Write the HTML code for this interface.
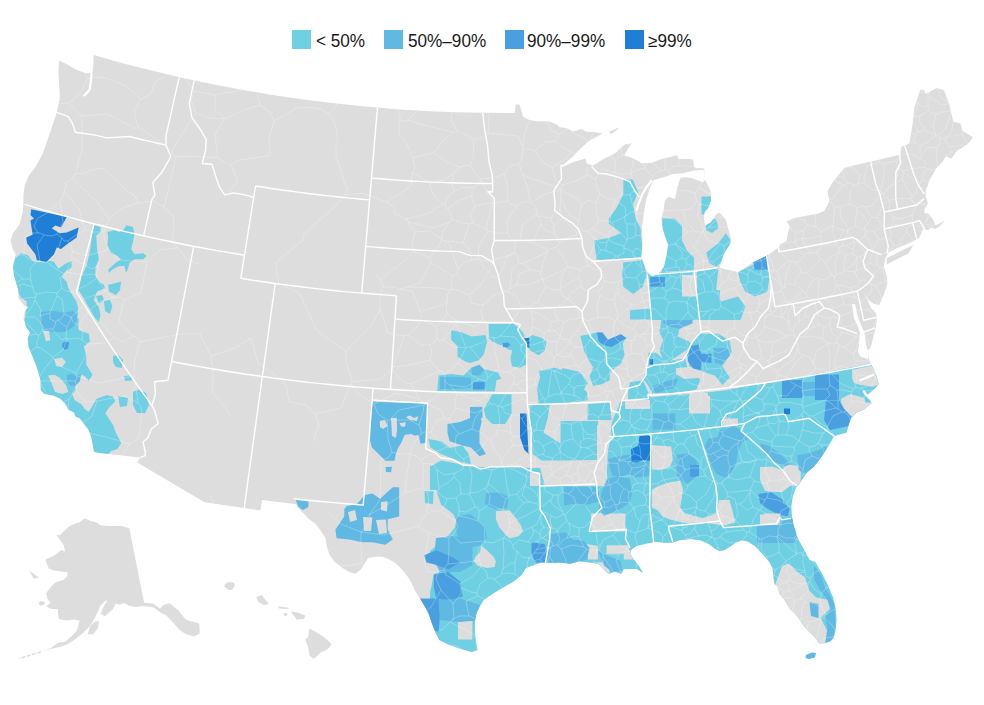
<!DOCTYPE html>
<html><head><meta charset="utf-8"><style>
html,body{margin:0;padding:0;background:#fff;}
body{width:984px;height:705px;overflow:hidden;position:relative;font-family:"Liberation Sans",sans-serif;}
.sw{position:absolute;top:30px;width:19px;height:19px;}
.tx{position:absolute;top:30.5px;font-size:17.6px;line-height:20px;color:#1a1a1a;white-space:nowrap;transform:scaleX(0.975);transform-origin:0 0;}
svg{position:absolute;left:0;top:0;}
</style></head><body>
<svg width="984" height="705" viewBox="0 0 984 705">
<path d="M59.1,60.6 L66.9,64.2 L76.8,69.9 L86.7,73.4 L92.5,72 L93.4,64 L93.6,55.1 L119.8,62.4 L149.7,70.1 L179.8,77.2 L210.1,83.7 L240.4,89.5 L270.9,94.7 L301.4,99.2 L332.1,103.1 L362.8,106.3 L393.6,108.9 L424.5,110.9 L455.4,112.2 L483.2,112.8 L514.9,112.9 L515.7,104.5 L519.6,104.5 L521.5,110.9 L523.3,117 L529.4,120 L536.7,121.2 L548.9,121.2 L556.2,124.3 L559.9,127.3 L566,127.9 L573.3,131.6 L581.8,129.1 L585.5,131.6 L595.2,132.2 L602.6,133.4 L590.4,140.1 L583,146.2 L573.3,156 L562.3,165.7 L562.3,167 L573.3,162.1 L585.5,158.4 L586.7,163.3 L592.8,165.7 L602.6,159.6 L614.8,153.5 L620,148.5 L624.8,144.4 L632.1,143.2 L628.4,148 L624.1,155.4 L628.4,156.6 L634.5,159 L641.8,163.3 L651.6,162.7 L661.3,159 L672.3,156.6 L677.2,154.8 L678.4,159 L688.2,159 L693,159.6 L694.3,167.6 L700.4,168.2 L703.4,168.2 L704.5,171 L705,180 L708.9,187.1 L711.3,193.2 L710.8,201.3 L707.9,208.4 L705.1,211.2 L703.7,215.5 L705.1,225.4 L710.8,222.6 L716.5,214 L719.6,212.8 L725.7,219.6 L728.7,230.3 L731,237.9 L730.2,244 L724.1,253.2 L721.1,262.3 L719.5,267.7 L737.9,272.2 L753.1,262.3 L766.8,255.5 L768.4,254.7 L779,247.1 L780.5,244 L786.6,241 L788.2,231.8 L789.7,227.3 L786.6,221.2 L794.3,218.1 L806.5,215.8 L818.7,213.5 L824.8,210.5 L829.3,201.3 L827.5,191 L833.3,181.2 L839.4,173.9 L844.3,167.8 L851.6,166 L863.8,162.9 L871.7,161.5 L880.9,159.3 L900.4,154.4 L901,147.1 L905.2,145.2 L909.5,143.5 L910.5,137 L912.7,123.5 L914.5,106.9 L920,90.3 L923.7,89.4 L925.6,94 L936.6,87.9 L944,90.3 L949.5,105 L953.2,121.6 L960.6,123.5 L962.4,130.8 L973.1,137.3 L968,143.7 L956.9,151.1 L951.4,158.5 L945.9,156.6 L942.2,162.2 L936.6,167.7 L929.3,180.6 L925.6,191.7 L925.6,196.1 L928,203.4 L924.4,209.5 L924.4,213.2 L928,213.2 L932.9,219.3 L935.4,225.4 L940.2,222.9 L945.1,220.5 L941,225 L935.4,229 L930.5,227.8 L928,230.2 L923.2,229 L919.5,237.6 L913.4,241.2 L904.9,244.9 L896.3,248.5 L889,252.2 L886.6,255.9 L885.4,258 L883.8,266.4 L887.2,277.7 L887.2,284.5 L883.8,294.7 L879.2,304.9 L873.6,303.8 L869,300.4 L863.3,292.5 L866,297 L871.3,308.3 L875.8,312.9 L877,318.6 L875.8,327.6 L873.8,335.4 L870.9,346.7 L868.1,351 L869.5,360.9 L872.3,366.6 L873.8,369.4 L876.6,376.5 L878.6,384.2 L875,388.4 L867.3,394.8 L871.5,403.3 L863.7,409.7 L856.6,412.5 L851,418.2 L848.1,426.7 L846.7,432.4 L836.8,435.2 L833.9,436.6 L829.7,443.7 L825.4,450.8 L820,459 L813.5,467 L806.8,472.8 L801.1,481.3 L795.5,488.4 L792.6,496.9 L791.2,506.8 L791.9,516.7 L794,526.7 L798.3,539.4 L804,549.4 L809.6,560 L815.3,562.1 L822.7,575 L828.2,586.1 L832.8,597.1 L835.6,608.2 L836.5,619.3 L835.6,630.3 L833.7,637.7 L830,641.4 L824.5,643.2 L819,643.2 L815.3,637.7 L809.8,632.2 L804.2,626.6 L799.6,619.3 L795,613.7 L789.5,608.2 L784,599 L779.4,593.5 L777.5,586.1 L774.7,584.2 L773.6,578 L772.5,568 L769,561.5 L762.4,553.7 L755.1,546.3 L747.8,541.5 L741.7,540.2 L735.6,542.7 L730.7,546.3 L724.6,550 L719.8,551.2 L714.9,548.8 L708.8,543.9 L700.2,540.2 L690.5,539 L679.5,540.2 L672.2,542.7 L664.9,542.7 L657,542.1 L655.1,542.1 L646.8,543.4 L636.6,546 L632.8,548.5 L630.2,551.1 L631.5,556.2 L639.2,566.4 L643,572.8 L636.6,568.9 L623.8,568.9 L621.3,574 L614.9,571.5 L608.5,574 L604.7,570.2 L598.3,563.8 L589.4,562.6 L579.1,561.3 L570.2,563.8 L560,562.6 L554.9,562.8 L545.7,562.8 L540.4,562.8 L532.5,565.5 L525.9,568.1 L521.9,574.7 L514,581.3 L504.7,586.6 L495.5,591.9 L487.6,597.2 L483.6,600 L480,606 L476.6,612.8 L474.9,621.3 L474.9,631.5 L475.8,641.7 L477.5,650.2 L471.5,651.9 L459.6,648.5 L449.4,645.1 L439.2,640 L435.8,633.2 L432.4,624.7 L428.9,614.5 L425.5,607.7 L420.4,599.2 L414.9,590 L412.1,583.7 L407.8,576.6 L403.5,570.9 L396.4,563.8 L389.3,559.5 L382.2,556.7 L375.2,556.7 L368.1,558.1 L365.2,562.4 L361,569.5 L355.3,573.7 L349.6,572.3 L342.5,568.1 L335.4,562.4 L329.7,555.3 L326.9,546.8 L325.5,538.3 L321.2,531.2 L315.5,524.1 L308.4,518.4 L301.4,511.3 L295.7,504.2 L294.8,503.9 L262,499.9 L260.6,510.4 L204.6,502.3 L137.1,462.6 L139.8,457.6 L93.2,452.2 L93.8,450.9 L92.4,443.8 L91,436.7 L88.2,429.6 L83.9,423.9 L79.6,418.2 L75.4,416.8 L74,412.6 L68.3,409.7 L65.5,404 L59.8,398.4 L52.7,395.5 L44.2,394.1 L40.6,389.9 L40.4,380.8 L38.3,372.3 L35.5,363.8 L31.9,355.2 L28.4,346.7 L27.7,338.2 L29.8,332.6 L26.2,326.9 L23.4,318.4 L24.8,311.3 L28.4,307 L24.1,305.6 L18.4,298.5 L18.4,290 L17,285.8 L14.2,275.9 L12.8,265.9 L15.6,254.6 L12.8,248.9 L10.6,240.4 L12.8,233.3 L16.3,229 L19.9,223.4 L22.7,212 L23.4,204.2 L23.4,195 L24.8,185.1 L28.4,176.6 L35.5,166.7 L42.6,153.9 L49.6,134 L53.9,121.3 L56.7,112.8 L57.4,108.5 L59.6,100 L59.8,95.4 L58.4,72.7Z" fill="#dddddd"/>
<path d="M129.3,528.2 L121.4,526 L114.9,526.1 L107.6,526 L100.5,525.3 L96,522.2 L90.6,521.1 L84.7,518.3 L79.9,522.2 L75.7,523.5 L69.8,526.1 L64.9,530.3 L59.7,535.2 L56.2,534.7 L60.4,540.2 L63.7,545.6 L65.1,551.5 L61.1,550.1 L57.3,553.6 L52.9,556.2 L45.4,559.6 L48.8,568.6 L53.9,570.4 L60.8,571.4 L67.7,572.3 L67.3,576.3 L63.3,580 L55.6,582.2 L51.2,586.5 L46.2,593 L47.2,598.2 L50.5,602.9 L46.2,606.3 L51.6,608.9 L57.7,608.9 L58.6,618.9 L66.9,620.6 L73.3,619.5 L79.6,620.6 L77,630.3 L72.2,635.8 L65,641.7 L58,642.7 L50.3,648.3 L41.2,651.8 L50.2,649.1 L59.8,647 L67,644.4 L74.2,640 L81.2,634.6 L87.9,628.2 L92.2,622.6 L95.5,616.8 L100.2,606.1 L104,601.9 L107.8,599.6 L102.7,608.5 L100.8,613.4 L104.7,616.6 L108.6,613.1 L112.5,609.5 L116,603.5 L120.1,604.7 L123.9,602.7 L128.3,605.4 L134.6,606.9 L142.8,606.3 L149.1,606.7 L153.5,607.4 L161.3,613.1 L166.2,615.2 L172.6,621.9 L179.6,630 L185.7,634.1 L193.9,636.6 L199.8,633.6 L199.3,624.2 L197.9,623 L191,621.2 L185.7,619.5 L178,610 L169.4,603.3 L163.4,604.9 L160.1,608.4 L152.5,603.5 L144.1,602.7Z" fill="#dddddd"/>
<path d="M88,634 L90,626 L95,621.5 L99,621 L98,628 L93,634.5Z" fill="#dddddd"/>
<path d="M29.5,570.8 L39,577.4 L33.8,578.7Z" fill="#dddddd"/>
<path d="M38.5,603 L41,601 L44.6,602 L44,605 L40,605.5Z" fill="#dddddd"/>
<path d="M41.2,651.8 L32.5,654.4 L25,656.8 L19.5,658.2" fill="none" stroke="#dddddd" stroke-width="1.5" stroke-dasharray="4 1.5"/>
<path d="M224.9,584.2 L228.5,582.1 L234.1,582.8 L234.9,585.6 L232,589.9 L228.5,589.9 L224.2,586.4Z" fill="#dddddd"/>
<path d="M256.2,597 L261.9,594.9 L265.4,599.9 L269,604.1 L264,604.9 L258.3,602Z" fill="#dddddd"/>
<path d="M278.2,606.3 L288.9,607.7 L288.2,609.1 L279,608.4Z" fill="#dddddd"/>
<path d="M283.5,612.7 L287.5,613.5 L286.5,616.2 L284,615.5Z" fill="#dddddd"/>
<path d="M291.1,611.3 L298.2,612.7 L305.3,615.5 L303.9,619.1 L296.7,619.8 L293.9,615.5 L291.8,613.4Z" fill="#dddddd"/>
<path d="M309.5,628.3 L316.7,632.6 L323.8,636.9 L331.6,644 L328,649 L320.9,652.5 L313.8,658.9 L309.5,655.4 L308.1,646.8 L305.3,639.7 L308.1,636.9Z" fill="#dddddd"/>
<clipPath id="land"><path d="M59.1,60.6 L66.9,64.2 L76.8,69.9 L86.7,73.4 L92.5,72 L93.4,64 L93.6,55.1 L119.8,62.4 L149.7,70.1 L179.8,77.2 L210.1,83.7 L240.4,89.5 L270.9,94.7 L301.4,99.2 L332.1,103.1 L362.8,106.3 L393.6,108.9 L424.5,110.9 L455.4,112.2 L483.2,112.8 L514.9,112.9 L515.7,104.5 L519.6,104.5 L521.5,110.9 L523.3,117 L529.4,120 L536.7,121.2 L548.9,121.2 L556.2,124.3 L559.9,127.3 L566,127.9 L573.3,131.6 L581.8,129.1 L585.5,131.6 L595.2,132.2 L602.6,133.4 L590.4,140.1 L583,146.2 L573.3,156 L562.3,165.7 L562.3,167 L573.3,162.1 L585.5,158.4 L586.7,163.3 L592.8,165.7 L602.6,159.6 L614.8,153.5 L620,148.5 L624.8,144.4 L632.1,143.2 L628.4,148 L624.1,155.4 L628.4,156.6 L634.5,159 L641.8,163.3 L651.6,162.7 L661.3,159 L672.3,156.6 L677.2,154.8 L678.4,159 L688.2,159 L693,159.6 L694.3,167.6 L700.4,168.2 L703.4,168.2 L704.5,171 L705,180 L708.9,187.1 L711.3,193.2 L710.8,201.3 L707.9,208.4 L705.1,211.2 L703.7,215.5 L705.1,225.4 L710.8,222.6 L716.5,214 L719.6,212.8 L725.7,219.6 L728.7,230.3 L731,237.9 L730.2,244 L724.1,253.2 L721.1,262.3 L719.5,267.7 L737.9,272.2 L753.1,262.3 L766.8,255.5 L768.4,254.7 L779,247.1 L780.5,244 L786.6,241 L788.2,231.8 L789.7,227.3 L786.6,221.2 L794.3,218.1 L806.5,215.8 L818.7,213.5 L824.8,210.5 L829.3,201.3 L827.5,191 L833.3,181.2 L839.4,173.9 L844.3,167.8 L851.6,166 L863.8,162.9 L871.7,161.5 L880.9,159.3 L900.4,154.4 L901,147.1 L905.2,145.2 L909.5,143.5 L910.5,137 L912.7,123.5 L914.5,106.9 L920,90.3 L923.7,89.4 L925.6,94 L936.6,87.9 L944,90.3 L949.5,105 L953.2,121.6 L960.6,123.5 L962.4,130.8 L973.1,137.3 L968,143.7 L956.9,151.1 L951.4,158.5 L945.9,156.6 L942.2,162.2 L936.6,167.7 L929.3,180.6 L925.6,191.7 L925.6,196.1 L928,203.4 L924.4,209.5 L924.4,213.2 L928,213.2 L932.9,219.3 L935.4,225.4 L940.2,222.9 L945.1,220.5 L941,225 L935.4,229 L930.5,227.8 L928,230.2 L923.2,229 L919.5,237.6 L913.4,241.2 L904.9,244.9 L896.3,248.5 L889,252.2 L886.6,255.9 L885.4,258 L883.8,266.4 L887.2,277.7 L887.2,284.5 L883.8,294.7 L879.2,304.9 L873.6,303.8 L869,300.4 L863.3,292.5 L866,297 L871.3,308.3 L875.8,312.9 L877,318.6 L875.8,327.6 L873.8,335.4 L870.9,346.7 L868.1,351 L869.5,360.9 L872.3,366.6 L873.8,369.4 L876.6,376.5 L878.6,384.2 L875,388.4 L867.3,394.8 L871.5,403.3 L863.7,409.7 L856.6,412.5 L851,418.2 L848.1,426.7 L846.7,432.4 L836.8,435.2 L833.9,436.6 L829.7,443.7 L825.4,450.8 L820,459 L813.5,467 L806.8,472.8 L801.1,481.3 L795.5,488.4 L792.6,496.9 L791.2,506.8 L791.9,516.7 L794,526.7 L798.3,539.4 L804,549.4 L809.6,560 L815.3,562.1 L822.7,575 L828.2,586.1 L832.8,597.1 L835.6,608.2 L836.5,619.3 L835.6,630.3 L833.7,637.7 L830,641.4 L824.5,643.2 L819,643.2 L815.3,637.7 L809.8,632.2 L804.2,626.6 L799.6,619.3 L795,613.7 L789.5,608.2 L784,599 L779.4,593.5 L777.5,586.1 L774.7,584.2 L773.6,578 L772.5,568 L769,561.5 L762.4,553.7 L755.1,546.3 L747.8,541.5 L741.7,540.2 L735.6,542.7 L730.7,546.3 L724.6,550 L719.8,551.2 L714.9,548.8 L708.8,543.9 L700.2,540.2 L690.5,539 L679.5,540.2 L672.2,542.7 L664.9,542.7 L657,542.1 L655.1,542.1 L646.8,543.4 L636.6,546 L632.8,548.5 L630.2,551.1 L631.5,556.2 L639.2,566.4 L643,572.8 L636.6,568.9 L623.8,568.9 L621.3,574 L614.9,571.5 L608.5,574 L604.7,570.2 L598.3,563.8 L589.4,562.6 L579.1,561.3 L570.2,563.8 L560,562.6 L554.9,562.8 L545.7,562.8 L540.4,562.8 L532.5,565.5 L525.9,568.1 L521.9,574.7 L514,581.3 L504.7,586.6 L495.5,591.9 L487.6,597.2 L483.6,600 L480,606 L476.6,612.8 L474.9,621.3 L474.9,631.5 L475.8,641.7 L477.5,650.2 L471.5,651.9 L459.6,648.5 L449.4,645.1 L439.2,640 L435.8,633.2 L432.4,624.7 L428.9,614.5 L425.5,607.7 L420.4,599.2 L414.9,590 L412.1,583.7 L407.8,576.6 L403.5,570.9 L396.4,563.8 L389.3,559.5 L382.2,556.7 L375.2,556.7 L368.1,558.1 L365.2,562.4 L361,569.5 L355.3,573.7 L349.6,572.3 L342.5,568.1 L335.4,562.4 L329.7,555.3 L326.9,546.8 L325.5,538.3 L321.2,531.2 L315.5,524.1 L308.4,518.4 L301.4,511.3 L295.7,504.2 L294.8,503.9 L262,499.9 L260.6,510.4 L204.6,502.3 L137.1,462.6 L139.8,457.6 L93.2,452.2 L93.8,450.9 L92.4,443.8 L91,436.7 L88.2,429.6 L83.9,423.9 L79.6,418.2 L75.4,416.8 L74,412.6 L68.3,409.7 L65.5,404 L59.8,398.4 L52.7,395.5 L44.2,394.1 L40.6,389.9 L40.4,380.8 L38.3,372.3 L35.5,363.8 L31.9,355.2 L28.4,346.7 L27.7,338.2 L29.8,332.6 L26.2,326.9 L23.4,318.4 L24.8,311.3 L28.4,307 L24.1,305.6 L18.4,298.5 L18.4,290 L17,285.8 L14.2,275.9 L12.8,265.9 L15.6,254.6 L12.8,248.9 L10.6,240.4 L12.8,233.3 L16.3,229 L19.9,223.4 L22.7,212 L23.4,204.2 L23.4,195 L24.8,185.1 L28.4,176.6 L35.5,166.7 L42.6,153.9 L49.6,134 L53.9,121.3 L56.7,112.8 L57.4,108.5 L59.6,100 L59.8,95.4 L58.4,72.7Z"/></clipPath>
<g clip-path="url(#land)">
<path d="M15.4,257.4 L21.1,253.3 L27.6,255 L32.5,260.7 L39,262.3 L47.2,260.7 L53.7,261.5 L58.5,268.8 L65,263.9 L71.5,260.7 L71.5,267.2 L65,272 L61.8,276.9 L66.7,281.8 L68.3,288.3 L73.2,296.4 L76.4,301.3 L78,307.8 L78,314.3 L76.4,320.8 L74.8,330 L26,330 L24.4,320.8 L26,311.1 L26.8,301.3 L21.1,298 L16.3,288.3 L13,276.9 L13,267.2Z" fill="#6fcfe3"/>
<path d="M31.2,209.2 L66.7,217 L61,227.6 L55.3,225.5 L51.8,228.3 L59.6,233.3 L66.7,232.6 L78.7,227.6 L76.6,237.6 L66.7,244.6 L61,248.9 L56.7,247.5 L53.9,254.6 L46.8,261.7 L36.9,260.2 L35.5,254.6 L27,243.2 L26.2,237.6 L32.6,234.7 L30.5,220.5 L34,218.4 L30.5,214.9Z" fill="#1f7fd6"/>
<path d="M93.7,225.2 L100.5,226.9 L100.5,232 L96.3,235.4 L97.1,249 L98.8,259.3 L95.4,267.8 L95.4,276.3 L100.5,283.1 L103.9,284.8 L104.8,288.2 L97.1,291.6 L93.7,300.1 L98.8,306.9 L100.5,315.4 L98.8,322.2 L95.4,318.8 L88.6,306.9 L81.8,295 L78.4,289.9 L81.8,276.3 L86.9,264.4 L90.3,249 L92,235.4Z" fill="#6fcfe3"/>
<path d="M107.3,232 L114.1,230.3 L119.3,232 L124.4,228.6 L126.1,225.2 L132.9,226.9 L134.6,233.7 L132.9,242.2 L131.2,249 L134.6,254.1 L143.1,253.3 L146.5,255.9 L143.1,259.3 L134.6,259.3 L129.5,262.7 L127.8,269.5 L126.1,272.9 L124.4,266.1 L119.3,266.1 L112.4,269.5 L109,272.9 L108.2,269.5 L115.9,262.7 L121,259.3 L117.6,255.9 L110.7,252.4 L107.3,245.6 L108.2,237.1Z" fill="#6fcfe3"/>
<path d="M108.2,284.8 L115.9,283.1 L121,281.4 L120.1,289.9 L115.9,295 L109,291.6Z" fill="#6fcfe3"/>
<path d="M104,301 L110,300 L112.4,306 L110,313.7 L105,311Z" fill="#6fcfe3"/>
<path d="M96,296 L102,295 L104,300 L99,303.5Z" fill="#6fcfe3"/>
<path d="M346.8,505.9 L357,503.9 L364.7,494.9 L372.4,493.6 L380,498.7 L392.8,487.3 L399.2,487.3 L399.2,516.6 L387.7,519.2 L387.7,529.4 L392.8,539.6 L385.2,544.7 L372.4,542.2 L362.2,542.2 L349.4,539.6 L336.6,538.3 L335.4,529.4 L344.3,516.6 L344.3,509Z" fill="#5fb9e2"/>
<path d="M363,517 L372.4,517.5 L371,531 L364,531Z" fill="#dddddd"/>
<path d="M376,520 L386,519.5 L387,533 L379,534Z" fill="#dddddd"/>
<path d="M381,502 L387.7,501.3 L387,511.5 L381,510Z" fill="#dddddd"/>
<path d="M348,512 L355,510 L357,520 L350,522Z" fill="#dddddd"/>
<path d="M295.7,499.9 L308.4,501.4 L308.4,507 L302.8,509.9 L298.5,507Z" fill="#5fb9e2"/>
<path d="M26,318 L78.5,318 L78.5,330 L88.7,333.8 L90,341.5 L83.6,346.6 L86.2,354.3 L86.2,364.5 L92.6,374.7 L88.7,381.1 L84.9,376 L81.1,374.7 L74.7,386.2 L76,390 L72.1,393.9 L74.7,400.2 L81.1,404.1 L84.9,409.2 L88.7,411.7 L91.3,407.9 L96.4,399 L106.6,395.1 L113,396.4 L115.2,401.4 L109.3,407.3 L105.3,413.3 L109.3,419.3 L113.2,425.2 L115.2,431.2 L121.2,443.1 L117.2,449 L111.2,451 L107.3,455 L97.3,453 L93.8,450.9 L92.4,443.8 L91,436.7 L88.2,429.6 L83.9,423.9 L79.6,418.2 L75.4,416.8 L74,412.6 L68.3,409.7 L65.5,404 L59.8,398.4 L52.7,395.5 L44.2,394.1 L40.6,389.9 L40.4,380.8 L38.3,372.3 L35.5,363.8 L31.9,355.2 L28.4,346.7 L27.7,338.2 L29.8,332.6 L26.2,326.9Z" fill="#6fcfe3"/>
<path d="M67,375 L72,373.4 L75,376 L81,374.7 L80,381 L75,386.2 L70,385 L67,381Z" fill="#5fb9e2"/>
<path d="M41,312 L53.7,311.1 L65,312.7 L73.2,311.1 L77,315 L76.4,322 L73.2,327 L65,332 L52,332 L44,329 L40.5,320.8Z" fill="#5fb9e2"/>
<path d="M62.5,343 L66,341.5 L69,342.5 L68,348.5 L65,350 L62,347Z" fill="#4a9fe0"/>
<path d="M43,331 L49,331 L50.4,340 L46,341.5Z" fill="#dddddd"/>
<path d="M54.3,359 L62,357.5 L65.8,362 L62,367 L56,366Z" fill="#dddddd"/>
<path d="M47.9,375.5 L54.3,374.7 L60,378 L66,385 L68.3,392 L62,394 L55,392 L52,384Z" fill="#dddddd"/>
<path d="M113,356 L118,355 L123,360 L122,368 L116,367 L113,362Z" fill="#6fcfe3"/>
<path d="M124,376 L131,375.6 L132,380.5 L125,381Z" fill="#6fcfe3"/>
<path d="M133,392 L139,389.5 L146,393 L149,405 L145,413.3 L137,413 L133,405Z" fill="#6fcfe3"/>
<path d="M118,396 L128,398 L127,406 L120,407Z" fill="#6fcfe3"/>
<path d="M451.2,330.3 L460.6,331.9 L471.5,336.5 L485.6,335 L487.1,341.2 L484,353.7 L479.3,360 L470,363.1 L465.3,361.5 L457.5,356.8 L457.5,345.9 L451.2,339.7Z" fill="#6fcfe3"/>
<path d="M488.7,324 L501.2,324 L513.7,324 L519.9,328.7 L524,334 L526.1,345.9 L526.1,364.6 L519.9,367.8 L512.1,366.2 L510.5,358.4 L512.1,350.6 L507.4,349 L504.3,345.9 L498,344.3 L491.8,341.2 L488.7,338.1Z" fill="#6fcfe3"/>
<path d="M502.7,343 L508,342.5 L510.5,345 L507,347.5 L503,347Z" fill="#4a9fe0"/>
<path d="M438.7,375.6 L451.2,374 L463.7,375.6 L471.5,367.8 L479.3,364.6 L484,369.3 L491.8,370.9 L498,372.4 L501.2,378.7 L496.5,380.2 L494.9,391.2 L437.2,391.2Z" fill="#6fcfe3"/>
<path d="M440,377 L462,377 L471,378 L471,388 L455,389 L440,389Z" fill="#5fb9e2"/>
<path d="M473,382 L485.6,381.8 L485,389.6 L473,389.6Z" fill="#4a9fe0"/>
<path d="M471.5,367.8 L479.3,365 L484,370 L480,375.6 L472,375Z" fill="#5fb9e2"/>
<path d="M527.7,338.1 L532.4,335 L541.7,338.1 L546.4,341.2 L544.9,350.6 L538.6,355.3 L532.4,352.1 L527.7,347.5Z" fill="#6fcfe3"/>
<path d="M524.6,338 L529.3,338 L529.3,347.5 L526,347Z" fill="#1f7fd6"/>
<path d="M538.6,370.9 L554.2,367.8 L560.5,369.3 L570,378.7 L572,392 L570,403.7 L538.6,403.7 L537.1,388 L540.2,377.1Z" fill="#6fcfe3"/>
<path d="M372.4,401.8 L426.8,403.5 L426.3,442.7 L420.6,443.8 L418.3,434.7 L414.9,435.8 L411.5,434.1 L404.7,434.7 L401.3,442.7 L397.9,448.3 L395.6,455.1 L394.5,460.8 L385.4,460.8 L378.6,454 L371.8,447.2 L370.1,440.4 L371.2,417.7Z" fill="#5fb9e2"/>
<path d="M385.6,467 L392,466.8 L391,472.2 L386,472Z" fill="#5fb9e2"/>
<path d="M391,418 L396.8,417.7 L397,430 L396,438 L392,436Z" fill="#dddddd"/>
<path d="M379.7,421 L385,420 L387.7,426 L383,429 L380,427Z" fill="#dddddd"/>
<path d="M399.5,423 L405.8,422.2 L405,426.8 L401,426.5Z" fill="#dddddd"/>
<path d="M406,417 L410,415.4 L414,418 L418.3,416 L417,421 L410,420Z" fill="#dddddd"/>
<path d="M428.3,439.1 L441.1,441.2 L449.6,447.6 L462.4,445.5 L468.8,454 L471,464.7 L462.4,462.6 L451.8,458.3 L441.1,454 L430.4,447.6Z" fill="#6fcfe3"/>
<path d="M447.5,424.1 L460.3,422 L471,417.7 L471,411.3 L479.5,409.2 L481.6,422 L479.5,430.5 L479.5,443.4 L485.9,454 L479.5,456.2 L471,447.6 L462.4,445.5 L449.6,441.2 L447.5,432.7Z" fill="#5fb9e2"/>
<path d="M483.8,409.2 L492.3,394.3 L511.5,394.3 L511.5,413.5 L505.1,424.1 L492.3,424.1 L485.9,417.7Z" fill="#6fcfe3"/>
<path d="M470,407 L482.4,406.8 L482.4,418 L470,418Z" fill="#5fb9e2"/>
<path d="M520,413.5 L526.5,413.5 L528.6,454 L524.3,449.8 L520,436.9Z" fill="#1f7fd6"/>
<path d="M529.5,405 L549.6,405 L547.8,417.7 L543.5,432.7 L560.6,443.4 L560.6,460.4 L541.4,460.4 L532.9,454 L530.7,432.7Z" fill="#6fcfe3"/>
<path d="M420,403.7 L427,403.7 L427,420 L420,420Z" fill="#5fb9e2"/>
<path d="M430.4,466.8 L441.1,460.4 L451.8,462.6 L462.4,464.7 L471,466.8 L479.5,466.8 L490.2,469 L498.7,466.8 L509.4,466.8 L522.2,471.1 L532.9,473.2 L539.3,473.2 L539.3,488.2 L543.5,503.1 L546,530 L430.4,530 L428.3,509.5 L432.6,486 L430.4,475.4Z" fill="#6fcfe3"/>
<path d="M522,471.5 L539.3,473.2 L539.3,486 L528,486Z" fill="#dddddd"/>
<path d="M461.3,467 L476,466.4 L486.9,470 L486,482 L478,487.7 L466,485 L461.3,476Z" fill="#5fb9e2"/>
<path d="M486,490 L500,489.1 L509.6,495 L508,508 L495,510.5 L485.4,503Z" fill="#5fb9e2"/>
<path d="M560,378 L576,382 L587,392 L587.6,400.6 L575,402 L560,402Z" fill="#6fcfe3"/>
<path d="M562,368 L580,372 L588,383 L582,392 L568,395 L560,390Z" fill="#6fcfe3"/>
<path d="M580.3,336.1 L596.9,332.4 L602.4,332.4 L607.9,339.8 L620.8,334.2 L626.4,337.9 L622.7,343.5 L624.5,354.5 L620.8,363.7 L615.3,367.4 L609.8,373 L609.8,380.3 L602.4,384 L593.2,385.9 L589.5,376.6 L593.2,367.4 L587.6,358.2 L584,350.8Z" fill="#6fcfe3"/>
<path d="M596.9,332.4 L602.4,332.4 L607.9,339.8 L620.8,334.2 L626.4,337.9 L620.8,341.6 L611.6,347.1 L604.2,345.3 L598.7,341.6Z" fill="#4a9fe0"/>
<path d="M630,310.3 L650.3,308.4 L650.3,319.5 L630,319.5Z" fill="#6fcfe3"/>
<path d="M652.2,288 L698.2,288 L698.2,308.4 L692.7,321.3 L679.8,326.9 L678,336.1 L689,341.6 L692.7,345.3 L679.8,354.5 L674.3,358.2 L668.8,361.9 L663.2,360 L659.5,350.8 L663.2,339.8 L659.5,332.4 L661.4,319.5 L652.2,317.6 L651.2,301.1Z" fill="#6fcfe3"/>
<path d="M663.2,317.6 L679.8,315.8 L690.9,317.6 L692.7,323.2 L679.8,328.7 L670.6,326.9 L663.2,323.2Z" fill="#5fb9e2"/>
<path d="M648.5,352.7 L655.9,352.7 L666.9,361.9 L674.3,360 L685.3,358.2 L687.2,367.4 L696.4,373 L700.1,380.3 L696.4,389.5 L685.3,391.4 L670.6,393.2 L652.2,393.2 L648.5,385.9 L643,378.5 L646.6,369.3 L648.5,361.9Z" fill="#6fcfe3"/>
<path d="M652.2,385.9 L670.6,380.3 L678,378.5 L674.3,387.7 L655.9,393.2Z" fill="#5fb9e2"/>
<path d="M676,368 L690,367 L699,372 L699,378 L684,379 L676,374Z" fill="#dddddd"/>
<path d="M698.6,333.7 L718.8,333.7 L729.8,341 L731.6,352 L722.4,366.6 L729.8,377.6 L722.4,384.9 L715.1,375.7 L704.1,372 L689.5,366.6 L685.9,352 L693.2,342.8Z" fill="#6fcfe3"/>
<path d="M689.5,346.5 L698.6,344.6 L702.3,357.4 L700.5,370.2 L693.2,368.4 L687.7,361Z" fill="#4a9fe0"/>
<path d="M713.3,348.3 L727.9,348.3 L729.8,355.6 L722.4,364.8 L715.1,362.9Z" fill="#5fb9e2"/>
<path d="M700.5,354 L711.5,353.8 L711.5,363 L702,362Z" fill="#4a9fe0"/>
<path d="M649.5,359.5 L653,359 L653,364.7 L649.5,364.5Z" fill="#1f7fd6"/>
<path d="M722,399.5 L730,399.5 L730,406.8 L722,406.8Z" fill="#5fb9e2"/>
<path d="M750,386 L765,384 L764,398 L752,400Z" fill="#dddddd"/>
<path d="M630,382.2 L643,380.3 L648.5,393.2 L650.3,398.8 L637.4,400.6 L628.2,400.6 L628.2,391.4Z" fill="#6fcfe3"/>
<path d="M587.6,404.3 L609.8,402.4 L611.6,420 L587.6,420Z" fill="#6fcfe3"/>
<path d="M620.8,402.4 L652.2,396.9 L720,391.4 L720,420 L620.8,420Z" fill="#6fcfe3"/>
<path d="M689,394 L707.5,393 L707.5,420 L689,420Z" fill="#dddddd"/>
<path d="M698,290 L720,290 L720,317.6 L705,316 L700,305Z" fill="#6fcfe3"/>
<path d="M560.6,421 L598,421 L598,460 L560.6,460.4Z" fill="#6fcfe3"/>
<path d="M430,466 L540,468 L545,486 L598,486 L605,470 L612,422 L620,402 L720,391 L760,384 L800,377 L880,362 L885,660 L430,660Z" fill="#6fcfe3"/>
<path d="M597,425 L609,425 L611,436 L608,450 L607,470 L607,486 L597,486Z" fill="#dddddd"/>
<path d="M591.3,513.5 L625.3,513.5 L625.3,531.6 L591.3,531.6Z" fill="#dddddd"/>
<path d="M651.9,444.9 L671.3,446.4 L672.8,459.8 L669.8,467.3 L659.4,470.2 L651.9,468.7Z" fill="#dddddd"/>
<path d="M651.9,489.6 L660.9,485.1 L669.8,482.2 L680.2,480.7 L683.2,489.6 L681.7,498.6 L680.2,507.5 L684.7,513.5 L702.6,517.9 L716,513.5 L719,500 L729.4,500 L732.4,510.5 L735.4,522.4 L723.5,525.4 L702.6,522.4 L684.7,523.1 L669.8,519.4 L662.4,516.4 L657.9,510.5 L651.9,507.5Z" fill="#dddddd"/>
<path d="M625,400 L650,400 L650,409 L625,409Z" fill="#dddddd"/>
<path d="M689,396 L710,396 L710,413.6 L689,413.6Z" fill="#dddddd"/>
<path d="M586.8,544 L598,546 L598,559.5 L588,559.5Z" fill="#dddddd"/>
<path d="M606.6,545.3 L629.3,545.3 L629.3,553.8 L606.6,553.8Z" fill="#dddddd"/>
<path d="M594,562.3 L609.5,562.3 L609.5,575 L594,575Z" fill="#dddddd"/>
<path d="M623.7,551 L637.9,551 L637.9,559.5 L623.7,559.5Z" fill="#dddddd"/>
<path d="M598,551 L609.5,556.6 L620.8,561 L622.2,570.8 L612.3,572.2 L603.8,565.2Z" fill="#5fb9e2"/>
<path d="M530,472.6 L539,472.6 L539,486 L530,486Z" fill="#dddddd"/>
<path d="M690,392.7 L708,392.7 L708,413 L690,413Z" fill="#dddddd"/>
<path d="M841.1,398.7 L850.3,394.1 L857.6,395.9 L864.1,397.8 L865,402.4 L870.5,402.4 L871.5,405.1 L862.2,411.6 L854,417.1 L850.3,415.3 L843.8,407.9 L841.1,402.4Z" fill="#dddddd"/>
<path d="M760,467 L772,466.4 L782.2,470 L786,464.6 L800.7,466 L800.7,484.9 L790,486 L782.2,492.2 L765,491 L760,480Z" fill="#dddddd"/>
<path d="M760,514.4 L778.5,514.4 L778.5,527.3 L760,527.3Z" fill="#dddddd"/>
<path d="M723,418.4 L738,418.4 L738,425.8 L723,425.8Z" fill="#dddddd"/>
<path d="M495.9,511.3 L509.5,510.2 L515.1,517 L520.8,525 L523.1,531.8 L518.5,536.3 L509.5,538.6 L504.9,534 L499.3,527.2 L495.9,519.3Z" fill="#dddddd"/>
<path d="M481.1,545.4 L486.8,549.9 L493.6,556.7 L495.9,561.3 L494.7,567 L486.8,568.1 L477.7,565.8 L473.7,561.3 L475.4,556.7 L480,552.2Z" fill="#dddddd"/>
<path d="M458,620.3 L472.4,620.3 L472.4,639.6 L458,639.6Z" fill="#dddddd"/>
<path d="M400,490 L436.2,490 L441,504.5 L453.1,514.1 L457.9,523.8 L448.3,535.8 L433.8,547.9 L424.1,555.2 L431.4,562.4 L443.4,569.6 L433.8,574.5 L431.4,586.5 L429,596.2 L419.3,598.6 L424.1,608.2 L431.4,620.3 L433.8,632.4 L436.2,639.6 L436,660 L400,660Z" fill="#dddddd"/>
<path d="M486,493 L500,492.4 L508.6,497 L507,508 L495,509.3 L485,504Z" fill="#5fb9e2"/>
<path d="M456.7,516.5 L470,514.1 L484.5,526.2 L486.9,538.3 L479.6,545.5 L467.6,548 L457.9,538.3 L455.5,526.2Z" fill="#5fb9e2"/>
<path d="M436,538 L455,535.8 L472.4,545 L472.4,565 L460,572 L440,572 L433.8,560Z" fill="#5fb9e2"/>
<path d="M424.1,555.2 L436.2,550.3 L453.1,557.6 L460.3,562.4 L448.3,569.6 L436.2,564.8 L426.5,562.4Z" fill="#4a9fe0"/>
<path d="M433.8,574.5 L448.3,572 L460.3,581.7 L462.7,596.2 L448.3,601 L436.2,598.6 L433.8,586.5Z" fill="#4a9fe0"/>
<path d="M419,598.6 L438.6,598.6 L440,615 L438.6,632.4 L430,630 L422,612Z" fill="#4a9fe0"/>
<path d="M438.6,600 L460,598.6 L479.6,605 L479.6,620.3 L460,622 L440,620Z" fill="#5fb9e2"/>
<path d="M531.5,541.9 L544.8,544.3 L547.2,552.7 L544.8,562.4 L535.1,562.4 L531.5,552.7Z" fill="#4a9fe0"/>
<path d="M549.9,533.9 L565.5,532.5 L572.6,539.6 L583.9,541 L589.6,548.1 L586.8,559.5 L572.6,563.7 L547,563.7Z" fill="#5fb9e2"/>
<path d="M564,487.1 L598.1,487.1 L599.5,501.3 L583.9,505.5 L572.6,504.1 L564,505.5Z" fill="#5fb9e2"/>
<path d="M608.4,459 L618.3,456.2 L629.7,454.8 L632.5,461.9 L631.1,471.8 L624,476 L612.7,476 L609.8,467.5Z" fill="#5fb9e2"/>
<path d="M626.9,466.1 L638.2,461.9 L649.5,460.4 L649.5,476 L636.8,477.4 L628.3,474.6Z" fill="#5fb9e2"/>
<path d="M639.5,436 L650.5,435.5 L650.5,461 L644,460 L637,462.5 L631.5,462 L631,449 L638,446Z" fill="#1f7fd6"/>
<path d="M607,478.9 L618.3,476 L629.7,478.9 L632.5,491.6 L629.7,503 L618.3,510 L604.2,515.7 L598.5,510 L601.3,493Z" fill="#5fb9e2"/>
<path d="M652.6,413.6 L675.3,413.6 L675.3,429.5 L652.6,429.5Z" fill="#5fb9e2"/>
<path d="M676,455 L688,453.3 L697.7,462 L696,478 L686,484.5 L677,476Z" fill="#5fb9e2"/>
<path d="M826,400.5 L839.2,400.5 L843.8,408.8 L851.2,417.1 L848.4,426 L830,430 L824,420Z" fill="#4a9fe0"/>
<path d="M797,455.3 L808.1,453.5 L819.1,449.8 L826.5,446.1 L828,455.3 L815.4,466.4 L804.4,473.8 L798.8,470.1Z" fill="#5fb9e2"/>
<path d="M760.1,443.4 L769.3,446.1 L782.2,455.3 L789.6,464.6 L784.1,466.4 L773,460.9 L763.8,453.5Z" fill="#5fb9e2"/>
<path d="M758.3,494.1 L771.2,492.2 L782.2,499.6 L789.6,508.8 L787.8,516.2 L778.5,514.4 L767.5,508.8 L760.1,503.3Z" fill="#4a9fe0"/>
<path d="M719.5,429.5 L734.3,426.7 L743.5,431.4 L749,438.7 L741.7,442.4 L738,451.7 L736.1,462.7 L732.4,471.9 L725,477.5 L715.8,473.8 L710.3,462.7 L704.8,446.1 L708.4,438.7 L717.7,436.9Z" fill="#5fb9e2"/>
<path d="M690,465 L699,465 L699,476.7 L690,476.7Z" fill="#4a9fe0"/>
<path d="M782,380 L802,380 L802,398 L782,398Z" fill="#4a9fe0"/>
<path d="M815,374.6 L839,374.6 L839,400 L815,400Z" fill="#4a9fe0"/>
<path d="M802,382 L815,382 L815,396 L802,396Z" fill="#5fb9e2"/>
<path d="M852.1,370.1 L871.5,365.5 L877.9,376.6 L877.9,384.9 L872.4,386.7 L866.8,385.8 L860.4,384.9 L854,383 L852.1,378.4Z" fill="#dddddd"/>
<path d="M784,408.6 L790,408.6 L790,414.3 L784,414.3Z" fill="#1f7fd6"/>
<path d="M623.4,179.5 L633.2,179.5 L638,191.7 L633.2,203.9 L635.6,218.5 L640.5,228.3 L643,257.6 L596.6,260 L594.1,240.5 L608.8,238 L621,233.2 L608.8,223.4 L608.8,218.5 L616.1,208.8 L623.4,194.1Z" fill="#6fcfe3"/>
<path d="M623.4,262.4 L642.9,260 L646.6,274.6 L642.9,286.8 L633.2,294.1 L623.4,286.8 L622.2,274.6Z" fill="#6fcfe3"/>
<path d="M647.8,273 L694.1,271 L696.6,286.8 L699,320 L650.2,320Z" fill="#6fcfe3"/>
<path d="M682,275 L696.6,275 L696.6,296.6 L682,296.6Z" fill="#dddddd"/>
<path d="M650.2,277 L664.9,277 L664.9,286.8 L650.2,286.8Z" fill="#4a9fe0"/>
<path d="M696.6,271 L718.5,268 L716.1,289.3 L721,301.5 L738,296.6 L745.4,306.3 L740.5,320 L699,320Z" fill="#6fcfe3"/>
<path d="M738,272.2 L752.7,264.9 L767.3,255.1 L769.8,274.6 L767.3,291.7 L755.1,296.6 L745.4,291.7 L740.5,282Z" fill="#6fcfe3"/>
<path d="M752.7,262 L767.3,255 L767.3,269.8 L755,269.8Z" fill="#4a9fe0"/>
<path d="M662.4,218.5 L674.6,218.5 L682,225.9 L682,240.5 L686.8,250.2 L694.1,257.6 L694.1,270 L662,272 L662.4,245.4Z" fill="#6fcfe3"/>
<path d="M701.5,196.6 L711.2,196.6 L711.2,208.8 L706.3,216.1 L701.5,213.7Z" fill="#6fcfe3"/>
<path d="M706,221 L716,219 L718.5,228 L712,233 L706,230Z" fill="#6fcfe3"/>
<path d="M706.3,252.7 L718.5,242.9 L725.9,233.2 L730.7,240.5 L728.3,250.2 L721,262.4 L716.1,267.3 L708.8,262.4Z" fill="#6fcfe3"/>
<path d="M775.4,583.9 L782.2,565.8 L789,563.5 L798,572.6 L804.9,577.1 L809.4,590.7 L816.2,597.5 L827.5,599.8 L829.8,608.9 L820.7,618 L825.3,627 L829.8,636.1 L825.3,643 L815,648 L790,630 L765,600Z" fill="#dddddd"/>
<path d="M814,565.8 L820.7,574.9 L825.3,588.5 L829.8,595.3 L834.4,604.4 L835.5,627 L832.1,640.7 L825.3,643 L827.5,627 L825.3,618 L831,608.9 L827.5,599.8 L820.7,590.7 L814,579.4Z" fill="#5fb9e2"/>
<path d="M809.4,602 L818.5,604 L818.5,618 L811,616Z" fill="#5fb9e2"/>
<path d="M757,525 L782,525 L782,543 L757,543Z" fill="#5fb9e2"/>
<path d="M782,518 L796,518 L796,543 L782,543Z" fill="#5fb9e2"/>
<path d="M764,513.6 L780,513.6 L780,522.7 L764,522.7Z" fill="#dddddd"/>
<path d="M805,653 L816,652 L815,660 L806,660Z" fill="#5fb9e2"/>
<path d="M424.5,491 L433.7,491 L433,504 L425,503Z" fill="#6fcfe3"/>
</g>
<path d="M806,655 L812,652.5 L816,653 L815,657.5 L809,659 L805.5,658Z" fill="#5fb9e2"/>
<path d="M609,132 L614,129.5 L619,127.5 L617,130 L611,134Z" fill="#dddddd"/>
<path d="M892,51L890,52L887,55M887,55L878,53L871,46M71,43L80,57L87,79M27,91L40,98L44,105M87,79L80,94L69,103M44,105L56,104L69,103M213,518L214,511L212,499M213,518L217,522L224,528M224,528L227,530L229,531M296,626L295,625L294,625M294,625L264,614L249,593M249,593L238,602L225,626M368,596L369,602L373,605M328,512L341,524L361,532M314,442L315,435L316,432M361,532L371,520L369,515M381,460L380,500L369,515M369,588L366,577L362,563M362,563L361,545L361,532M428,572L424,562L429,533M361,532L384,535L418,526M429,533L425,531L418,526M211,496L211,498L212,499M316,432L319,426L315,414M315,414L306,405L289,402M142,412L140,425L139,438M212,392L224,406L230,416M529,61L518,61L507,59M504,50L505,56L507,59M913,54L908,57L904,57M896,52L899,54L904,57M892,51L895,51L896,52M962,50L968,53L976,56M976,56L978,58L978,60M785,45L792,49L801,50M859,52L861,52L863,52M863,52L866,50L871,46M954,92L961,92L964,92M954,92L955,89L956,87M969,87L966,89L964,92M969,87L968,86L967,86M967,86L962,86L956,87M967,86L960,82L956,76M956,87L954,83L953,79M956,76L954,77L953,79M953,93L953,101L951,104M953,93L948,91L939,81M939,81L938,81L936,81M950,103L950,103L951,104M950,103L941,98L935,83M935,83L936,82L936,81M952,106L951,105L951,104M952,106L958,102L962,100M954,92L953,93L953,93M964,92L962,96L962,100M953,79L949,81L939,81M926,222L928,218L924,204M926,222L931,211L939,208M924,204L929,203L933,204M933,204L934,205L939,208M972,196L967,183L971,175M972,196L967,201L959,205M959,205L956,205L953,205M953,205L955,191L956,184M956,184L958,181L960,177M960,177L967,176L971,175M940,189L947,197L949,209M940,189L947,190L956,184M949,209L951,207L953,205M973,122L975,132L976,139M981,400L977,405L977,410M822,664L819,654L816,648M800,652L803,648L807,645M807,645L812,644L814,647M814,647L815,647L816,648M73,252L87,256L106,250M73,252L71,255L72,258M72,258L92,269L98,265M106,250L100,258L98,265M87,312L85,309L82,307M87,312L101,301L117,297M117,297L111,297L106,291M106,291L92,296L81,300M81,300L82,303L82,307M44,105L45,115L41,122M87,79L97,77L106,78M61,639L66,639L70,640M85,655L81,650L81,644M81,644L78,642L74,639M74,639L72,639L70,640M235,544L236,562L245,572M245,572L265,573L303,574M326,567L315,569L303,574M183,627L185,628L187,631M249,593L252,583L245,572M229,531L232,536L235,544M225,626L205,626L187,631M362,563L354,565L326,567M361,532L361,532L361,532M294,625L303,598L303,574M368,596L370,594L369,588M373,605L390,609L413,622M434,643L432,636L432,633M413,622L422,626L432,633M515,655L512,643L500,636M500,636L498,646L476,671M434,643L457,646L470,655M470,655L473,662L476,671M428,572L432,572L438,572M448,564L445,567L444,570M448,564L449,550L449,538M429,533L438,536L449,538M438,572L440,571L444,570M413,622L431,607L441,590M438,572L436,579L441,590M448,564L468,562L479,560M479,560L480,562L481,567M481,567L473,576L460,584M444,570L446,575L460,584M303,240L292,249L278,261M303,240L303,235L305,233M231,165L238,181L229,192M231,165L239,160L268,156M472,59L463,61L459,62M504,50L493,60L481,66M472,59L476,61L481,66M919,116L925,113L928,110M919,116L919,122L926,130M928,110L931,112L936,114M936,114L933,126L936,135M926,130L930,133L936,135M919,116L918,116L914,117M914,117L913,116L912,117M912,117L910,118L910,119M926,130L922,131L918,132M910,119L915,124L918,132M960,177L955,176L944,168M971,175L975,172L979,170M973,159L979,166L979,170M973,159L966,153L951,152M951,152L945,157L944,168M936,168L937,176L938,189M936,168L937,168L938,167M938,189L939,189L940,189M938,167L941,169L944,168M896,161L898,158L899,155M896,161L898,165L899,168M921,159L911,154L899,155M921,159L926,162L925,167M899,168L901,169L903,171M925,167L911,169L903,171M538,302L547,308L555,308M538,302L543,291L546,287M567,298L562,305L555,308M567,298L563,296L560,290M546,287L554,290L560,290M488,133L489,115L491,107M488,133L481,138L474,140M474,140L467,135L457,131M491,107L490,101L482,93M482,93L481,91L479,91M479,91L469,96L453,106M457,131L451,119L453,106M974,85L964,79L959,69M983,69L970,63L959,68M959,69L959,68L959,68M972,87L971,87L969,87M972,87L973,85L974,85M956,76L957,73L959,69M972,87L974,95L977,98M962,50L955,55L956,61M978,60L981,63L983,69M956,61L958,66L959,68M801,50L801,51L802,53M802,53L808,55L823,56M859,52L854,55L850,58M850,58L849,58L848,58M848,58L835,66L828,69M823,56L823,64L824,68M828,69L826,69L824,68M850,58L851,64L853,68M828,69L835,69L844,78M853,68L848,72L844,78M863,52L865,58L867,63M867,63L865,66L863,71M853,68L860,67L863,71M836,92L846,89L849,87M836,92L828,78L824,69M824,69L824,69L824,68M844,78L846,82L849,87M962,100L968,104L977,102M977,98L977,100L977,101M977,102L977,102L977,101M972,196L973,198L974,199M973,122L973,122L972,122M976,108L975,108L975,110M975,110L976,117L972,122M952,106L952,106L952,107M976,108L977,105L977,102M975,110L967,105L952,107M939,56L940,59L942,61M939,56L933,56L929,54M942,61L936,65L934,77M929,54L928,55L926,56M926,56L924,64L923,72M934,77L932,76L928,75M928,75L924,73L923,72M956,61L945,63L942,61M936,81L935,79L934,77M914,55L913,54L913,54M914,55L916,55L917,56M917,56L920,57L926,56M969,208L974,216L974,223M969,208L971,206L975,205M965,208L971,215L969,226M965,208L967,209L969,208M969,226L971,225L974,223M965,208L960,207L959,205M974,199L974,201L975,205M911,200L915,203L924,204M911,200L916,206L912,215M926,222L925,223L925,225M912,215L913,221L913,224M913,224L916,226L923,226M925,225L923,226L923,226M882,268L884,273L886,281M882,268L886,266L888,265M886,281L886,280L888,281M900,272L896,279L888,281M900,272L900,270L898,269M898,269L895,265L888,265M913,365L913,367L909,378M913,365L912,361L911,358M899,380L904,377L909,378M899,380L899,374L897,367M897,367L901,362L904,358M911,358L909,358L904,358M941,340L938,349L930,358M941,340L942,342L943,344M943,344L942,353L936,363M930,358L932,360L933,362M933,362L934,362L936,363M941,340L938,338L937,337M941,340L941,340L941,340M920,355L925,347L935,337M920,355L927,356L930,358M937,337L936,337L935,337M913,365L924,370L926,373M920,355L917,356L913,355M926,373L933,369L933,362M911,358L912,357L913,355M945,347L949,350L949,358M945,347L956,345L961,348M949,358L954,359L960,358M960,358L961,356L963,354M961,348L962,352L963,354M946,361L948,360L949,358M946,361L944,362L938,364M938,364L937,363L936,363M943,344L944,345L945,347M941,340L949,338L955,334M955,334L959,338L961,342M961,342L960,345L961,348M946,361L949,364L951,371M941,377L941,369L938,364M941,377L942,376L944,376M944,376L946,374L951,371M976,353L975,353L975,352M975,352L973,348L971,340M977,332L975,335L973,336M973,336L971,338L971,340M961,342L967,342L971,340M963,354L968,352L975,352M970,323L962,328L956,331M970,323L974,329L977,332M956,331L956,332L956,332M956,332L964,332L973,336M955,334L955,333L956,332M968,598L972,598L975,598M968,598L967,592L967,589M967,589L971,585L973,578M977,410L975,411L973,412M901,564L902,561L904,558M901,564L895,563L892,558M892,558L892,557L891,556M891,556L896,554L900,553M904,558L903,556L903,554M900,553L901,554L903,554M926,373L926,381L929,386M941,377L937,379L931,386M931,386L930,386L929,386M837,633L838,635L838,636M837,633L831,624L824,618M838,636L825,638L816,648M814,647L818,633L821,619M824,618L823,618L821,619M808,624L806,633L804,639M808,624L808,623L809,622M804,639L804,642L807,645M821,619L816,620L809,622M793,647L797,642L798,639M793,647L786,641L782,636M798,639L794,638L791,635M791,635L788,636L784,634M784,634L783,635L782,636M795,653L794,648L793,647M795,653L799,651L800,652M804,639L800,640L798,639M808,624L802,630L791,635M822,664L832,655L840,650M847,664L843,659L840,650M582,637L586,638L587,641M582,637L575,641L573,647M587,641L585,650L584,657M573,647L573,649L573,651M573,651L575,653L580,659M584,657L583,658L582,659M582,659L581,659L580,659M588,640L588,640L587,641M588,640L588,640L588,640M588,640L591,648L598,656M598,656L593,658L584,657M561,663L559,662L558,660M561,663L562,664L563,663M563,663L568,659L580,659M558,660L561,656L563,652M563,652L570,652L573,651M563,663L564,666L565,667M583,675L572,671L565,667M583,675L583,667L582,659M581,636L587,626L595,621M581,636L582,637L582,637M588,640L591,630L599,624M595,621L597,624L599,624M580,601L575,606L575,613M580,601L590,605L598,609M598,609L595,612L594,621M594,621L585,618L575,613M575,613L575,613L575,613M581,636L578,634L576,631M576,631L576,622L575,613M595,621L594,621L594,621M576,631L574,632L572,634M568,641L570,644L573,647M568,641L568,640L568,640M568,640L570,635L572,634M598,656L607,658L611,656M568,641L568,644L563,646M563,652L563,652L563,651M563,646L563,650L563,651M856,361L864,361L872,358M856,361L854,359L853,354M853,354L853,353L855,352M855,352L862,347L869,345M872,358L874,354L875,350M875,350L872,348L869,345M71,292L66,291L62,288M71,292L87,285L97,278M62,288L60,278L64,274M97,278L97,276L96,274M96,274L82,275L66,272M64,274L65,274L66,272M106,291L100,284L97,278M81,300L80,296L71,292M72,258L68,268L66,272M98,265L98,270L96,274M73,252L71,246L68,241M47,262L57,252L62,238M47,262L56,269L64,274M68,241L64,241L62,238M23,279L14,283L10,283M23,279L13,270L8,264M16,258L13,260L8,264M9,367L11,360L18,354M57,234L63,222L60,201M57,234L52,236L44,235M44,235L40,233L38,233M38,233L34,226L38,218M60,201L47,213L38,218M47,262L43,263L40,261M62,238L59,236L57,234M40,261L37,245L44,235M77,376L98,383L134,376M77,376L76,380L75,381M138,403L125,396L97,401M138,403L136,388L134,376M75,381L77,387L75,389M97,401L85,402L75,389M142,412L141,407L138,403M139,438L135,441L129,444M129,444L110,438L89,433M89,433L85,427L83,423M97,401L92,416L83,423M9,367L12,375L12,386M22,447L21,461L24,482M15,492L18,489L23,486M23,486L24,484L24,482M128,621L107,621L92,615M128,621L121,628L124,637M124,637L117,637L108,637M108,637L93,632L81,621M92,615L86,617L81,619M81,621L81,620L81,619M81,644L93,643L108,637M74,639L76,632L81,621M143,594L142,595L141,597M143,594L145,588L142,581M141,597L121,607L94,606M142,581L108,596L94,602M94,602L94,603L94,606M183,627L155,603L143,594M128,621L134,609L141,597M148,549L147,550L145,552M145,552L142,564L142,574M142,574L143,577L142,581M92,615L94,610L94,606M83,593L89,597L94,602M24,502L26,512L25,517M24,502L19,500L15,492M61,639L60,636L52,634M81,619L76,612L73,609M52,634L61,624L73,609M83,593L77,591L71,592M71,592L71,598L71,605M71,605L72,607L73,609M30,670L30,662L32,642M52,634L51,634L49,633M49,633L42,632L37,637M32,642L34,640L37,637M11,644L20,644L25,640M32,642L29,642L25,640M11,644L11,636L12,630M25,640L19,633L12,630M129,444L126,450L115,464M114,499L119,479L115,464M57,431L62,442L69,451M57,431L60,431L61,428M61,428L72,435L80,439M69,451L76,447L80,439M12,386L13,386L15,387M21,406L15,396L15,387M77,376L77,375L76,373M76,373L62,367L53,358M75,381L62,381L39,381M53,358L43,371L38,380M39,381L38,381L38,380M39,460L36,467L34,471M39,460L44,465L57,470M34,471L46,470L57,471M57,470L57,471L57,471M50,485L52,482L57,475M50,485L37,486L23,486M24,482L27,477L34,471M57,475L57,473L57,471M526,476L515,470L504,466M526,476L528,471L536,465M536,465L535,463L535,461M504,466L504,466L504,466M504,466L514,464L526,455M535,461L529,460L526,455M517,385L521,390L523,391M517,385L515,384L513,384M523,391L522,396L523,399M502,407L518,401L523,399M502,407L501,407L499,406M513,384L506,394L499,406M352,382L381,379L392,369M352,382L346,362L346,351M393,367L392,368L392,369M393,367L400,348L404,336M346,351L373,324L380,309M404,336L388,333L380,309M456,408L475,413L482,410M456,408L455,402L457,393M482,410L484,407L490,404M490,404L488,397L486,396M457,393L479,401L486,396M393,367L410,365L430,360M392,369L403,382L411,384M411,384L426,377L440,371M430,360L434,366L440,371M488,578L486,571L481,567M488,578L480,584L477,593M460,584L460,586L461,588M477,593L471,592L461,588M441,590L448,598L453,604M461,588L461,594L453,604M352,382L352,383L351,384M351,384L358,394L374,404M411,384L414,389L419,399M374,404L396,393L419,399M315,414L341,408L351,384M381,460L388,458L392,452M374,404L378,414L387,420M392,452L388,439L387,420M68,241L73,237L85,230M60,201L64,194L64,191M85,230L79,209L64,191M64,191L66,187L65,183M225,119L215,110L215,95M225,119L244,110L260,105M215,95L242,90L252,73M260,105L256,87L252,73M274,121L269,138L270,153M274,121L270,112L260,105M231,165L229,165L218,158M270,153L268,155L268,156M225,119L224,119L224,119M224,119L215,135L218,158M218,158L192,156L176,157M176,157L168,191L164,207M164,207L173,216L174,226M106,250L108,249L108,248M85,230L94,232L104,232M108,248L104,237L104,232M279,283L300,294L311,318M313,322L312,321L311,318M281,379L258,363L251,338M346,351L318,332L313,322M380,309L380,301L382,288M289,402L286,385L281,379M212,392L213,376L211,356M211,356L235,348L251,338M182,334L159,338L140,342M140,342L138,338L133,336M133,336L119,321L124,300M124,300L141,293L147,262M147,262L160,250L178,248M199,264L187,260L178,248M276,264L277,275L279,283M211,356L200,334L182,334M134,376L135,358L140,342M114,337L123,342L133,336M114,337L106,343L88,344M76,373L85,357L88,344M88,314L87,312L87,312M88,314L101,323L114,337M117,297L121,297L124,300M108,248L119,260L147,262M278,261L277,263L276,264M174,226L172,242L178,248M597,44L600,45L606,48M623,40L611,44L606,48M597,44L595,46L593,50M593,50L598,53L601,59M606,48L605,53L601,59M583,65L585,69L587,72M583,65L584,57L586,51M587,72L598,67L601,61M586,51L589,50L593,50M601,61L601,60L601,59M573,84L568,83L564,85M573,84L575,87L580,94M580,94L580,98L581,101M562,88L563,86L564,85M562,88L568,101L567,113M567,113L575,108L581,101M529,61L531,63L532,63M507,59L509,64L510,70M532,63L527,70L510,70M518,103L506,105L491,107M518,103L521,95L521,84M482,93L497,86L510,75M521,84L517,77L510,75M479,91L478,89L478,88M481,66L478,76L478,88M510,75L510,72L510,70M554,71L549,68L545,68M554,71L561,63L568,58M544,65L545,66L545,68M544,96L548,96L551,95M544,96L536,87L534,81M551,95L556,93L562,88M564,85L559,78L554,71M534,81L540,76L545,68M587,73L587,72L587,72M587,73L581,77L573,84M583,65L574,63L568,58M532,63L537,64L544,65M534,81L528,82L521,84M590,105L592,107L593,109M590,105L593,99L595,93M593,109L598,107L605,104M605,104L599,96L595,93M598,82L594,78L587,73M598,82L596,85L598,86M580,94L590,94L595,90M598,86L596,88L595,90M581,101L586,103L590,105M595,90L595,91L595,93M928,110L929,108L928,106M936,114L942,112L950,111M950,103L942,105L930,97M952,107L949,109L950,111M928,106L928,100L930,97M935,83L933,86L929,94M930,97L929,96L929,94M936,168L932,170L927,169M921,159L921,157L922,155M938,167L936,155L937,147M925,167L926,168L927,169M922,155L927,148L937,147M938,189L938,189L937,190M927,169L923,174L923,179M923,179L933,187L937,190M912,197L906,187L902,179M912,197L916,193L918,187M918,187L918,186L919,185M919,185L910,177L904,173M902,179L903,176L904,173M911,200L911,200L911,199M911,199L911,198L912,197M933,204L933,195L935,193M935,193L925,189L918,187M923,179L920,183L919,185M935,193L936,191L937,190M903,171L903,172L904,173M899,168L897,178L886,191M886,191L890,187L902,179M528,379L521,381L517,385M528,379L532,379L535,381M523,391L529,387L536,384M535,381L535,384L536,384M785,45L783,48L782,50M782,50L778,50L776,52M802,53L798,60L797,68M797,68L795,67L793,67M782,50L792,60L793,67M669,45L670,43L669,42M669,45L675,52L680,57M669,42L678,43L687,50M687,50L685,54L680,57M605,104L607,102L611,103M598,86L606,90L611,96M611,96L610,98L611,103M315,108L322,110L329,114M329,114L347,92L364,90M274,121L299,107L315,108M336,155L336,146L338,139M338,139L335,124L329,114M394,101L378,93L364,90M394,101L395,100L396,99M396,99L394,90L404,69M538,302L535,303L529,308M555,308L555,313L558,320M531,311L530,309L529,308M531,311L540,314L551,322M551,322L556,321L558,320M517,206L510,204L508,201M517,206L507,220L508,233M508,233L498,233L488,231M493,203L494,203L494,203M493,203L489,217L486,229M508,201L501,202L494,203M486,229L487,230L488,231M493,203L485,204L475,206M475,206L470,214L473,223M486,229L479,226L473,223M560,289L562,275L566,269M560,289L570,282L579,278M580,270L579,273L579,278M580,270L574,268L568,267M568,267L567,267L566,269M546,287L544,284L543,280M560,290L560,290L560,289M566,269L556,273L543,280M395,214L394,208L387,202M305,233L332,209L345,195M387,202L362,193L345,195M336,155L341,170L345,185M345,195L348,189L345,185M434,153L427,154L413,158M434,153L443,141L453,132M453,132L424,125L408,120M413,158L407,144L399,134M399,134L400,132L399,129M399,129L399,125L400,121M400,121L405,121L408,120M457,131L455,132L453,132M447,103L450,106L453,106M447,103L425,104L408,120M412,173L415,168L413,158M412,173L411,186L387,202M394,101L400,116L400,121M442,92L430,86L415,92M442,92L444,95L447,103M396,99L406,98L415,92M821,71L820,72L816,72M821,71L821,81L823,92M816,72L816,84L811,100M823,92L822,95L819,97M811,100L815,97L819,97M824,69L823,70L821,71M804,74L801,69L797,68M804,74L811,72L816,72M833,95L827,94L823,92M833,95L835,95L836,92M833,95L833,100L834,103M834,103L829,103L826,104M826,104L821,100L819,97M811,100L815,105L822,110M811,100L811,100L811,100M822,110L825,105L826,104M896,161L890,162L884,164M899,155L899,153L899,152M880,162L881,163L884,164M880,162L879,157L877,153M876,144L875,148L877,153M876,144L876,143L878,143M878,143L888,146L899,152M898,111L895,115L891,116M898,111L899,115L904,121M891,116L892,119L893,122M893,122L900,121L904,121M872,116L875,116L878,115M872,116L874,122L872,125M878,115L883,120L888,125M872,125L875,132L883,132M883,132L884,128L888,125M864,132L871,137L874,144M864,132L869,128L872,125M876,144L875,144L874,144M878,143L878,140L883,135M883,135L883,133L883,132M835,105L834,104L834,103M835,105L842,108L852,104M849,87L849,87L849,87M849,87L853,92L852,104M976,139L973,142L970,145M972,122L969,122L966,124M966,124L965,127L962,134M962,134L965,140L970,145M973,159L970,154L970,146M970,146L970,145L970,145M951,152L950,149L950,147M970,146L962,145L950,147M939,208L941,208L942,209M949,209L949,209L949,209M942,209L945,210L949,209M969,226L965,228L964,230M964,230L963,231L961,231M949,209L951,217L953,220M961,231L954,224L953,220M913,224L911,225L907,228M907,228L906,230L907,232M923,226L921,231L926,245M907,232L914,242L921,250M921,250L921,250L921,250M921,250L923,249L926,245M900,272L902,272L902,272M902,272L908,266L908,256M898,269L897,263L897,256M908,256L904,255L897,256M907,232L902,238L900,244M921,250L917,250L911,252M911,252L902,247L900,244M888,265L890,259L886,253M897,256L894,253L891,249M886,253L889,251L891,249M882,268L881,268L880,268M880,268L879,266L878,266M878,266L876,260L878,253M886,253L883,254L878,253M870,263L874,265L878,266M870,263L871,257L873,251M878,253L876,252L873,251M908,256L910,255L911,252M900,244L895,246L893,245M891,249L892,247L893,245M916,318L917,312L919,309M916,318L922,322L929,323M919,309L925,313L933,316M929,323L932,321L933,316M912,322L914,320L916,318M912,322L912,323L912,324M912,324L923,329L933,330M929,323L929,325L933,330M970,323L970,322L970,322M956,331L956,328L954,326M970,322L967,320L964,318M964,318L962,319L960,318M954,326L960,319L960,318M862,334L858,344L855,352M862,334L862,334L862,334M869,345L866,337L864,336M862,334L864,335L864,336M893,312L893,312L893,311M893,312L891,315L887,321M887,321L884,318L876,318M893,311L881,308L869,309M869,309L867,310L866,310M876,318L871,312L866,310M884,298L890,302L893,304M884,298L886,292L891,286M893,304L900,300L902,296M891,286L899,292L902,295M902,296L902,296L902,295M893,311L894,308L893,304M882,298L875,304L869,309M882,298L883,298L884,298M886,281L878,284L875,286M875,286L878,290L882,298M888,281L891,283L891,286M912,322L906,316L893,312M918,299L912,297L902,296M918,299L918,299L919,300M919,309L919,302L919,300M902,272L903,272L903,273M903,273L902,283L902,295M903,273L908,277L917,274M917,274L915,286L918,299M852,369L855,365L856,361M852,369L855,372L856,375M872,358L873,359L874,362M856,375L867,376L874,374M874,374L874,371L875,367M874,362L873,365L875,367M886,386L887,380L889,368M886,386L886,386L885,387M885,387L881,383L876,379M874,374L875,377L876,379M875,367L883,368L889,368M887,321L887,324L888,328M912,324L912,325L911,327M911,327L897,327L888,328M886,346L887,343L888,341M886,346L881,347L875,350M864,336L876,331L887,335M888,341L887,338L887,335M862,334L862,333L862,332M862,332L867,330L873,328M873,328L883,331L886,332M887,335L887,334L886,332M876,318L875,323L873,328M888,328L887,330L886,332M915,337L913,334L911,330M915,337L912,346L913,351M913,351L904,346L896,340M911,330L901,341L896,340M937,337L937,335L936,333M935,337L926,333L915,337M933,330L935,332L936,333M911,327L911,329L911,330M913,355L913,352L913,351M904,358L899,356L892,352M892,352L889,348L886,346M888,341L893,341L896,340M960,358L960,360L961,361M951,371L952,371L954,371M961,361L958,366L954,371M944,376L953,383L956,386M956,386L958,383L961,380M954,371L957,375L961,380M972,547L973,538L975,530M972,547L973,549L974,549M972,500L973,498L975,497M972,500L963,498L959,495M975,497L971,488L969,483M969,483L963,483L959,484M959,495L958,490L959,484M969,483L973,476L976,469M976,469L972,470L970,470M970,470L961,475L951,479M959,484L956,481L951,479M896,548L892,548L890,550M896,548L898,550L900,553M891,556L891,555L890,554M890,554L890,551L890,550M825,550L829,552L831,552M825,550L825,548L823,547M833,520L829,521L824,521M833,520L833,520L834,520M823,547L825,533L824,521M831,552L834,534L834,520M785,630L791,623L798,618M785,630L785,633L784,634M809,622L805,620L801,619M798,618L799,619L801,619M824,618L824,616L825,615M825,615L824,611L822,607M822,607L815,604L805,602M801,619L802,608L805,602M892,558L890,560L888,564M890,554L887,553L877,557M877,557L877,561L878,564M888,564L884,565L878,564M856,650L856,653L856,656M856,650L863,654L869,652M856,656L859,662L863,668M863,668L863,659L869,652M847,664L852,660L856,656M893,654L885,649L874,646M893,654L889,656L885,659M885,659L882,657L877,656M877,656L875,652L872,650M874,646L873,648L872,650M897,652L896,653L893,654M897,652L895,645L893,640M893,639L893,639L893,640M893,639L887,639L879,641M874,645L876,645L879,641M874,645L874,646L874,646M898,665L897,660L897,653M898,665L889,667L885,672M897,653L897,652L897,652M885,672L883,666L885,659M869,652L870,650L872,650M788,653L785,656L782,657M788,653L791,653L793,654M782,657L785,659L789,662M793,654L793,656L793,658M793,658L791,659L789,662M783,645L784,649L788,653M783,645L779,652L776,657M779,658L778,658L777,658M779,658L781,658L782,657M776,657L777,657L777,658M782,637L782,637L782,636M782,637L782,642L783,645M795,653L794,653L793,654M788,665L784,660L779,658M788,665L789,664L789,662M864,628L856,636L842,643M864,628L864,628L864,628M864,628L865,633L865,638M865,638L859,640L850,645M850,645L847,645L842,644M842,643L842,643L842,644M851,624L856,624L864,628M851,624L843,629L837,633M838,636L843,640L842,643M874,645L868,642L865,638M879,641L879,632L874,620M874,620L873,620L871,621M871,621L869,624L864,628M856,650L853,648L850,645M840,650L843,646L842,644M899,667L899,666L898,665M564,613L572,614L575,613M564,613L557,616L554,618M572,634L559,629L548,626M554,618L549,619L548,622M548,626L548,624L548,622M513,620L517,621L521,622M513,620L515,617L520,611M520,611L529,612L538,608M538,608L541,616L545,621M545,621L536,621L521,622M661,652L663,662L675,669M692,649L686,654L677,660M675,669L677,663L677,660M588,640L596,643L610,644M611,656L612,654L612,654M610,644L611,646L612,647M612,654L610,651L612,647M602,604L605,611L607,615M602,604L598,606L598,609M599,624L603,624L605,626M607,615L610,619L605,626M606,596L611,602L616,607M606,596L604,601L602,604M607,615L613,610L616,607M610,644L610,636L607,628M605,626L606,626L607,628M558,590L557,589L557,588M558,590L553,599L551,603M557,588L548,594L541,594M551,603L550,594L541,594M564,613L564,603L558,590M554,618L554,608L551,603M538,608L536,600L536,595M536,595L539,595L541,594M548,622L547,622L545,621M520,611L523,603L523,589M523,589L523,589L524,589M536,595L531,592L530,590M530,590L528,589L524,589M523,589L516,586L504,595M504,595L504,589L494,579M494,579L498,577L502,574M521,579L520,583L524,589M521,579L519,578L515,574M502,574L508,573L515,574M552,659L550,657L547,657M547,657L543,672L542,677M558,660L555,660L552,659M515,655L522,657L528,652M528,652L543,664L542,677M692,648L692,648L692,649M692,648L695,647L698,645M735,612L733,614L732,618M735,612L737,614L739,614M739,614L741,620L742,625M742,625L737,621L731,618M732,618L732,618L731,618M739,614L745,615L751,617M751,617L747,624L748,631M742,625L746,629L748,631M748,631L748,631L748,631M579,537L574,536L567,538M579,537L579,535L579,528M567,538L570,530L569,523M579,528L573,526L569,523M585,504L587,508L592,515M585,504L582,505L576,504M590,522L585,527L579,528M590,522L592,519L592,515M576,504L569,511L565,515M567,521L566,519L565,515M567,521L569,523L569,523M449,538L450,536L453,535M479,560L478,549L486,542M453,535L460,543L485,541M486,542L486,542L485,541M625,590L632,586L641,580M625,590L626,594L627,598M641,580L642,581L644,582M645,583L644,582L644,582M645,583L645,589L647,592M647,592L647,592L647,593M627,598L639,591L647,593M627,598L625,602L628,604M628,604L630,604L632,605M647,593L646,598L643,603M632,605L639,605L643,603M647,592L659,591L664,598M664,598L663,605L660,611M660,611L650,610L644,604M644,604L644,604L643,603M611,586L618,588L625,590M611,586L613,584L616,576M640,577L640,578L641,580M640,577L638,575L635,572M635,572L628,574L621,572M616,576L618,574L621,572M635,572L637,564L632,550M632,550L631,551L629,551M629,551L623,552L619,555M621,572L616,561L619,555M674,499L668,506L664,510M674,499L674,498L674,497M674,497L674,497L674,497M674,497L666,497L660,498M664,510L660,506L656,504M656,504L658,501L660,498M674,497L671,489L664,480M658,483L661,481L664,480M658,483L658,486L655,493M655,493L659,495L660,498M683,493L686,490L688,486M683,493L690,496L696,502M696,502L706,494L713,481M688,486L696,477L706,476M713,481L709,479L706,476M683,493L682,493L680,494M680,494L677,495L674,497M674,499L675,503L679,510M696,502L697,504L696,507M679,510L688,509L696,507M705,511L699,510L697,508M705,511L714,497L717,483M713,481L716,481L717,483M696,507L697,507L697,508M780,525L778,530L778,535M780,525L788,523L795,524M778,535L786,538L794,538M794,538L799,532L800,528M795,524L798,525L800,528M656,504L651,505L648,507M648,507L646,505L645,505M655,493L650,493L645,496M645,496L647,499L645,505M595,475L606,483L609,485M595,475L590,483L591,489M609,485L601,487L596,493M596,493L594,493L593,493M591,489L592,492L593,493M604,507L609,508L615,504M604,507L605,505L604,502M604,502L608,501L612,499M615,504L614,502L612,499M585,504L587,501L588,498M592,515L598,514L600,514M588,498L592,495L593,493M600,514L602,509L604,507M596,493L601,498L604,502M611,485L610,485L610,485M611,485L610,492L612,499M610,485L610,485L609,485M862,334L860,335L857,337M853,354L848,350L844,347M857,337L850,343L844,347M835,369L841,366L852,369M835,369L835,361L839,346M844,347L840,347L839,346M852,402L851,398L852,392M852,402L858,401L865,404M865,404L864,398L865,391M852,392L853,390L853,389M853,389L855,388L855,387M865,391L863,390L861,388M855,387L858,388L861,388M880,393L872,390L865,391M880,393L877,396L878,400M878,400L875,403L871,406M868,406L870,405L871,406M868,406L866,404L865,404M835,369L832,371L830,372M830,372L840,383L853,389M856,375L857,379L855,387M885,387L884,389L880,393M876,379L872,385L861,388M778,435L784,435L786,435M778,435L778,428L780,421M786,435L789,427L788,421M788,421L785,422L780,421M771,451L771,449L772,446M771,451L786,456L792,456M772,446L787,447L794,447M792,456L795,450L794,447M778,435L777,435L776,436M786,435L793,436L799,441M799,441L799,441L799,441M799,441L797,443L794,447M772,446L772,445L772,442M776,436L772,440L772,442M678,461L678,463L677,465M678,461L681,458L682,459M682,459L683,465L685,470M677,465L682,466L685,470M705,511L708,513L709,514M717,483L720,484L722,483M722,483L724,487L727,492M709,514L713,514L719,511M719,511L724,501L728,496M727,492L727,493L728,496M750,477L736,480L728,477M750,477L754,465L756,460M756,460L756,460L756,460M756,460L738,464L729,476M728,477L729,477L729,476M754,481L752,478L750,477M754,481L753,484L750,490M722,483L723,481L728,477M727,492L734,492L750,490M710,589L710,590L710,591M710,589L717,583L730,585M730,585L730,587L731,589M710,591L712,599L718,603M718,603L723,602L727,603M731,589L730,599L727,603M748,589L745,587L744,582M748,589L751,589L754,591M744,582L748,581L755,576M755,576L753,583L754,591M766,459L768,456L771,451M766,459L767,460L767,460M792,456L791,458L792,461M767,460L774,464L783,465M792,461L787,463L783,465M762,539L769,536L777,537M762,539L761,549L767,557M777,537L779,544L779,552M767,557L774,555L779,552M759,538L754,535L749,532M759,538L760,539L762,539M749,532L754,518L759,510M759,510L760,510L760,510M777,536L777,536L777,537M777,536L778,535L778,535M780,525L779,524L779,521M779,521L771,517L760,510M767,558L762,557L759,556M767,558L767,557L767,557M759,556L758,556L756,554M756,554L758,550L759,538M777,536L786,545L797,554M794,538L795,539L795,539M797,554L795,546L795,539M11,284L12,287L14,289M14,289L14,300L9,304M9,304L7,306L4,308M31,281L32,285L33,287M31,281L29,279L23,279M33,287L22,284L14,289M10,283L10,283L11,284M31,281L30,269L36,262M62,288L60,290L57,293M33,287L34,293L37,294M36,262L38,261L40,261M57,293L47,292L37,294M9,304L26,298L36,297M36,297L36,295L37,294M16,319L14,321L15,324M16,319L9,318L4,308M15,324L9,331L3,337M53,358L53,358L53,357M53,357L41,348L37,347M29,378L35,379L38,380M29,378L30,363L25,354M37,347L31,351L25,354M15,324L17,328L20,332M3,337L11,334L18,338M20,332L18,336L18,338M18,354L20,354L25,354M18,338L23,348L25,354M15,387L24,383L29,378M25,354L25,354L25,354M17,257L18,255L24,255M24,255L24,247L26,236M16,258L16,257L17,257M36,262L29,259L24,255M38,233L32,233L26,236M75,389L72,394L69,399M83,423L81,422L76,417M69,399L68,411L76,417M89,433L85,436L80,439M61,428L63,427L64,425M64,425L69,422L76,417M24,502L31,503L37,507M58,499L53,489L50,485M58,499L56,503L52,505M52,505L45,511L37,507M145,552L118,552L101,550M101,550L81,533L79,509M79,502L96,505L114,499M79,502L78,505L78,508M79,509L78,508L78,508M25,517L27,526L29,532M20,575L14,566L9,556M20,575L21,577L21,579M45,525L49,524L51,520M45,525L42,529L40,536M40,536L43,537L45,541M45,541L54,533L63,532M63,532L63,528L62,521M62,521L57,518L54,518M54,518L52,519L51,520M38,508L45,516L51,520M38,508L41,512L45,525M37,507L38,507L38,508M29,532L35,533L40,536M46,548L44,545L45,541M46,548L39,561L23,558M23,558L18,555L9,556M69,535L66,533L63,532M69,535L69,518L79,509M78,508L70,516L62,521M58,499L65,500L78,501M79,502L79,501L78,501M52,505L54,513L54,518M49,633L50,629L49,621M71,605L63,609L51,616M51,616L51,619L49,621M75,483L81,489L78,499M75,483L82,475L84,468M78,499L102,486L104,466M84,468L97,466L104,466M57,475L67,481L75,483M78,501L78,500L78,499M64,456L65,455L68,454M64,456L60,464L57,470M68,454L74,455L84,468M115,464L111,465L104,466M68,454L68,452L69,451M28,423L31,428L32,434M22,447L23,447L23,447M23,447L27,441L31,436M32,434L32,435L31,436M28,422L40,419L51,423M28,422L26,417L29,413M29,413L40,403L47,404M51,423L54,415L51,408M47,404L49,404L50,405M51,408L51,406L50,405M53,431L52,431L51,432M53,431L53,429L51,423M28,423L28,422L28,422M51,432L44,433L32,434M21,406L24,409L29,413M39,381L46,393L47,404M53,431L55,430L57,431M64,425L57,413L51,408M69,399L60,404L50,405M482,410L475,418L472,429M497,430L500,422L498,407M497,430L496,435L491,440M472,429L482,433L488,439M490,404L495,404L498,407M491,440L489,440L488,439M504,466L503,465L502,465M526,455L529,451L531,445M502,460L501,462L502,465M502,460L508,451L513,445M513,445L527,446L531,445M552,475L554,477L559,479M552,475L552,474L552,474M559,479L562,478L566,475M552,474L559,469L571,463M571,463L570,467L566,475M563,512L558,503L558,495M563,512L553,505L550,500M558,495L556,495L553,495M550,500L552,499L553,495M551,516L556,518L564,514M551,516L546,513L542,512M564,514L563,513L563,512M542,512L541,510L540,508M540,508L540,508L540,508M540,508L545,504L550,500M561,485L565,485L573,482M561,485L562,488L562,492M562,492L566,493L568,494M568,494L572,491L575,485M573,482L574,483L575,484M575,485L576,485L575,484M559,479L561,482L561,485M566,475L569,476L570,477M570,477L571,478L573,482M576,504L574,497L568,494M564,514L564,515L565,515M558,495L560,494L562,492M588,498L582,494L575,485M579,481L580,477L578,473M579,481L577,482L575,484M578,473L573,474L570,477M585,481L582,480L579,481M585,481L586,484L591,489M531,311L533,318L532,327M548,331L551,327L551,322M548,331L546,331L544,334M544,334L539,329L532,327M376,275L380,279L380,280M382,288L383,287L383,287M380,280L382,283L383,287M395,214L400,216L405,219M405,219L408,220L408,222M415,232L410,226L408,222M415,232L412,243L414,252M380,280L398,266L414,252M450,222L443,231L442,239M450,222L450,221L452,219M452,219L463,223L469,224M469,224L466,234L463,243M463,243L450,241L444,241M444,241L443,240L442,239M398,289L394,287L383,287M398,289L401,289L407,287M407,287L421,282L431,263M414,252L423,255L429,258M429,258L431,261L431,263M415,232L429,231L442,239M429,258L437,249L442,239M408,222L434,228L450,222M442,239L442,239L442,239M488,231L479,245L478,259M473,223L471,223L469,224M463,243L470,250L472,260M472,260L476,259L478,259M444,241L449,243L458,269M472,260L465,262L458,269M431,263L443,270L453,276M458,269L457,273L453,276M404,336L406,335L408,335M430,360L432,353L430,345M408,335L421,345L430,345M488,578L492,578L494,579M504,595L500,598L499,607M477,593L477,594L478,596M478,596L488,601L499,607M513,620L507,623L501,624M499,607L500,616L501,624M450,622L451,621L452,620M450,622L474,634L477,643M452,620L459,616L469,616M469,616L486,623L499,626M477,643L487,644L499,635M499,635L499,631L499,626M432,633L442,630L450,622M453,604L454,617L452,620M470,655L477,649L477,643M478,596L466,601L469,616M501,624L501,625L499,626M500,636L500,636L499,635M418,526L421,521L426,515M426,515L432,511L441,511M453,535L458,527L455,520M455,520L446,515L441,511M427,492L429,500L426,515M427,492L432,491L437,491M437,491L442,496L447,499M441,511L445,505L447,499M172,151L180,137L196,113M172,151L159,141L140,128M138,127L139,128L140,128M138,127L134,111L141,99M141,99L151,94L155,82M196,113L191,100L194,91M155,82L162,78L165,77M165,77L168,74L172,75M194,91L188,83L182,75M172,75L175,76L182,75M224,119L210,118L196,113M176,157L173,154L172,151M82,116L75,109L69,103M82,116L107,114L135,128M106,78L126,86L141,99M135,128L137,128L138,127M215,95L205,93L194,91M125,189L103,168L92,170M125,189L135,196L138,203M138,203L122,208L109,219M109,219L97,202L72,178M92,170L85,173L75,174M75,174L75,175L74,175M74,175L73,177L72,178M164,207L154,201L138,203M104,232L107,224L109,219M65,183L69,181L72,178M82,116L82,150L75,174M653,50L648,53L641,58M623,40L624,44L626,50M641,58L632,56L626,50M459,62L458,63L456,64M464,80L461,78L455,69M464,80L454,89L443,89M455,69L449,72L439,76M443,89L443,82L439,76M478,88L472,86L464,80M456,64L456,64L456,64M456,64L456,67L455,69M442,92L442,90L443,89M415,92L428,83L435,73M435,73L437,74L439,76M566,115L567,117L567,118M566,115L562,113L557,111M567,118L559,121L546,122M557,111L547,111L538,111M546,122L538,120L530,120M538,111L534,112L530,117M530,117L530,118L530,120M567,113L566,114L566,115M569,121L568,120L567,118M569,121L577,115L592,114M592,114L593,112L593,109M551,95L554,103L557,111M544,96L539,101L538,111M518,103L525,112L530,117M523,147L524,135L530,120M523,147L518,136L488,133M404,69L412,63L420,65M435,73L435,73L435,73M420,65L426,64L435,73M912,117L911,113L907,105M910,119L908,120L907,121M898,111L899,109L898,105M907,105L904,105L902,102M902,102L900,103L899,104M904,121L905,121L907,121M899,104L899,104L898,105M891,116L889,113L886,108M898,105L893,108L886,108M893,122L891,123L890,125M890,125L889,125L888,125M878,115L881,110L885,108M885,108L886,108L886,108M887,55L885,60L885,64M867,63L876,64L883,66M885,64L884,65L883,66M863,71L864,73L864,74M864,74L870,75L881,75M883,66L883,69L881,75M914,117L917,109L916,104M907,105L909,104L911,103M911,103L914,104L916,104M928,106L923,107L918,103M916,104L916,104L918,103M929,94L924,92L919,92M918,103L918,101L916,99M919,92L919,95L916,99M928,75L923,86L914,89M919,92L915,91L914,89M911,103L913,101L914,99M916,99L915,99L914,99M798,346L799,353L804,355M798,346L794,359L777,371M804,355L797,360L787,377M787,377L782,376L778,374M777,371L778,373L778,374M773,387L775,391L777,395M773,387L775,382L778,374M777,395L787,396L796,385M796,385L791,382L787,377M880,162L873,164L867,166M884,164L884,178L880,191M867,166L864,178L864,183M864,183L873,190L880,191M886,191L885,192L884,194M884,194L883,194L881,193M880,191L881,192L881,193M912,215L901,219L893,217M907,228L902,226L893,224M893,224L893,221L893,217M890,240L894,243L893,245M890,240L891,235L890,227M893,224L892,225L890,227M911,199L902,198L890,200M893,217L889,210L890,200M884,194L884,196L890,200M890,200L890,200L890,200M843,119L843,122L848,125M843,119L850,114L854,106M848,125L853,119L860,113M854,106L855,107L856,107M856,107L858,109L860,111M860,111L860,112L860,113M864,132L860,131L859,132M866,112L863,111L860,111M866,112L870,114L872,116M859,132L859,121L860,113M835,105L832,110L833,115M822,110L823,111L823,113M823,113L826,114L833,115M836,120L835,118L834,117M836,120L838,120L843,119M852,104L852,105L854,106M833,115L833,117L834,117M657,53L659,54L663,62M657,53L659,53L667,52M663,62L669,58L673,57M667,52L671,54L673,57M669,45L668,49L667,52M653,50L655,52L657,53M680,57L680,58L680,58M680,58L675,59L673,57M691,47L701,47L714,45M687,50L690,49L691,48M691,47L691,48L691,48M714,45L718,48L719,52M474,140L473,159L470,165M434,153L444,161L460,167M470,165L464,166L460,167M508,201L507,183L504,174M494,203L487,192L480,180M504,174L492,178L480,179M480,179L480,180L480,180M508,233L510,238L516,241M513,254L497,259L481,261M513,254L513,254L514,253M481,261L480,259L478,259M514,253L515,245L516,241M581,286L585,290L589,292M581,286L571,293L568,299M589,292L588,303L579,313M568,299L574,304L579,313M567,298L567,299L568,299M579,278L581,282L581,286M598,318L593,319L588,321M598,318L597,307L600,295M588,321L586,320L583,319M600,295L599,293L598,291M598,291L593,291L589,292M583,319L582,318L580,318M580,318L579,314L579,313M558,320L561,320L564,322M564,322L572,319L580,318M617,146L613,143L608,143M617,146L618,153L618,158M618,158L616,159L615,161M615,161L612,157L605,155M605,155L609,150L608,143M569,121L569,123L569,126M546,122L552,131L560,134M560,134L566,130L569,126M596,120L595,116L592,114M596,120L595,130L590,139M590,139L588,140L587,140M569,126L572,132L587,140M906,127L903,135L901,139M906,127L910,132L916,135M914,142L914,138L916,135M914,142L909,143L902,142M901,139L901,140L902,142M902,142L902,142L902,142M890,125L894,133L901,139M907,121L906,124L906,127M918,132L917,133L916,135M936,135L936,135L936,135M920,146L928,142L936,135M920,146L917,144L914,142M922,155L920,152L920,146M899,152L901,147L902,142M883,135L894,137L902,142M863,80L859,83L857,85M863,80L868,85L874,86M857,85L858,88L866,95M875,91L874,88L874,86M875,91L873,92L870,94M866,95L868,95L869,95M870,94L870,95L869,95M864,74L864,77L863,80M849,87L852,84L857,85M881,75L882,76L882,78M882,78L876,83L874,86M856,107L862,99L866,95M866,112L868,110L870,107M870,107L870,101L869,95M875,103L872,105L870,107M875,103L874,100L870,94M948,136L946,137L945,138M948,136L952,130L954,116M951,113L952,114L954,116M951,113L946,128L938,136M945,138L943,138L940,138M938,136L939,137L940,138M962,134L955,136L948,136M950,147L946,142L945,138M966,124L958,120L954,116M950,111L951,111L951,113M936,135L936,135L938,136M937,147L940,143L940,138M938,230L940,228L942,226M938,230L934,228L930,226M942,226L941,224L937,220M930,226L933,225L937,220M942,209L937,216L937,220M953,220L946,223L942,226M925,225L929,224L930,226M940,237L947,240L955,238M940,237L936,240L933,244M933,244L940,253L947,255M955,238L954,247L953,253M953,253L951,253L947,255M961,231L956,233L955,238M938,230L938,233L940,237M926,245L928,245L933,244M919,300L920,300L921,300M921,300L931,303L939,309M933,316L935,315L936,316M939,309L938,311L936,316M937,330L936,325L937,318M937,330L936,332L936,333M937,318L936,316L936,316M964,230L966,234L973,241M973,241L966,245L963,254M958,256L955,255L953,253M958,256L959,255L962,255M962,255L963,254L963,254M862,332L859,326L858,322M857,337L846,333L841,333M841,333L843,330L845,327M845,327L851,326L858,322M890,367L891,361L891,355M890,367L890,368L889,368M889,368L887,364L886,363M891,355L889,358L886,363M897,367L895,368L890,367M892,352L891,353L891,355M874,362L880,362L886,363M889,368L889,368L889,368M981,400L976,396L973,395M973,395L975,393L976,389M976,389L979,389L981,388M973,577L976,569L979,566M973,577L971,575L969,575M969,575L968,572L966,569M966,569L968,559L974,552M974,552L973,558L979,566M973,578L973,577L973,577M960,564L962,567L966,569M960,564L970,558L974,550M974,550L974,551L974,552M974,549L974,550L974,550M960,564L955,562L949,560M949,560L947,566L945,569M969,575L969,575L969,575M969,575L953,574L945,569M923,552L923,550L924,547M923,552L925,563L930,571M930,571L934,575L937,578M937,578L939,578L940,578M949,560L949,559L948,558M948,558L936,556L924,547M940,578L941,574L945,569M942,477L942,461L940,452M942,477L944,479L945,479M945,479L946,478L948,478M948,478L951,468L954,466M954,466L956,461L954,453M954,453L952,450L951,449M951,449L951,448L949,446M943,448L941,450L940,452M943,448L945,447L948,446M948,446L948,446L949,446M970,470L961,468L954,466M951,479L949,479L948,478M983,464L979,466L976,469M983,464L965,459L954,453M930,571L922,572L915,571M937,578L937,579L935,579M935,579L931,583L921,586M921,586L920,586L920,585M920,585L918,580L915,571M918,556L913,558L904,558M918,556L914,562L912,570M901,564L903,569L903,572M912,570L906,571L903,572M923,552L922,556L918,556M912,570L913,570L915,571M888,564L894,574L899,577M903,572L900,575L899,577M968,598L965,600L961,606M961,606L961,606L961,606M812,545L812,542L813,532M812,545L808,544L805,543M813,532L807,534L804,540M805,543L804,542L804,540M823,547L818,549L814,549M814,549L813,546L812,545M824,521L824,521L824,521M824,521L821,523L817,526M817,526L814,530L813,532M817,526L807,533L800,528M795,539L803,540L804,540M853,562L853,563L853,564M853,562L853,561L853,561M853,561L850,560L849,559M853,564L849,573L841,578M849,559L844,556L840,556M841,578L838,575L836,572M836,572L834,564L836,558M840,556L838,556L837,556M836,558L837,557L837,556M877,557L877,557L877,557M877,557L867,552L864,551M864,551L856,557L853,561M878,564L877,566L877,567M877,567L866,564L853,562M851,533L844,549L849,559M851,533L856,543L864,550M864,550L864,551L864,551M848,524L845,522L843,521M848,524L850,527L851,533M843,521L843,521L843,521M843,521L842,534L840,556M840,581L840,581L840,582M840,581L841,579L841,578M840,582L830,578L823,570M823,570L832,569L836,572M843,521L838,519L835,520M831,552L835,555L837,556M834,520L835,519L835,520M917,466L919,459L918,456M917,466L923,468L928,469M918,456L926,457L929,459M929,459L933,463L930,468M928,469L929,469L930,468M937,476L934,472L930,468M937,476L940,477L942,477M940,452L934,454L929,459M896,548L898,546L899,543M903,554L908,552L911,542M899,543L905,543L911,542M924,547L923,544L923,543M923,543L915,544L912,541M911,542L912,541L912,541M910,511L909,508L908,507M910,511L911,512L914,512M914,512L921,511L927,506M930,495L929,498L927,506M930,495L925,492L920,488M908,507L913,496L920,488M937,476L929,482L920,486M928,469L921,475L915,479M915,479L918,482L920,486M917,466L917,472L911,477M915,479L913,478L911,477M930,495L937,495L942,494M942,494L945,484L945,479M920,488L920,487L920,486M830,469L827,472L824,475M830,469L834,473L837,476M824,475L825,480L828,482M828,482L831,481L836,481M836,481L836,477L837,476M830,469L831,466L834,461M841,467L841,470L841,473M841,467L840,464L838,461M837,476L839,476L841,473M834,461L836,460L838,461M799,441L801,435L802,430M788,421L794,420L802,414M802,430L804,424L802,414M868,429L866,426L859,423M868,429L869,434L869,436M869,436L869,436L869,436M869,436L861,439L848,436M859,423L853,420L851,421M851,421L850,428L847,433M847,433L847,434L848,436M844,412L848,415L851,421M844,412L848,409L852,402M868,406L865,412L859,423M977,435L973,437L972,440M972,440L973,442L973,445M973,445L974,447L974,448M967,437L969,438L972,440M967,437L967,431L967,423M980,430L972,428L967,423M980,430L979,433L977,435M967,437L963,442L957,444M957,444L963,444L973,445M957,444L953,445L949,446M951,449L962,451L974,448M895,422L893,419L888,416M895,422L886,426L872,425M888,416L883,412L874,414M872,425L876,421L874,414M889,443L892,436L899,423M889,443L883,442L879,444M899,423L896,422L895,422M879,444L875,443L869,436M868,429L869,425L872,425M878,400L882,403L885,406M871,406L875,411L874,414M885,406L887,412L888,416M886,386L888,387L890,387M885,406L890,403L894,403M894,403L891,396L890,387M899,380L896,384L891,387M912,381L911,379L909,378M912,381L911,389L902,394M902,394L894,390L891,387M890,387L890,387L891,387M899,423L901,423L902,422M894,403L896,410L902,412M902,422L902,416L902,412M902,394L904,396L909,399M902,412L907,407L909,399M922,432L919,431L916,431M922,432L927,435L928,440M916,431L913,436L913,442M928,440L922,447L918,455M918,455L915,450L913,442M893,447L890,446L889,443M893,447L898,449L906,446M906,446L910,442L913,442M905,423L903,423L902,422M905,423L913,428L916,431M943,448L932,443L928,440M918,456L918,456L918,455M918,455L918,455L918,455M782,637L769,639L763,640M785,630L779,627L775,616M763,640L760,628L767,615M767,615L769,614L770,614M770,614L772,615L775,616M798,618L797,615L793,612M775,616L784,613L793,612M800,599L803,599L805,602M800,599L798,600L795,600M793,612L793,610L793,609M795,600L794,604L793,609M825,550L824,556L820,559M836,558L830,563L821,569M820,559L819,563L821,569M814,549L813,551L811,552M820,559L818,556L811,552M823,570L822,569L821,569M821,569L821,569L821,569M837,585L834,586L833,586M837,585L838,583L840,582M821,569L821,569L821,570M833,586L826,578L821,570M811,552L808,554L806,555M806,555L813,562L820,570M821,570L820,570L820,570M894,633L892,637L893,639M894,633L891,627L890,623M890,623L885,619L879,618M874,620L876,620L877,619M879,618L879,618L877,619M951,639L957,636L964,628M951,639L954,643L954,646M964,628L961,638L956,646M954,646L955,646L956,646M899,667L905,661L917,660M917,660L918,663L920,674M897,653L907,653L916,654M917,660L917,658L916,654M893,640L902,640L914,639M914,639L914,646L916,654M916,654L916,654L916,654M928,631L926,632L923,633M928,631L933,636L937,636M923,633L926,639L928,646M928,646L932,645L937,637M937,636L937,637L937,637M938,636L937,636L937,636M938,636L938,633L940,628M930,621L935,624L940,628M930,621L928,628L928,631M914,639L915,636L916,633M916,633L920,632L923,633M925,651L922,653L916,654M925,651L927,648L928,646M546,656L541,651L535,648M546,656L549,653L557,647M557,647L556,643L557,640M535,648L535,647L536,646M536,646L543,640L547,630M547,630L555,632L556,637M556,637L557,639L557,640M528,652L532,651L535,648M547,657L546,656L546,656M563,651L560,648L557,647M563,646L560,644L557,640M521,622L529,635L536,646M548,626L547,628L547,630M568,640L562,638L556,637M661,652L662,651L662,649M643,645L652,645L662,649M612,654L625,646L643,645M643,645L643,645L643,645M623,608L624,614L625,615M623,608L620,608L617,608M617,608L614,616L614,624M625,615L620,620L616,624M616,624L615,624L614,624M628,604L625,606L623,608M636,623L636,619L632,605M636,623L632,621L625,615M604,589L608,586L611,586M604,589L606,592L606,596M616,607L617,608L617,608M607,628L610,626L614,624M517,551L513,548L513,545M517,551L517,554L515,563M515,563L511,563L503,569M513,545L510,541L504,538M503,569L504,553L503,538M504,538L503,538L503,538M502,574L502,572L503,569M515,574L515,572L515,563M486,542L493,543L503,538M701,577L702,577L702,579M701,577L700,587L685,595M702,579L695,594L692,601M685,595L685,595L685,595M685,595L687,597L692,601M710,589L706,584L702,579M710,591L702,599L697,609M697,609L695,609L693,609M692,601L693,603L693,609M735,612L734,610L734,607M718,603L717,604L717,606M717,606L717,608L719,612M732,618L728,619L720,613M727,603L731,605L734,607M719,612L720,612L720,613M747,650L755,644L757,641M757,641L759,640L761,641M761,641L762,642L762,642M738,651L741,651L747,650M776,657L767,649L762,642M763,640L762,640L761,641M767,615L762,612L758,611M758,611L753,616L751,617M748,631L749,637L757,641M738,651L737,651L737,651M737,651L728,656L722,655M584,547L581,541L579,537M584,547L572,545L561,549M567,538L563,540L558,546M561,549L559,547L558,546M587,549L577,562L567,574M587,549L585,548L584,547M561,549L566,560L567,574M567,521L562,525L557,531M557,531L560,539L557,545M558,546L558,546L557,545M551,516L550,521L552,527M557,531L556,529L552,528M552,527L552,527L552,528M557,545L556,545L553,546M552,528L547,535L542,538M553,546L552,542L542,538M542,512L542,513L541,514M540,508L523,517L509,523M509,527L510,525L509,523M509,527L520,532L532,527M532,527L537,524L541,514M552,527L547,528L544,527M541,514L541,524L544,527M485,541L484,526L478,521M509,527L507,533L504,538M503,510L508,514L509,521M503,510L497,508L489,504M509,521L509,522L509,523M489,504L484,508L479,511M479,511L479,517L478,521M455,520L456,519L458,516M478,521L465,517L458,516M675,600L678,599L685,595M675,600L680,606L683,615M693,609L689,613L684,616M683,615L683,616L684,616M626,515L623,524L626,528M626,515L621,515L617,510M612,524L614,526L617,529M612,524L610,521L609,517M617,529L621,529L626,528M609,517L611,515L617,510M619,503L624,502L630,503M619,503L619,504L616,505M616,505L616,508L617,510M634,508L631,511L626,515M634,508L634,508L634,508M634,508L631,505L630,503M596,531L597,542L600,547M596,531L607,526L612,524M613,535L603,540L600,547M613,535L615,533L617,529M590,522L595,528L596,531M600,514L604,514L609,517M638,545L635,538L636,533M638,545L635,548L632,550M636,533L629,531L626,528M613,535L621,546L629,551M616,505L616,505L615,504M660,552L660,551L659,551M660,552L651,563L644,570M659,551L652,549L641,546M644,570L648,553L641,546M640,577L641,575L644,570M644,582L655,575L669,563M669,563L663,560L660,552M638,545L639,546L641,546M680,569L678,569L676,567M680,569L678,573L677,580M676,567L663,573L660,582M677,580L671,588L669,596M660,582L664,586L667,596M667,596L668,596L669,596M661,548L660,549L659,551M661,548L675,547L687,541M669,563L671,566L676,567M687,541L687,544L689,552M689,552L689,557L686,568M686,568L683,568L680,569M700,574L694,570L686,568M700,574L700,576L701,577M685,595L680,589L677,580M645,583L653,584L660,582M675,600L673,598L669,596M664,598L665,597L667,596M597,550L592,567L580,584M597,550L598,550L599,550M599,550L601,552L603,554M595,586L603,565L603,556M595,586L589,586L583,587M603,556L603,555L603,554M583,587L581,585L580,584M587,549L590,550L597,550M567,574L567,575L567,576M567,576L574,579L580,584M600,547L599,549L599,550M619,555L607,554L603,554M604,589L600,588L595,586M616,576L611,568L603,556M580,601L579,593L583,587M756,460L749,463L742,461M729,476L728,473L730,467M742,461L735,465L730,467M706,476L704,474L704,471M704,471L709,465L720,457M720,457L724,455L728,456M730,467L728,461L728,456M679,510L679,510L679,510M695,512L693,513L691,515M695,512L696,509L697,508M691,515L684,513L679,510M664,510L664,517L662,520M662,520L666,524L669,527M669,527L675,523L679,511M679,510L679,511L679,511M619,503L621,494L624,489M630,503L628,498L629,492M629,492L626,489L624,489M611,485L613,483L617,482M624,489L621,486L617,482M780,421L779,420L779,420M776,436L771,429L768,425M768,425L768,424L768,423M768,423L775,424L779,420M664,480L661,474L663,468M664,480L669,479L678,477M678,477L679,477L681,476M663,468L669,469L671,467M671,467L674,470L681,475M681,476L681,475L681,475M680,494L680,485L678,477M664,480L664,480L664,480M688,486L683,480L681,476M677,465L674,466L671,467M685,470L685,470L685,470M685,470L682,474L681,475M685,470L691,468L701,468M701,468L702,469L704,471M753,507L750,499L750,492M753,507L747,510L740,504M740,504L745,500L750,492M759,510L757,509L753,507M751,490L750,491L750,492M751,490L757,497L765,500M760,510L764,502L765,500M736,504L735,499L728,496M736,504L739,504L740,504M750,490L751,490L751,490M744,593L742,593L735,591M744,593L741,598L741,603M735,591L737,597L739,604M741,603L740,603L739,604M756,607L749,606L741,603M756,607L758,596L758,592M748,589L746,591L744,593M758,592L756,592L754,591M731,589L732,590L735,591M734,607L738,605L739,604M758,611L756,609L756,607M797,554L797,554L797,554M805,543L805,548L803,555M797,554L801,552L803,555M779,552L782,557L786,561M797,554L792,557L786,561M806,555L804,556L803,556M803,556L803,555L803,555M78,325L73,322L71,317M78,325L83,332L82,340M71,317L70,321L67,327M67,327L66,334L66,338M82,340L79,338L67,339M67,339L66,339L66,338M88,314L83,318L78,325M82,307L75,314L71,317M71,317L71,317L71,317M88,344L86,343L82,340M53,357L63,350L67,339M37,347L37,342L39,335M20,332L25,336L37,334M39,335L38,335L37,334M16,319L17,319L19,319M37,334L26,323L19,319M71,317L67,315L64,314M67,327L62,324L58,320M58,320L62,318L64,314M57,293L57,294L57,296M64,314L62,299L57,296M27,561L30,565L32,569M27,561L37,567L48,565M32,569L36,571L42,572M48,565L46,569L42,572M20,575L24,574L32,569M23,558L25,559L27,561M51,557L67,556L87,548M51,557L52,560L51,562M51,562L60,575L72,583M72,583L83,565L100,550M100,550L92,552L87,548M69,535L76,540L87,548M46,548L50,553L51,557M48,565L49,563L51,562M101,550L101,550L100,550M42,572L42,575L40,582M72,583L71,586L71,589M40,582L54,581L71,589M71,592L71,592L71,592M71,592L71,591L71,589M8,610L19,600L30,588M8,610L17,611L25,615M25,615L28,614L30,612M30,612L34,608L41,601M30,588L32,589L34,589M34,589L37,594L41,600M41,601L42,601L41,600M21,579L25,585L30,588M37,637L31,625L25,615M49,621L41,619L30,612M51,616L45,607L41,601M40,582L37,586L34,589M71,592L58,598L41,600M51,450L51,450L51,450M51,450L47,452L39,460M51,450L44,448L40,445M40,445L39,454L38,459M39,460L39,460L38,459M64,456L55,451L51,450M51,432L52,437L51,450M39,460L39,460L39,460M31,436L37,443L40,445M23,447L29,457L38,459M497,430L505,431L511,433M502,407L505,413L512,415M499,406L498,406L498,407M512,415L510,422L511,433M491,440L494,449L502,460M513,445L511,440L514,437M511,433L512,435L514,437M529,308L526,306L522,307M522,307L508,327L500,336M532,327L530,340L521,345M500,336L515,337L521,345M528,379L522,373L516,368M513,384L515,377L509,372M516,368L512,370L509,372M535,381L537,376L542,370M542,370L536,360L525,357M516,368L520,366L525,357M489,336L491,338L494,337M489,336L484,342L470,347M494,337L495,352L499,369M499,369L495,371L488,378M470,347L483,363L488,378M444,374L450,371L458,363M444,374L445,378L445,381M445,381L447,383L450,385M450,385L466,387L479,379M458,363L471,375L479,379M457,393L454,390L450,385M486,396L485,389L485,381M479,379L483,380L485,381M509,372L502,372L499,369M485,381L486,380L488,378M407,287L437,288L451,290M453,276L451,285L452,289M451,290L452,289L452,289M369,515L385,506L405,493M392,452L398,454L409,454M409,454L409,454L410,454M410,454L406,481L405,493M427,492L425,490L423,488M423,488L413,490L405,493M439,488L449,482L454,477M439,488L438,481L437,470M454,477L454,475L455,473M437,470L445,475L455,473M439,488L439,490L437,491M423,488L423,474L423,463M437,470L433,464L423,463M410,454L416,456L421,460M423,463L422,462L421,460M472,429L467,431L459,434M488,439L479,450L463,459M463,459L456,452L455,446M459,434L456,436L455,446M456,408L453,413L449,419M459,434L454,428L449,419M421,460L430,454L447,447M455,473L463,469L464,462M463,459L464,461L464,462M455,446L453,448L447,447M601,61L609,62L616,65M626,50L620,53L616,65M616,65L616,65L616,65M598,82L602,80L608,78M616,65L609,73L608,78M444,58L441,62L438,63M438,63L433,60L428,47M456,64L448,63L444,58M435,73L436,69L438,63M420,65L423,54L428,47M885,106L885,103L886,102M885,106L881,104L876,103M886,102L878,97L878,96M876,103L877,101L878,96M899,104L891,102L888,98M888,98L886,100L886,102M885,108L885,107L885,106M875,103L876,103L876,103M876,92L877,94L878,96M876,92L875,91L875,91M903,84L902,80L901,72M903,84L906,81L921,71M914,66L910,65L904,65M914,66L917,67L921,71M904,65L903,69L901,72M921,71L921,71L921,71M914,55L915,60L914,66M904,57L906,61L904,65M917,56L923,65L921,71M885,64L892,68L901,72M923,72L922,71L921,71M903,84L898,83L893,85M903,84L904,85L904,86M904,86L904,88L904,90M893,85L889,89L887,92M902,98L903,95L904,90M902,98L892,97L888,97M888,97L887,95L887,92M882,78L886,81L893,85M903,84L903,84L903,84M914,89L908,89L904,86M914,99L909,95L904,90M876,92L882,92L887,92M902,102L902,100L902,98M888,98L888,97L888,97M500,336L496,338L494,337M521,345L521,345L521,345M525,357L525,356L525,355M521,345L521,351L525,355M523,399L526,401L531,403M536,384L541,393L543,398M531,403L538,402L543,398M542,370L547,370L550,369M550,369L551,370L552,370M548,397L549,387L552,370M548,397L546,399L545,399M543,398L544,399L545,399M839,346L838,343L836,343M841,333L840,337L837,338M836,343L837,340L837,338M688,312L692,317L696,320M688,312L684,317L678,324M697,323L697,321L696,320M697,323L692,329L686,328M686,328L682,326L678,324M606,355L606,350L604,347M606,355L614,353L621,348M604,347L605,342L614,335M621,348L620,344L620,342M614,335L617,340L620,342M598,318L609,317L615,321M588,321L592,330L590,340M590,340L597,346L604,347M614,335L613,330L615,321M678,445L676,443L674,442M678,445L682,443L684,445M674,442L673,434L674,424M674,424L677,424L680,424M680,424L688,430L692,436M684,445L686,439L692,436M673,453L674,449L678,445M673,453L676,456L678,461M682,459L685,456L689,454M684,445L688,450L689,454M701,468L701,466L701,463M689,454L695,457L701,463M703,427L701,431L695,435M703,427L695,421L692,414M680,424L688,418L692,414M692,436L693,436L695,435M688,312L688,308L687,303M696,320L703,316L708,311M687,303L698,312L708,311M772,442L759,439L752,432M768,425L762,426L756,428M756,428L755,430L752,432M766,459L763,460L757,459M757,459L748,452L744,438M744,438L744,437L746,434M752,432L749,433L746,434M844,412L843,412L842,412M842,412L840,410L838,409M852,392L843,390L837,390M837,390L838,398L838,409M803,407L817,403L825,400M803,407L803,409L804,411M813,416L809,416L804,411M813,416L823,411L836,408M825,400L831,403L836,408M842,412L833,416L827,427M827,427L820,423L813,416M838,409L837,409L836,408M830,372L830,372L830,372M837,390L834,388L830,385M830,372L829,378L830,385M779,403L788,402L802,405M779,403L779,401L777,395M796,385L798,386L802,388M802,405L804,395L802,391M802,388L803,389L802,391M802,405L802,406L803,407M825,400L830,395L827,389M802,391L815,389L827,389M830,385L829,387L827,389M796,160L798,157L792,149M796,160L799,159L801,157M801,157L802,151L801,145M792,149L794,148L798,145M801,145L800,145L798,145M859,132L858,132L856,133M848,125L850,127L851,131M856,133L854,132L851,131M836,120L835,123L833,128M833,128L837,131L841,136M851,131L847,133L841,136M874,144L866,146L860,151M877,153L871,156L862,157M860,151L860,154L862,157M856,133L855,140L854,148M860,151L857,149L854,148M841,136L841,136L841,136M841,136L847,140L852,149M854,148L853,148L852,149M867,166L865,164L863,162M862,157L862,160L863,162M790,188L796,182L798,176M790,188L787,187L779,189M779,189L774,177L776,172M776,172L780,168L781,165M781,165L783,165L784,164M784,164L789,164L793,164M793,164L795,167L797,170M797,170L796,172L798,176M818,193L818,189L818,186M818,193L811,193L797,192M797,192L794,190L790,188M818,186L809,176L798,176M818,176L812,174L804,170M818,176L812,168L814,159M804,170L807,166L814,159M814,159L814,159L814,159M796,160L794,162L793,164M801,157L809,157L814,159M797,170L803,169L804,170M789,131L784,129L778,122M789,131L790,135L788,139M788,139L786,143L782,146M777,122L777,121L778,122M777,122L772,134L773,143M782,146L778,144L773,143M788,139L793,142L798,145M792,149L788,149L783,148M782,146L783,147L783,148M784,164L784,160L783,155M783,155L782,151L783,148M786,113L784,106L781,101M786,113L793,109L797,108M797,108L790,103L785,91M785,91L783,92L782,92M781,101L781,96L782,92M785,91L787,90L790,88M790,88L789,78L785,73M774,87L776,89L777,90M774,87L780,79L785,73M782,92L779,90L777,90M811,121L813,124L813,126M811,121L808,120L807,118M807,118L806,119L804,120M804,120L798,125L793,130M793,130L802,135L807,140M813,126L816,130L817,136M807,140L815,141L817,137M817,136L817,137L817,137M823,113L818,118L811,121M834,117L824,122L813,126M789,131L791,131L793,130M780,120L779,121L778,122M780,120L790,121L804,120M801,145L806,142L807,140M833,128L824,134L817,136M799,84L798,84L796,86M799,84L801,90L810,100M796,86L802,93L799,108M810,100L805,105L803,109M803,109L802,109L799,108M804,74L801,79L799,84M793,67L790,70L786,70M786,70L786,72L785,73M790,88L793,88L796,86M811,100L810,100L810,100M797,108L798,108L799,108M807,118L805,113L803,109M786,113L782,114L780,120M784,70L777,69L767,61M784,70L776,72L769,77M769,77L768,75L766,74M766,74L768,68L767,61M767,61L767,61L767,61M776,52L772,55L767,61M786,70L785,70L784,70M774,87L774,87L774,87M774,87L772,80L769,77M751,79L744,70L744,65M751,79L760,75L766,74M749,54L748,60L744,65M749,54L753,55L767,61M749,52L749,52L749,54M642,294L640,289L639,285M642,294L652,291L662,284M639,285L647,284L660,282M662,284L661,283L660,282M642,272L638,275L636,278M642,272L642,270L642,268M635,257L631,263L624,270M635,257L636,263L642,268M636,278L632,278L627,277M627,277L624,273L624,270M657,268L652,270L642,272M657,268L659,277L660,282M639,285L639,282L636,278M645,252L636,248L633,252M645,252L640,260L642,268M633,252L633,255L635,257M622,124L616,126L611,126M622,124L623,122L623,120M623,120L619,119L612,115M612,115L610,117L608,120M608,120L609,123L611,126M625,132L624,134L623,135M625,132L622,127L622,124M623,135L618,132L611,129M611,129L612,128L611,126M596,120L601,120L608,120M611,103L613,106L614,107M614,107L612,110L612,115M611,129L611,132L604,139M604,139L595,139L590,139M649,189L648,183L653,176M649,189L644,187L637,188M637,188L633,180L631,173M631,173L636,170L645,168M645,168L648,172L653,176M630,194L629,195L623,195M630,194L633,192L637,188M630,173L621,175L615,172M630,173L630,173L631,173M615,172L614,172L614,172M623,195L616,185L614,172M661,171L658,171L653,176M661,171L654,164L650,160M645,166L648,163L650,160M645,166L645,167L645,168M617,146L619,143L622,142M618,158L622,155L626,156M626,156L621,154L622,142M623,135L622,138L623,141M604,139L606,141L608,143M622,142L623,141L623,141M645,166L642,164L641,161M650,159L650,160L650,160M650,159L648,157L646,156M646,156L645,159L641,161M630,173L633,164L633,158M641,161L637,160L633,158M615,172L615,165L615,161M626,156L629,157L633,156M633,158L633,157L633,156M629,144L631,150L633,156M629,144L625,144L623,141M633,156L633,156L633,156M475,206L472,199L472,196M452,219L450,212L448,209M472,196L459,200L448,209M480,180L479,184L475,187M472,196L472,190L475,187M543,280L543,280L543,279M508,292L515,295L522,307M508,292L508,291L510,289M510,289L514,286L517,285M543,279L528,285L517,285M623,195L619,197L615,199M614,172L602,169L595,179M615,199L607,199L600,194M595,179L597,187L600,194M556,247L553,248L548,250M556,247L557,246L559,243M559,243L558,240L555,234M548,250L538,245L533,243M533,243L537,232L541,224M555,234L545,230L541,224M533,243L527,241L520,241M520,241L522,225L537,214M537,214L538,215L538,216M541,224L540,220L538,216M517,206L523,202L530,202M516,241L517,241L520,241M537,214L536,208L532,202M530,202L531,202L532,202M580,270L584,267L588,266M604,281L603,286L598,291M604,281L603,274L598,270M588,266L589,266L589,266M598,270L593,269L589,266M556,247L564,258L568,267M559,243L567,239L576,235M588,266L587,265L587,263M587,263L582,246L576,235M921,250L922,256L924,258M945,259L946,258L947,255M945,259L943,259L942,261M924,258L928,261L942,261M917,274L918,273L920,273M920,273L922,269L923,266M924,258L923,261L923,266M953,314L951,316L949,320M953,314L951,310L944,306M944,306L943,307L942,307M942,307L945,316L946,318M946,318L947,318L948,320M948,320L949,320L949,320M953,314L958,315L960,318M953,314L953,314L953,314M954,326L953,323L949,320M939,309L940,308L942,307M937,318L941,317L946,318M937,330L943,325L948,320M964,318L963,314L962,310M953,314L955,315L958,309M958,309L960,309L962,310M866,310L862,309L860,310M858,322L859,319L859,311M860,310L860,310L859,311M965,378L968,375L969,372M965,378L969,381L970,383M970,383L971,385L973,386M973,386L977,381L980,377M969,372L973,371L977,370M977,370L978,375L980,377M961,361L963,366L969,372M961,380L962,379L965,378M976,389L975,388L973,386M978,369L977,369L977,370M978,369L977,363L976,353M972,547L963,549L957,549M948,558L950,555L951,553M957,549L955,550L954,550M951,553L952,551L954,550M972,500L970,502L970,505M970,505L972,510L976,521M975,530L975,530L975,530M976,521L975,526L975,530M942,494L945,495L947,502M932,507L929,506L927,506M932,507L939,506L943,507M943,507L945,504L947,502M959,495L955,496L947,502M947,502L947,502L947,502M943,581L947,581L951,583M943,581L944,586L945,594M951,583L954,584L957,588M957,588L958,593L957,601M945,594L949,596L951,598M957,601L953,599L951,598M969,575L961,580L951,583M940,578L941,580L943,581M935,579L928,593L928,609M928,609L929,609L929,609M943,596L935,601L929,609M943,596L945,594L945,594M967,589L962,589L957,588M961,606L959,604L957,601M947,605L948,602L951,598M947,605L946,605L946,605M943,596L946,600L946,605M947,605L952,610L958,612M958,612L959,608L961,606M928,610L924,605L915,604M928,610L925,619L914,630M915,604L914,604L909,604M910,627L912,629L914,630M910,627L905,622L905,611M909,604L908,605L907,606M905,611L905,609L907,606M921,586L914,593L915,604M928,609L928,610L928,610M928,610L928,610L928,610M930,621L930,615L928,610M916,633L915,631L914,630M894,633L908,630L910,627M890,623L897,622L905,611M940,609L936,609L932,610M940,609L949,611L958,614M932,610L937,617L945,621M945,621L948,622L955,621M955,621L956,620L958,620M958,614L958,617L958,620M946,605L942,606L940,609M929,609L930,610L932,610M958,612L958,613L958,614M940,628L940,626L945,621M938,636L941,634L948,635M948,635L951,628L955,621M948,635L949,637L951,639M964,628L962,623L958,620M964,628L964,628L964,628M958,620L958,620L958,620M875,461L877,463L880,466M875,461L870,468L866,473M866,473L870,483L873,484M873,484L875,485L876,485M880,466L878,473L880,477M876,485L879,482L880,477M880,466L888,465L894,464M894,465L894,465L894,464M894,465L892,470L887,475M887,475L884,475L880,477M893,447L893,448L894,449M875,461L874,459L874,456M879,444L874,452L874,456M894,464L895,460L895,456M894,449L895,452L895,456M906,446L908,451L911,453M894,449L905,451L911,453M918,455L915,455L914,456M911,453L912,455L914,456M899,525L894,524L889,527M899,525L908,537L912,541M899,543L896,542L887,534M889,527L887,530L887,534M890,550L886,546L883,539M887,534L884,536L883,539M848,524L856,527L862,526M864,550L864,550L864,550M864,550L864,536L865,530M862,526L864,527L865,530M864,550L868,543L875,539M865,530L870,536L875,539M877,557L878,552L883,539M875,539L879,537L883,539M883,539L883,539L883,539M867,505L870,508L873,510M867,505L873,497L879,489M873,510L878,505L883,500M883,500L881,494L879,489M849,484L849,485L848,486M849,484L856,486L860,484M860,484L865,485L868,486M849,488L856,488L862,493M849,488L848,487L848,486M868,486L865,490L862,493M845,487L841,483L836,481M845,487L846,486L848,486M849,480L846,477L841,473M849,480L849,483L849,484M860,471L859,478L860,484M860,471L863,472L866,473M873,484L871,485L868,486M860,505L854,508L852,509M860,505L863,498L862,493M852,509L848,496L849,488M843,521L850,517L852,509M837,493L842,489L845,487M837,493L840,511L835,520M860,505L864,504L867,505M876,485L878,487L879,489M879,489L879,489L879,489M827,427L828,428L827,429M847,433L839,438L833,435M833,435L832,432L827,429M802,430L815,433L823,433M802,414L803,413L804,411M823,433L825,432L827,429M848,436L848,439L848,442M835,443L833,438L833,435M835,443L839,443L843,447M848,442L845,444L843,447M912,381L915,386L921,388M909,399L909,399L910,399M910,399L917,393L921,388M929,386L929,387L928,387M921,388L924,387L928,387M770,614L769,610L774,604M793,609L786,603L777,603M774,604L776,603L777,603M758,592L763,591L764,590M774,604L769,597L764,590M909,604L907,593L899,584M907,606L901,605L893,604M893,604L893,596L892,590M899,584L894,587L892,590M920,585L908,583L899,579M899,584L899,581L899,579M899,577L899,577L899,577M899,579L899,578L899,577M888,604L891,604L893,604M888,604L884,599L882,593M892,590L888,594L882,593M885,608L883,610L880,616M885,608L876,597L872,594M872,594L877,612L880,616M879,618L880,617L880,616M888,604L886,607L885,608M871,621L866,617L863,612M877,619L873,608L869,600M863,612L863,608L869,600M852,614L855,613L859,612M852,614L850,608L841,607M859,612L855,605L850,598M841,607L843,605L845,600M845,600L848,601L850,598M851,624L850,620L852,614M863,612L862,612L861,612M861,612L860,611L859,612M825,615L833,610L841,607M861,612L855,601L857,594M857,594L852,596L850,598M837,585L841,595L845,600M822,607L820,600L821,594M833,586L826,588L821,594M964,628L965,629L967,630M967,630L972,628L976,628M925,651L930,654L936,655M920,674L929,670L936,663M936,663L935,661L936,655M937,637L940,646L944,651M936,655L940,655L944,651M950,651L952,648L954,646M950,651L949,651L948,651M948,651L945,650L944,651M660,611L661,614L661,618M683,615L677,619L669,621M661,618L664,620L669,621M636,623L637,624L637,625M616,624L630,627L635,630M637,625L636,627L635,630M612,647L621,645L635,634M635,630L635,632L635,634M643,645L643,643L642,643M635,634L639,637L642,643M521,579L525,575L528,570M530,590L537,583L543,575M528,570L535,573L541,574M543,575L542,574L541,574M717,606L713,608L711,611M697,609L699,610L700,610M700,610L705,612L707,612M711,611L709,612L707,612M719,612L719,617L716,619M711,611L712,613L716,619M707,612L708,619L709,625M716,619L716,621L717,622M709,625L713,624L717,622M720,613L722,618L721,623M717,622L719,622L721,623M731,618L732,620L728,626M721,623L724,623L728,626M698,645L699,643L701,641M722,655L721,653L720,652M720,652L712,650L701,641M748,631L743,632L737,632M737,651L736,647L734,642M737,632L735,636L734,642M728,626L728,626L728,626M737,632L732,629L728,626M528,542L533,543L537,541M528,542L532,536L534,530M537,541L539,540L541,538M541,538L540,536L540,534M534,530L537,532L540,534M513,545L519,540L528,542M532,527L532,529L534,530M542,538L542,538L541,538M544,527L541,530L540,534M506,499L508,498L509,495M506,499L504,505L503,510M509,495L512,495L517,494M509,521L519,508L524,503M524,503L519,498L517,494M540,508L539,506L537,504M537,504L534,503L529,502M524,503L527,502L529,502M538,496L533,490L525,486M538,496L539,488L544,484M544,483L544,483L544,484M544,483L534,477L526,477M526,477L527,479L525,485M525,485L525,486L525,486M537,504L539,501L538,496M529,502L522,495L525,486M553,495L545,491L544,484M552,475L547,478L544,483M526,476L526,476L526,477M536,465L546,467L550,466M550,466L552,470L552,474M504,466L507,486L509,495M517,494L522,488L525,485M475,507L466,512L459,511M475,507L473,501L469,494M459,511L459,506L456,498M469,494L465,494L461,494M456,498L458,496L461,494M479,511L478,508L475,507M458,516L459,513L459,511M447,499L454,498L456,498M454,477L460,483L461,494M688,626L686,622L685,618M688,626L696,633L701,641M685,618L690,621L702,622M701,641L703,640L704,637M704,637L705,636L705,635M705,635L706,633L707,629M702,622L705,625L707,629M684,616L685,617L685,618M680,633L676,630L669,627M680,633L685,630L688,626M669,621L669,624L669,627M692,648L688,647L677,642M677,642L679,638L680,633M701,641L701,641L701,641M700,610L699,616L702,622M709,625L708,628L707,629M726,629L726,628L728,626M726,629L711,637L705,635M650,514L650,514L650,514M650,514L643,515L640,521M650,514L649,519L648,527M640,521L639,525L637,532M637,532L641,531L648,528M648,528L648,528L648,527M662,520L662,520L662,520M648,507L649,509L650,514M662,520L656,517L650,514M634,508L636,517L640,521M645,505L638,506L634,508M662,520L655,522L648,527M636,533L636,533L637,532M663,537L660,533L648,528M663,537L662,545L661,548M663,537L668,532L669,527M669,527L669,527L669,527M756,554L750,558L742,562M749,532L748,532L746,532M742,562L741,562L741,562M741,562L739,558L738,556M746,532L747,535L741,542M741,542L737,548L737,553M737,553L737,555L738,556M730,585L731,582L733,579M744,582L742,582L736,576M736,576L735,578L733,579M736,504L738,514L735,520M746,532L745,531L744,530M744,530L740,525L735,520M719,511L721,513L722,516M722,516L727,517L734,520M735,520L734,519L734,520M741,542L730,543L720,537M744,530L734,531L727,532M720,537L722,534L727,532M737,553L726,557L718,547M718,547L717,544L714,539M720,537L718,538L714,539M734,520L730,521L726,525M727,532L726,529L726,525M704,545L704,548L704,553M704,545L708,540L712,537M704,553L708,551L717,551M718,547L717,549L717,551M712,537L713,538L714,539M722,516L721,520L720,524M720,524L721,523L726,525M757,459L757,460L756,460M744,438L743,440L740,441M742,461L738,449L738,443M740,441L739,441L738,443M728,456L728,454L729,451M738,443L733,446L729,451M689,523L687,527L683,528M689,523L689,521L688,519M683,528L682,522L683,515M688,519L686,518L683,515M695,512L697,520L695,523M695,523L692,524L689,523M691,515L688,516L688,519M669,527L675,528L681,530M681,530L682,530L683,528M679,511L682,512L683,515M709,514L708,517L708,523M695,523L696,523L696,523M696,523L703,520L708,523M720,524L715,529L711,531M708,523L709,526L711,531M712,537L712,537L712,537M712,537L712,534L711,531M644,494L638,490L631,492M644,494L644,488L646,484M631,492L633,485L638,483M646,484L641,483L638,483M645,496L644,495L644,494M629,492L630,492L631,492M658,483L650,485L647,483M647,483L646,483L646,484M673,453L669,456L665,458M663,468L662,468L662,468M662,468L665,463L665,458M674,442L668,439L663,441M663,441L666,449L665,458M665,458L665,458L665,458M610,485L606,474L601,468M595,475L593,473L593,472M593,472L597,469L601,468M585,481L588,476L590,471M593,472L591,471L590,471M764,404L764,410L759,412M764,404L773,404L776,406M776,406L776,407L776,408M776,408L773,415L767,417M759,412L760,415L767,417M779,403L778,405L776,406M779,420L777,415L776,408M768,423L768,421L767,417M781,491L775,491L768,492M781,491L783,487L789,483M789,483L787,480L783,479M783,479L777,481L770,481M770,481L768,481L767,484M767,484L769,489L768,492M767,498L778,500L784,503M767,498L768,494L768,492M784,503L782,496L781,491M803,470L803,472L804,474M803,470L798,465L792,461M783,465L786,472L783,479M793,484L800,477L804,474M793,484L791,483L789,483M767,460L765,471L770,481M754,481L761,483L767,484M765,500L766,498L767,498M36,297L35,298L35,300M19,319L21,318L24,317M35,300L33,305L24,317M52,329L54,328L56,322M52,329L46,329L42,331M56,322L50,319L50,313M42,331L43,327L40,322M50,313L46,314L40,316M40,316L42,320L40,322M66,338L62,340L52,329M58,320L57,320L56,322M39,335L41,333L42,331M57,296L54,303L50,313M24,317L35,317L40,322M35,300L41,310L40,316M492,470L481,468L469,464M492,470L490,477L488,483M469,464L472,476L470,493M488,483L488,486L485,488M485,488L478,492L470,493M502,465L496,469L492,470M464,462L467,463L469,464M506,499L496,490L488,483M469,494L470,493L470,493M489,504L490,495L485,488M535,461L535,458L538,455M531,445L532,445L532,444M532,444L534,450L538,455M652,419L647,420L641,418M652,419L652,412L651,407M651,407L647,407L643,408M641,418L640,413L643,408M650,395L644,397L638,393M650,395L653,398L656,401M656,401L652,404L651,407M638,393L636,397L635,402M643,408L637,407L635,402M398,289L412,291L420,311M451,290L448,293L447,303M447,303L437,307L420,311M408,335L417,327L421,320M420,311L422,316L421,320M483,305L472,303L469,295M483,305L493,296L505,291M469,295L480,286L489,271M505,291L501,287L498,278M498,278L491,276L489,271M508,292L506,292L505,291M489,336L487,325L483,319M483,319L481,311L483,305M481,261L483,267L489,271M452,289L460,291L469,295M513,254L508,256L498,278M514,253L517,255L519,262M510,289L512,270L519,262M421,434L424,432L431,432M421,434L421,430L419,425M431,432L436,421L445,418M419,425L423,412L424,405M445,418L441,410L426,404M426,404L426,404L425,404M425,404L425,405L424,405M409,454L414,443L421,434M447,447L438,440L431,432M387,420L388,421L390,420M390,420L409,420L419,425M449,419L447,419L445,418M390,420L399,410L424,405M445,381L445,390L426,404M440,371L443,372L444,374M419,399L423,402L425,404M641,58L641,60L642,62M663,62L663,67L662,69M662,69L652,63L642,62M611,96L618,93L618,89M614,107L625,108L632,106M632,106L627,97L618,89M616,65L617,65L617,66M608,78L612,84L619,88M617,66L618,74L622,85M622,85L620,86L619,88M618,89L618,88L619,88M540,417L533,412L529,411M540,417L537,422L536,430M535,431L535,430L536,430M535,431L532,429L528,428M528,428L524,423L522,419M522,419L526,414L529,411M548,408L545,406L545,399M548,408L544,413L540,417M531,403L531,406L529,411M563,423L558,425L555,432M563,423L563,422L562,420M562,420L554,418L548,408M555,432L546,431L536,430M514,437L521,436L528,428M532,444L533,443L534,441M534,441L532,432L535,431M512,415L518,415L522,419M521,345L533,345L544,341M525,355L539,351L546,350M546,350L544,345L544,341M550,369L553,365L554,357M546,350L550,353L554,357M544,334L544,337L544,340M544,340L544,341L544,341M570,340L569,344L558,355M570,340L562,339L560,336M560,336L560,336L560,336M560,336L559,339L557,341M557,341L556,349L557,355M558,355L558,355L557,355M564,322L562,329L560,336M583,319L580,327L570,340M570,340L570,340L570,340M548,331L554,330L560,336M544,340L552,342L557,341M554,357L555,357L557,355M570,340L572,345L576,347M558,355L563,357L570,356M570,356L571,352L576,347M590,340L587,345L585,346M585,346L581,348L576,347M561,394L561,394L561,393M561,394L564,400L566,405M561,393L572,395L575,396M566,405L578,400L583,402M583,402L580,398L575,396M562,420L564,413L566,405M548,397L555,394L561,394M561,393L561,393L561,393M561,393L564,389L569,384M569,384L571,386L574,388M574,388L574,393L575,396M574,388L577,386L586,385M586,385L588,391L589,396M583,402L584,402L585,402M589,396L586,397L585,402M619,406L617,402L611,391M619,406L623,404L628,404M628,404L626,399L619,387M611,391L616,389L619,387M617,413L607,415L601,415M617,413L617,411L619,406M601,415L607,397L610,391M611,391L610,391L610,391M580,373L573,375L570,379M580,373L580,370L579,367M579,367L577,366L576,365M576,365L562,368L554,371M570,379L565,375L554,371M554,371L554,371L554,371M587,358L586,352L585,346M587,358L582,363L579,367M570,356L573,358L576,365M552,370L553,371L554,371M561,393L558,383L554,371M569,384L570,382L570,379M822,339L823,333L824,327M822,339L811,336L804,337M804,337L808,330L813,328M813,328L816,326L819,325M819,325L821,325L824,327M828,343L825,341L822,339M828,343L833,344L836,343M837,338L832,333L830,324M830,324L827,327L824,327M628,354L625,351L621,348M628,354L629,354L632,353M620,342L623,341L632,340M632,340L631,347L632,353M646,366L647,366L647,365M646,366L644,360L641,354M647,365L649,363L654,357M650,345L653,349L656,350M650,345L648,346L647,346M647,346L645,349L641,354M654,357L654,353L656,350M668,332L664,340L663,350M668,332L672,333L674,338M673,359L672,359L671,358M673,359L672,353L676,347M676,347L674,344L674,338M663,350L665,354L671,358M666,291L663,289L662,284M666,291L666,295L664,298M662,284L662,284L662,284M642,294L642,297L643,301M643,301L654,298L664,298M617,319L621,314L633,305M617,319L618,314L614,300M633,305L625,301L618,293M614,300L616,294L618,293M600,295L606,299L614,300M615,321L616,320L617,319M617,319L617,319L617,319M619,281L618,286L618,293M619,281L622,279L627,277M643,301L643,301L643,301M643,301L638,305L633,305M619,281L610,283L604,281M727,335L727,343L728,348M727,335L721,335L718,335M728,348L719,353L708,349M718,335L716,345L708,349M734,328L741,334L749,337M734,328L727,331L727,335M749,337L743,351L738,360M738,360L735,360L732,358M732,358L730,353L728,348M713,443L717,442L719,444M713,443L711,447L706,451M713,453L710,455L706,453M713,453L718,451L723,448M723,448L720,446L719,444M706,451L706,451L706,453M703,427L704,427L704,427M695,435L698,446L706,451M704,427L706,428L708,428M708,428L711,435L713,443M720,457L717,457L713,453M701,463L702,458L706,453M729,451L724,450L723,448M740,441L728,437L723,435M723,435L720,439L719,444M818,193L819,195L820,198M797,192L796,200L795,207M820,198L810,202L806,208M795,207L800,207L806,208M687,302L688,300L689,298M687,302L675,301L669,303M689,298L689,295L684,292M666,291L669,290L672,288M669,303L667,300L664,298M684,292L677,289L672,288M799,322L795,325L793,331M799,322L800,313L795,307M795,307L793,307L792,306M792,306L788,315L789,324M789,324L789,328L793,331M771,357L772,348L774,342M771,357L785,351L797,343M797,343L797,342L797,339M774,342L781,339L787,336M797,339L795,337L794,335M787,336L790,335L794,335M771,357L770,359L768,361M774,342L764,342L758,340M758,340L760,348L762,358M762,358L765,360L768,361M797,343L797,344L798,346M777,371L773,369L770,366M770,366L769,364L768,361M756,428L760,420L758,413M759,412L758,412L758,413M758,413L758,413L758,413M762,400L758,398L755,397M762,400L766,396L770,388M755,397L758,392L758,385M770,388L762,386L758,385M773,387L771,387L770,388M764,404L763,402L762,400M757,383L757,384L758,385M757,383L756,380L757,377M757,377L762,370L770,366M829,372L823,370L816,368M829,372L830,357L828,344M816,368L815,367L813,363M828,344L817,350L813,363M830,372L829,372L829,372M802,388L803,380L816,368M828,343L828,343L828,344M804,355L810,358L813,363M797,339L801,337L804,337M829,177L830,176L832,175M829,177L825,177L820,181M828,161L833,164L834,163M828,161L828,170L820,180M834,163L834,168L832,174M832,175L832,175L832,174M820,180L820,180L820,181M847,183L845,180L844,177M847,183L845,186L843,185M843,185L833,180L829,177M844,177L839,177L832,175M827,201L825,201L824,200M827,201L834,197L843,185M818,186L819,183L820,181M820,198L821,199L824,200M819,154L818,156L814,159M819,154L824,159L828,161M818,176L819,178L820,180M844,177L843,174L843,171M843,171L837,172L832,174M819,154L819,150L821,147M817,137L820,139L819,141M821,147L821,144L819,141M841,136L838,138L838,140M819,141L829,141L838,140M821,147L827,146L839,151M838,140L841,147L840,151M839,151L839,152L840,151M834,163L834,163L835,163M839,151L835,158L835,163M778,190L780,194L778,201M778,190L779,189L779,189M795,207L795,207L795,207M778,201L787,201L795,207M781,101L773,106L769,114M777,90L774,95L770,105M770,105L769,110L769,114M774,87L768,93L759,93M770,105L764,100L759,93M781,165L769,156L762,148M783,155L772,153L762,148M762,148L762,148L762,148M773,143L770,148L764,147M764,147L763,148L762,148M777,122L774,120L770,119M769,114L769,115L769,115M769,115L769,118L770,119M770,119L770,119L770,119M764,147L766,139L763,130M770,119L767,124L763,130M776,172L771,172L761,169M762,148L760,149L758,150M761,169L764,159L758,150M750,182L748,181L744,180M750,182L755,176L757,172M757,172L754,169L748,164M744,180L743,179L743,178M743,178L740,172L742,165M742,165L744,165L748,164M731,196L741,203L751,197M731,196L731,191L731,186M751,197L753,193L754,190M754,190L753,187L750,182M731,186L740,186L744,180M778,190L760,188L754,190M761,169L759,170L757,172M724,181L729,177L735,172M724,181L728,185L731,186M735,172L739,176L743,178M730,64L722,68L718,71M730,64L727,59L725,55M725,55L722,52L719,52M719,52L716,59L711,64M711,64L715,67L718,71M749,52L737,51L725,55M744,65L740,67L739,68M739,68L734,65L730,64M719,52L719,52L719,52M691,48L694,52L698,57M711,64L703,61L698,57M711,64L711,64L711,64M739,68L735,72L733,76M718,71L719,74L720,76M733,76L729,74L720,76M615,199L615,200L615,200M596,203L598,199L600,194M596,203L596,211L599,222M599,222L604,220L610,222M615,200L611,212L610,222M630,194L632,203L636,213M636,213L632,211L626,216M615,200L625,207L626,216M646,156L645,155L645,153M633,156L634,155L635,155M645,153L640,154L635,155M454,192L447,197L445,205M454,192L452,183L454,173M429,182L445,180L454,173M429,182L433,194L443,204M443,204L444,204L445,205M475,187L460,188L454,192M448,209L446,208L445,205M470,165L474,172L480,179M460,167L457,170L454,173M412,173L420,177L429,182M405,219L427,214L443,204M547,252L535,258L522,264M547,252L543,263L541,272M541,272L534,270L529,270M522,264L527,266L529,270M548,250L547,251L547,252M519,262L521,263L522,264M543,279L540,275L541,272M517,285L519,274L529,270M579,221L569,215L561,199M579,221L580,212L582,205M582,205L578,199L561,190M561,199L561,193L560,190M560,190L561,190L561,190M554,225L552,222L551,218M554,225L557,223L563,218M551,218L554,213L560,209M563,218L561,214L560,209M555,234L553,228L554,225M538,216L544,217L551,218M576,235L577,234L577,233M577,233L570,226L563,218M532,202L543,195L560,190M561,199L560,205L560,209M580,231L578,233L577,233M580,231L577,226L579,221M605,155L596,162L587,161M595,179L591,177L587,175M587,175L587,168L587,161M587,140L586,144L584,153M587,161L586,157L584,153M560,134L557,138L555,141M555,141L561,146L571,152M571,152L577,155L584,153M589,266L596,256L601,250M587,263L590,256L595,242M601,250L598,246L595,242M923,266L929,268L935,269M942,261L942,264L940,267M940,267L938,268L935,269M920,273L927,278L936,283M935,269L936,273L936,283M965,279L960,276L956,274M965,279L962,286L960,288M960,288L955,291L949,295M953,274L955,275L956,274M953,274L949,278L946,278M946,278L942,282L940,286M948,295L942,289L940,288M948,295L949,295L949,295M940,288L939,287L940,286M958,256L958,257L959,258M945,259L948,264L953,274M959,258L956,266L956,274M940,267L941,272L946,278M936,283L938,284L940,286M921,300L930,294L940,288M944,306L945,302L948,295M958,309L956,306L955,300M955,300L953,298L949,295M959,258L963,262L967,265M965,279L966,279L967,278M967,278L966,272L967,265M963,254L971,253L983,250M962,310L966,308L968,306M955,300L961,299L965,299M965,299L966,303L968,306M970,322L975,313L980,309M968,306L975,307L980,309M875,286L873,284L871,285M860,310L860,307L860,304M860,304L872,291L871,285M880,268L876,272L872,275M872,275L871,280L871,284M871,285L871,285L871,284M970,505L968,507L965,508M947,502L952,504L954,507M954,507L959,508L965,508M975,530L973,529L972,529M972,529L967,518L963,512M965,508L964,511L963,512M957,549L957,538L958,528M954,550L948,541L947,529M958,528L953,528L947,529M972,529L968,528L960,527M958,528L959,527L960,527M963,512L960,514L958,518M960,527L960,522L958,518M954,507L954,512L955,516M958,518L956,517L955,516M816,490L817,492L817,495M816,490L821,487L827,486M817,495L820,494L827,495M827,495L828,493L829,489M829,489L828,488L827,486M819,474L820,474L824,475M819,474L814,473L809,476M828,482L828,484L827,486M809,476L811,482L813,487M813,487L815,487L816,490M833,520L826,507L827,495M837,493L832,492L829,489M824,521L822,517L817,515M817,495L816,498L817,499M817,515L819,507L817,499M813,487L810,491L805,494M817,499L811,497L805,494M908,463L900,460L897,457M908,463L912,459L914,456M914,456L905,458L897,457M911,477L909,476L908,476M908,476L909,470L908,463M914,456L914,456L914,456M895,456L896,456L897,457M887,510L880,513L874,511M887,510L884,517L887,525M887,525L879,526L874,520M874,511L874,517L874,520M873,510L873,510L874,511M889,506L885,501L883,500M889,506L888,508L887,510M910,511L903,517L899,525M908,507L906,504L903,503M889,527L888,526L887,525M903,503L896,504L889,506M862,526L869,524L874,520M901,498L898,490L887,488M901,498L905,486L905,477M887,488L891,486L896,480M896,480L901,479L904,477M904,477L904,477L905,477M903,503L902,503L901,498M879,489L882,488L887,488M908,476L906,477L905,477M887,475L891,477L896,480M894,465L899,472L904,477M834,461L831,461L830,458M838,461L840,460L844,457M835,443L832,446L831,447M843,447L845,451L844,457M830,458L827,451L831,447M844,457L844,457L844,457M859,445L859,448L858,451M859,445L854,445L851,443M851,443L851,448L851,452M858,451L855,451L851,452M874,456L869,458L862,458M869,436L865,443L859,445M862,458L860,453L858,451M848,442L850,443L851,443M844,457L847,456L851,452M931,386L942,392L947,393M939,403L942,398L947,395M939,403L931,396L929,392M928,387L928,389L929,392M947,393L947,394L947,395M956,386L957,387L956,387M947,393L953,389L956,387M949,433L945,430L943,427M949,433L950,440L948,446M922,432L929,429L929,426M929,426L933,426L937,426M943,427L940,428L937,426M781,599L779,600L778,601M781,599L782,596L784,592M778,601L777,595L777,589M784,592L782,590L777,589M793,598L785,598L781,599M793,598L794,600L795,600M777,603L778,601L778,601M793,598L793,595L790,591M790,591L789,591L789,590M789,590L785,592L784,592M789,590L789,586L787,583M777,589L776,588L776,588M776,588L783,583L787,583M877,591L881,588L883,578M877,591L875,592L871,593M871,593L871,593L870,593M870,593L867,591L862,589M877,571L881,575L883,578M877,571L868,576L862,579M862,579L862,581L862,587M862,587L862,588L862,589M899,577L892,574L883,578M882,593L880,593L877,591M872,594L871,594L871,593M869,600L869,595L870,593M857,594L860,592L862,589M877,567L877,569L877,571M853,564L854,576L862,579M840,581L848,587L862,587M942,667L945,665L948,662M953,666L951,664L948,662M936,663L939,665L942,667M959,664L957,666L953,666M948,651L948,656L948,662M959,664L960,663L961,662M950,651L954,658L961,662M668,631L666,633L660,637M668,631L672,639L674,642M660,637L660,644L663,648M674,642L672,645L669,647M669,647L667,648L663,648M677,642L676,643L674,642M669,627L669,628L668,631M662,649L662,649L663,648M656,634L650,642L642,643M656,634L658,635L660,637M677,660L672,655L669,647M644,621L642,623L641,623M644,621L651,623L660,618M641,623L648,627L656,632M660,618L657,623L656,632M644,604L644,610L644,621M637,625L639,624L641,623M661,618L661,618L660,618M656,634L656,633L656,632M550,557L558,571L566,576M550,557L548,560L547,564M547,564L548,566L551,574M551,574L557,576L563,577M563,577L565,577L566,576M567,576L566,576L566,576M551,547L551,547L553,546M551,547L550,552L550,557M557,588L559,582L563,577M543,575L547,576L551,574M541,574L535,567L535,561M547,564L543,563L540,560M535,561L538,559L540,560M528,570L527,564L529,558M535,561L533,559L529,558M517,551L522,557L528,558M528,558L528,558L529,558M723,643L721,640L718,637M723,643L724,641L726,639M726,639L726,636L725,635M718,637L721,635L725,635M720,652L723,648L723,643M704,637L712,635L718,637M734,642L731,640L726,639M726,629L726,631L725,635M724,562L720,560L715,556M724,562L723,565L722,567M722,567L717,571L713,572M715,556L708,562L703,571M713,572L709,573L701,573M701,573L702,572L703,571M738,556L732,560L724,562M717,551L716,553L715,556M741,562L737,568L737,573M737,573L728,572L722,567M736,576L737,574L737,573M733,579L725,572L713,572M704,553L699,561L703,571M700,574L701,574L701,573M689,552L701,548L704,545M699,536L695,530L695,527M699,536L693,537L687,539M695,527L690,534L685,535M687,539L686,536L685,535M696,523L696,525L695,527M712,537L704,535L699,536M687,541L687,540L687,539M681,530L683,532L685,535M644,468L645,466L645,465M644,468L639,472L633,476M645,465L640,467L632,468M632,468L630,473L630,476M633,476L631,476L630,476M647,483L643,478L644,468M662,468L651,470L646,464M646,464L646,464L645,465M638,483L635,479L633,476M617,482L618,479L620,477M620,477L627,476L630,476M646,464L645,463L645,462M665,458L659,455L652,447M652,447L649,455L645,462M628,462L634,461L644,461M628,462L629,465L632,468M644,461L644,461L645,462M563,423L569,424L572,424M585,402L589,409L588,415M588,415L583,418L581,422M572,424L576,422L581,422M620,477L619,471L618,464M601,468L602,466L603,464M603,464L605,464L608,463M618,464L614,463L608,463M628,462L624,461L619,461M618,464L618,463L619,461M790,591L800,586L805,583M788,581L787,582L787,583M788,581L789,581L789,580M789,580L797,584L805,583M821,594L814,589L810,582M820,570L814,573L810,578M810,578L810,580L810,582M800,599L808,591L808,583M805,583L806,583L808,583M808,583L809,582L810,582M543,454L545,451L543,446M543,454L545,456L553,458M543,446L553,441L556,444M553,458L556,455L560,452M556,444L558,446L559,449M559,449L560,451L560,452M534,441L538,441L543,446M538,455L540,455L543,454M550,466L552,462L553,458M555,432L555,438L556,444M571,463L573,460L573,459M573,459L568,457L560,452M572,424L571,428L573,439M573,439L564,441L559,449M573,459L574,459L575,459M573,439L578,445L581,448M581,448L578,454L575,459M483,319L475,327L455,320M447,303L446,309L447,313M455,320L451,317L447,313M421,320L431,324L436,327M447,313L443,320L436,327M430,345L434,342L437,339M436,327L437,331L437,339M617,66L626,69L634,77M634,77L634,77L634,77M622,85L624,84L625,85M634,77L632,80L625,85M589,396L596,396L607,391M588,415L593,414L598,417M601,415L598,417L598,417M610,391L609,391L609,391M607,391L608,391L609,391M628,354L626,359L625,361M606,355L606,357L606,358M625,361L613,358L606,358M638,393L636,386L631,380M628,404L629,404L633,404M633,404L634,403L635,402M619,387L623,387L625,383M625,383L629,381L631,380M650,395L651,393L653,388M653,388L649,382L643,373M643,373L637,376L632,379M632,379L632,380L631,380M646,366L644,369L645,372M643,373L644,373L645,372M632,353L637,354L641,354M625,361L628,366L627,369M632,379L628,375L627,369M830,324L830,321L832,318M819,325L817,320L819,315M832,318L824,318L819,315M792,306L790,304L789,303M789,324L786,320L782,317M787,302L787,309L782,317M787,302L788,302L788,302M788,302L789,303L789,303M808,297L799,299L789,303M808,297L806,295L806,293M788,302L795,298L803,291M806,293L805,292L803,291M647,365L652,365L660,364M654,357L662,361L665,361M660,364L662,363L665,361M656,350L661,351L663,350M671,358L668,360L665,361M665,361L665,361L665,361M676,347L683,347L691,348M674,338L678,336L686,340M686,340L687,345L691,348M643,301L645,304L645,307M669,303L666,311L666,321M645,307L655,309L666,321M678,324L670,325L667,328M687,303L687,302L687,302M666,321L666,323L667,328M659,333L662,331L664,329M659,333L653,337L650,345M668,332L668,330L667,328M664,329L665,329L667,328M686,328L686,330L689,334M689,334L687,336L686,340M667,328L667,328L667,328M721,306L720,301L719,295M721,306L726,309L734,314M734,314L740,313L741,311M741,311L744,308L744,302M744,302L737,293L735,288M719,295L728,290L735,288M744,302L746,300L748,295M748,295L747,290L745,285M745,285L741,284L739,285M735,288L736,287L739,285M701,391L701,403L692,412M701,391L696,390L692,393M692,412L690,408L678,410M692,393L686,401L678,410M674,424L672,423L669,420M669,420L668,415L670,410M692,414L692,413L692,412M670,410L674,409L678,410M873,251L873,251L873,251M890,240L885,238L878,240M878,240L875,245L873,251M877,218L880,222L882,226M877,218L873,217L872,218M872,218L870,220L868,223M882,226L878,229L874,232M874,232L870,231L866,231M868,223L865,227L865,230M865,230L866,231L866,231M890,227L886,227L882,226M890,200L883,204L877,218M881,193L872,206L865,207M865,207L869,213L872,218M878,240L877,236L874,232M855,226L853,228L849,229M855,226L856,217L857,211M849,229L841,218L840,207M857,208L857,210L857,211M857,208L854,206L850,204M850,204L845,205L840,207M868,223L864,216L857,211M865,230L859,227L855,226M865,207L861,206L857,208M864,183L859,183L858,184M855,185L857,185L858,184M855,185L850,191L850,204M827,201L832,203L835,207M855,185L852,184L847,183M835,207L837,207L840,207M725,205L725,205L725,206M725,205L728,198L731,196M725,206L733,211L743,212M751,197L752,201L752,202M752,202L748,208L743,212M725,205L723,203L721,202M724,181L722,181L719,180M721,202L721,202L721,201M721,201L719,198L719,195M719,180L718,188L719,195M721,217L714,222L709,227M721,217L731,221L739,227M709,227L732,227L737,233M739,227L737,230L737,233M725,206L724,209L721,217M743,212L744,217L743,223M743,223L740,225L739,227M721,202L710,206L699,204M709,227L707,229L704,229M704,229L698,216L699,204M637,213L637,220L635,224M637,213L649,214L660,214M660,214L660,214L660,215M635,236L636,230L635,224M635,236L644,235L655,238M660,215L655,222L655,238M657,268L658,267L659,266M645,252L648,250L656,241M659,266L660,261L663,253M656,241L658,244L661,246M663,253L662,251L661,246M713,291L713,285L709,277M713,291L711,292L705,292M705,292L703,281L696,277M709,277L706,274L705,273M705,273L700,275L696,277M708,311L713,309L716,310M716,310L719,310L721,306M689,298L690,297L692,296M692,296L699,294L705,292M719,295L718,295L718,294M718,294L715,292L713,291M692,277L694,277L696,277M692,277L692,277L692,277M692,277L690,285L692,296M694,267L698,263L704,261M694,267L693,271L692,277M704,261L703,267L705,273M684,292L682,285L680,276M672,288L675,282L677,278M677,278L679,277L680,276M662,284L668,280L671,276M677,278L675,277L671,276M659,266L661,267L665,269M671,276L668,273L665,269M787,302L787,301L786,301M781,317L782,317L782,317M781,317L782,312L780,306M780,306L783,303L786,301M784,288L788,283L795,285M784,288L783,288L782,288M782,288L782,290L781,291M795,285L800,288L803,291M781,291L784,295L786,301M758,340L757,338L756,337M787,336L776,330L765,327M765,327L760,335L756,337M749,337L754,338L756,337M738,360L739,362L740,363M740,363L748,367L762,358M756,337L756,337L756,337M734,328L735,320L734,314M741,311L746,313L750,312M756,337L752,321L750,312M746,434L742,431L742,427M758,413L749,415L743,417M742,427L744,423L743,417M758,413L753,412L742,402M743,417L744,410L742,402M749,385L744,391L740,400M749,385L744,381L741,375M741,375L737,385L737,395M737,395L739,397L740,400M740,400L740,400L740,400M757,383L754,384L749,385M755,397L749,400L742,401M740,400L741,400L742,401M742,401L742,401L742,402M740,372L736,376L730,381M740,372L741,368L741,367M741,367L741,367L741,366M741,366L732,371L722,377M722,377L727,380L730,381M741,375L740,374L740,372M737,395L731,391L730,390M730,390L732,385L730,381M757,377L750,375L741,367M740,363L741,364L741,366M732,358L728,359L725,361M720,377L721,377L722,377M720,377L722,372L721,368M725,361L723,364L721,368M705,390L715,386L720,377M705,390L715,390L730,390M848,152L851,157L853,165M848,152L848,152L848,152M848,152L846,158L842,166M851,167L852,167L853,165M851,167L849,167L844,168M844,168L843,167L842,166M852,149L851,151L848,152M863,162L861,164L853,165M840,151L843,151L848,152M835,163L840,163L842,166M858,184L860,175L851,167M843,171L843,169L844,168M680,58L680,64L679,67M679,67L684,71L688,75M698,57L695,67L689,75M688,75L688,75L689,75M711,64L705,73L701,77M689,75L696,75L701,77M720,76L719,78L718,84M718,84L717,86L715,87M715,87L710,85L702,80M701,77L701,79L702,80M625,132L630,131L632,129M629,144L632,143L634,141M632,129L632,134L634,141M635,155L638,146L644,140M634,141L638,141L644,140M627,224L627,232L628,239M627,224L625,222L625,217M625,217L616,221L612,223M627,240L627,239L628,239M627,240L619,231L614,228M614,228L613,225L612,223M635,236L632,238L628,239M635,224L632,224L627,224M637,213L637,213L636,213M626,216L625,216L625,217M610,222L611,223L612,223M561,189L536,180L523,175M561,189L562,187L563,185M563,185L556,181L552,167M552,167L542,162L535,151M535,151L530,149L523,149M523,149L521,160L518,164M518,164L520,167L523,175M530,202L528,189L523,175M561,190L561,189L561,189M596,203L588,200L582,205M587,175L576,181L563,185M571,152L565,160L552,167M555,141L545,142L535,151M523,147L523,148L523,149M504,174L510,166L518,164M598,270L613,259L616,256M601,250L604,250L606,251M606,251L612,253L616,256M633,252L627,249L624,248M655,238L655,240L656,241M627,240L626,243L624,246M624,248L624,247L624,246M624,270L621,263L618,256M624,248L624,253L618,256M618,256L617,256L616,256M593,237L601,243L607,242M593,237L590,234L588,231M588,231L590,230L591,229M591,229L603,234L609,238M607,242L608,240L609,240M609,238L609,239L609,240M595,242L595,240L593,237M606,251L606,247L607,242M580,231L583,231L588,231M599,222L594,227L591,229M614,228L609,232L609,238M624,246L614,243L609,240M980,255L981,263L978,267M980,255L975,257L972,259M978,267L973,264L969,264M972,259L970,261L969,264M980,279L979,274L978,267M983,250L981,253L980,255M962,255L965,257L972,259M967,278L972,278L976,280M976,280L979,280L980,279M967,265L968,264L969,264M965,293L965,295L966,297M965,293L968,291L972,289M966,297L969,296L971,296M972,289L971,293L971,296M960,288L962,289L965,293M965,299L966,298L966,297M976,280L976,283L972,289M860,304L858,300L856,298M860,281L864,280L871,284M860,281L858,285L851,288M851,288L853,293L856,298M942,516L943,516L943,518M942,516L937,515L932,515M943,518L941,524L942,528M942,528L939,530L935,532M935,532L932,531L928,534M932,515L926,517L922,522M928,534L926,525L922,522M943,507L943,511L942,516M955,516L950,517L943,518M932,507L932,511L932,515M947,529L945,529L942,528M951,553L945,537L935,532M923,543L926,540L928,534M914,512L919,518L922,522M802,509L802,509L803,509M802,509L793,505L788,507M803,509L803,503L803,496M788,507L788,506L786,504M786,504L791,498L793,486M793,486L799,489L803,496M795,524L799,518L802,509M817,515L806,513L803,509M779,521L781,511L788,507M805,494L804,495L803,496M784,503L784,504L786,504M793,484L793,485L793,486M809,476L805,475L804,474M821,459L823,458L826,458M821,459L817,458L812,456M826,458L823,449L821,445M812,456L809,450L810,447M810,447L815,446L818,443M818,443L819,444L821,445M819,474L821,466L821,459M830,458L828,458L826,458M803,470L805,460L812,456M831,447L829,445L821,445M799,441L805,445L810,447M823,433L820,440L818,443M860,461L854,463L847,459M860,461L860,465L859,470M847,459L851,467L853,471M859,470L857,471L854,472M854,472L853,472L853,471M844,457L846,458L847,459M862,458L861,460L860,461M860,471L859,471L859,470M841,467L849,471L853,471M849,480L851,476L854,472M964,396L966,396L968,397M964,396L964,396L964,396M964,396L961,404L955,408M968,397L970,403L972,412M972,412L966,418L964,420M957,413L957,411L955,408M957,413L960,417L963,420M964,420L963,420L963,420M973,395L969,395L968,397M970,383L968,391L964,396M956,387L963,390L964,396M947,395L949,401L951,406M951,406L953,407L955,408M973,412L973,412L972,412M967,423L965,422L964,420M949,433L957,430L963,420M944,417L943,423L943,427M944,417L953,417L957,413M937,414L938,414L939,412M937,414L933,417L929,418M929,418L925,411L924,410M939,412L939,410L939,409M927,407L926,409L924,410M927,407L934,404L939,409M939,409L939,409L939,409M924,410L924,410L924,410M944,417L942,414L939,412M937,426L936,421L937,414M929,426L928,424L929,418M905,423L919,415L924,410M951,406L945,407L939,409M910,399L917,406L924,410M929,392L930,400L927,407M939,403L939,405L939,409M767,585L768,585L769,584M767,585L761,578L758,574M769,584L770,581L774,575M767,566L762,566L759,569M767,566L772,568L775,570M775,570L775,573L774,575M758,574L757,572L757,570M759,569L758,569L757,570M764,590L765,588L767,585M776,588L773,587L769,584M755,576L756,575L758,574M788,581L782,581L774,575M767,558L767,561L767,566M759,556L759,563L759,569M786,561L785,562L785,562M785,562L780,567L775,570M742,562L750,565L757,570M956,646L956,646L956,646M967,630L969,637L969,641M969,641L960,645L956,646M961,662L964,661L965,662M956,646L960,648L962,650M965,662L964,656L962,650M977,676L970,673L971,663M965,662L968,663L971,663M969,641L970,642L971,643M971,643L970,646L964,650M962,650L963,650L964,650M978,643L975,643L973,643M973,643L973,650L971,654M973,660L973,657L971,654M976,628L979,636L978,643M971,643L972,643L973,643M964,650L967,651L971,654M971,663L972,661L973,660M536,550L543,548L550,548M536,550L535,551L534,553M534,553L538,553L545,553M550,548L546,550L545,553M551,547L550,548L550,548M537,541L540,545L536,550M528,558L532,556L534,553M540,560L542,556L545,553M598,417L600,421L601,422M581,422L581,424L583,429M583,429L587,434L593,435M593,435L596,433L599,431M601,422L599,427L599,431M594,454L586,457L580,463M594,454L595,455L598,454M598,454L598,456L599,459M599,459L593,463L584,465M584,465L583,465L580,463M580,463L580,463L580,463M590,471L588,468L584,465M603,464L601,461L599,459M578,473L577,469L580,463M575,459L578,461L580,463M586,448L584,447L581,448M586,448L594,445L599,443M581,448L580,442L584,439M584,439L591,438L595,440M599,443L597,441L595,440M581,448L581,448L581,448M594,454L590,449L586,448M583,429L583,436L584,439M593,435L595,436L595,440M601,443L600,438L599,431M601,443L600,443L599,443M788,566L796,569L805,571M788,566L786,572L790,576M790,576L793,574L805,572M805,571L805,572L805,572M803,556L803,563L805,571M785,562L787,565L788,566M789,580L790,579L790,576M810,578L806,576L805,572M456,324L449,333L443,340M456,324L460,332L466,348M443,340L455,347L466,348M466,348L466,348L466,348M455,320L456,322L456,324M437,339L439,340L443,340M470,347L468,347L466,348M458,363L462,355L466,348M609,391L606,384L605,379M625,383L621,375L610,371M605,379L609,374L610,371M587,358L593,360L601,362M606,358L605,358L605,359M601,362L602,361L605,359M627,369L616,367L609,368M605,359L606,364L609,368M610,371L610,369L609,368M845,327L838,321L836,318M859,311L859,311L858,310M858,310L845,314L836,318M832,318L833,317L833,317M836,318L834,317L833,317M818,314L816,308L815,302M818,314L815,318L812,319M804,317L808,316L812,319M804,317L807,309L807,306M807,306L809,305L812,301M812,301L813,301L815,302M813,328L813,322L812,319M819,315L819,315L818,314M799,322L802,319L804,317M794,335L794,333L793,331M795,307L801,308L807,306M808,297L810,299L812,301M819,279L818,297L817,301M819,279L817,278L814,279M817,301L816,301L815,302M814,279L810,286L806,293M872,275L869,271L866,267M860,281L857,277L855,272M855,272L855,271L856,271M856,271L861,268L866,267M870,263L868,264L866,266M866,266L866,266L866,267M665,389L668,387L673,386M665,389L668,394L664,402M673,386L678,389L680,395M680,395L673,401L668,405M664,402L666,403L668,405M692,393L684,396L680,395M670,410L669,407L668,405M663,372L662,373L661,372M663,372L666,372L669,375M669,375L663,382L662,385M661,372L659,372L654,375M654,375L658,378L660,384M660,384L661,384L662,385M660,364L660,369L661,372M665,361L665,365L663,372M645,372L648,375L654,375M653,388L657,386L660,384M656,401L660,401L664,402M665,389L665,387L662,385M694,333L697,336L700,342M694,333L697,332L699,326M700,342L705,335L709,329M699,326L705,327L708,328M709,329L708,329L708,328M697,323L698,325L699,326M689,334L691,333L694,333M716,310L710,315L708,328M718,335L714,331L709,329M650,325L648,322L645,319M650,325L646,332L641,335M645,319L638,321L633,329M633,329L635,331L636,334M636,334L637,335L639,336M641,335L640,336L639,336M645,307L645,313L645,319M664,329L656,327L650,325M659,333L647,334L641,335M617,319L625,326L633,329M632,340L635,340L636,334M647,346L645,338L639,336M743,223L747,224L749,225M749,225L742,234L748,245M737,233L736,235L737,238M737,238L740,241L747,246M748,245L748,245L747,246M779,248L777,248L775,250M779,248L775,240L769,237M775,250L764,246L756,245M769,237L764,238L756,245M762,267L767,271L774,270M762,267L762,263L761,261M761,261L761,261L761,261M761,261L764,259L769,257M769,257L772,263L774,270M753,244L753,245L753,245M753,244L754,244L756,245M753,245L757,253L761,261M775,250L771,253L769,257M781,285L774,278L765,277M781,285L780,281L777,272M765,277L768,276L774,271M777,272L776,271L774,271M784,288L787,272L791,262M782,288L782,287L781,285M789,261L791,261L791,262M789,261L781,267L777,272M779,248L782,253L789,261M779,248L779,248L779,248M774,270L774,271L774,271M757,295L759,293L762,289M757,295L753,294L748,295M762,289L762,285L760,284M745,285L747,284L748,282M748,282L755,281L760,284M762,289L766,291L774,293M774,293L778,292L781,291M765,277L764,277L762,277M760,284L763,280L762,277M762,267L761,271L761,275M761,275L762,275L762,277M718,269L720,270L721,270M718,269L713,274L709,277M718,294L720,285L723,282M721,270L721,277L723,282M858,242L861,239L865,235M858,242L861,246L865,252M865,235L870,243L872,250M865,252L870,250L872,250M873,251L872,250L872,250M866,231L865,234L865,235M866,266L862,261L860,256M860,256L864,255L865,252M833,226L836,228L844,230M833,226L832,233L837,241M837,241L839,239L844,230M833,226L834,215L835,207M833,226L833,226L833,226M848,230L846,231L844,230M848,230L849,229L849,229M854,242L848,245L842,245M854,242L851,237L848,230M848,230L846,236L842,245M855,243L854,242L854,242M855,243L856,242L858,242M848,230L848,230L848,230M771,216L767,222L767,232M771,216L770,215L768,215M768,215L758,216L751,225M767,232L763,232L757,235M757,235L756,229L751,225M772,216L777,219L785,223M772,216L771,216L771,216M779,248L781,246L783,243M785,223L787,230L783,243M769,237L768,234L767,232M778,201L775,206L772,216M752,202L762,212L768,215M749,225L750,225L751,225M753,244L754,239L757,235M753,245L750,245L748,245M743,266L745,268L750,270M743,266L744,259L746,256M754,263L751,262L746,256M754,263L753,268L750,270M750,270L750,270L750,270M731,259L741,252L745,253M731,259L731,261L731,264M745,253L746,255L746,256M731,264L732,265L733,266M733,266L737,266L743,266M745,253L745,248L747,246M761,261L757,261L754,263M761,275L755,273L750,270M748,282L748,279L748,275M748,275L748,273L750,270M719,180L717,177L713,174M719,195L706,193L699,187M713,174L708,174L704,175M704,175L701,184L699,187M721,201L709,193L699,188M699,187L699,187L699,188M713,262L719,257L726,253M713,262L710,261L708,261M708,261L711,255L720,244M726,253L724,250L724,246M720,244L722,245L724,246M718,269L715,266L713,262M731,259L726,257L726,253M721,270L725,265L731,264M704,261L704,261L704,261M704,261L706,261L708,261M704,261L701,255L698,250M698,250L693,247L703,232M703,232L703,231L703,231M703,231L708,241L720,244M737,238L732,240L724,246M704,229L704,231L703,231M698,250L694,253L691,254M695,231L699,232L703,232M695,231L693,231L688,232M688,232L682,237L675,243M691,254L681,248L675,243M660,215L675,220L688,232M661,246L670,245L675,244M675,243L675,244L675,244M682,275L682,275L681,275M682,275L685,269L687,264M681,275L679,267L676,267M676,267L676,264L676,261M676,261L677,260L682,258M687,264L686,261L686,259M686,259L684,259L682,258M692,277L685,276L682,275M680,276L681,276L681,275M694,267L690,265L687,264M665,269L666,269L676,267M663,253L670,258L676,261M675,244L682,252L682,258M691,254L688,257L686,259M766,317L762,314L757,311M766,317L769,315L770,314M770,314L771,314L771,312M771,312L770,310L773,297M773,297L765,301L759,305M759,305L758,308L757,311M765,327L764,322L766,317M750,312L754,312L757,311M781,317L774,316L770,314M780,306L774,312L771,312M774,293L773,295L773,297M757,295L760,299L759,305M708,349L707,351L705,351M725,361L715,358L709,356M705,351L707,354L709,356M700,342L699,347L700,350M705,351L702,351L700,350M721,368L711,369L707,369M709,356L705,364L707,369M691,348L692,351L694,352M700,350L697,350L694,352M723,435L723,433L722,432M742,427L738,426L735,424M735,424L729,427L722,432M708,428L713,427L715,427M722,432L718,430L715,427M740,400L739,400L738,401M735,424L731,422L729,418M738,401L733,412L729,418M715,427L719,418L723,417M723,417L725,417L729,418M791,262L794,262L795,263M783,243L790,242L795,242M795,242L799,250L804,255M804,255L800,261L795,263M795,285L796,279L801,272M795,263L800,268L801,272M814,279L810,276L807,273M807,273L804,273L801,272M795,207L791,216L790,221M785,223L786,222L788,223M790,221L789,222L788,223M806,208L805,215L804,221M790,221L798,218L804,221M733,76L734,78L737,86M718,84L722,87L729,89M737,86L733,89L729,89M721,102L721,101L720,100M721,102L726,102L730,100M720,100L721,96L729,90M730,100L731,93L729,90M715,87L713,90L714,92M720,100L715,95L714,92M729,90L729,89L729,89M770,119L761,120L751,122M763,130L757,134L747,132M747,132L749,128L751,122M769,115L764,108L757,107M757,107L752,113L748,117M751,122L750,120L748,117M758,150L755,150L754,149M747,132L747,132L746,133M746,133L746,136L747,137M747,137L750,144L754,149M748,164L748,155L751,151M751,151L753,150L754,149M669,171L673,180L674,184M669,171L672,167L678,166M697,169L687,174L674,184M697,169L697,169L696,167M696,167L685,166L678,166M632,129L634,127L636,126M636,126L643,132L645,139M644,140L644,140L645,140M645,139L645,139L645,140M645,153L645,149L649,144M645,140L646,142L649,144M650,159L654,157L660,152M660,152L656,149L655,146M649,144L652,145L655,146M679,67L676,71L666,74M662,69L662,70L662,70M666,74L665,72L662,70M632,106L632,106L633,106M625,85L632,95L635,97M633,106L634,102L635,97M634,77L633,86L637,95M637,95L636,96L635,97M656,438L656,438L656,439M656,438L660,432L664,422M656,439L652,434L647,430M647,430L649,425L652,419M664,422L657,419L652,419M663,441L660,438L656,438M652,447L652,445L652,443M652,443L655,440L656,439M669,420L667,422L664,422M652,419L652,419L652,419M608,463L605,459L605,451M619,461L619,461L619,460M619,460L612,451L605,451M598,454L601,451L602,448M605,451L604,450L602,448M601,443L602,444L602,444M602,448L602,446L602,444M652,443L643,444L638,442M634,427L635,432L637,441M634,427L640,430L647,430M638,442L637,441L637,441M644,461L642,459L641,458M638,442L640,448L641,458M597,369L599,373L600,376M597,369L590,372L584,376M600,376L597,380L594,381M594,381L590,383L586,381M584,376L584,378L586,381M605,379L601,378L600,376M601,362L599,365L597,369M580,373L583,374L584,376M607,391L597,386L594,381M586,385L586,383L586,381M844,304L837,307L833,308M844,304L843,301L842,296M833,308L828,301L826,299M826,299L834,294L836,284M842,296L840,290L837,285M836,284L837,285L837,285M858,310L854,306L844,304M833,317L835,313L833,308M856,298L849,296L842,296M817,301L820,300L826,299M819,279L825,280L831,275M834,277L832,275L831,275M834,277L835,280L836,284M851,288L844,286L837,285M834,277L836,276L836,275M855,272L849,271L844,271M836,275L840,273L844,271M844,271L844,270L844,270M856,271L857,262L857,257M844,270L853,265L857,257M860,256L859,257L857,257M857,257L857,257L857,257M737,273L735,270L733,268M737,273L738,276L737,281M733,268L730,274L728,278M737,281L732,280L728,278M748,275L740,272L737,273M733,266L733,268L733,268M739,285L738,283L737,281M723,282L726,282L728,278M697,201L690,209L683,210M697,201L696,198L695,193M695,193L688,191L674,190M683,210L676,210L661,211M674,190L670,195L661,203M661,203L662,206L661,211M695,231L685,220L683,210M699,204L698,202L697,201M699,188L697,190L695,193M697,169L702,171L704,175M674,184L673,187L674,190M660,214L660,213L661,211M661,171L663,170L665,170M669,171L667,170L665,170M649,189L651,194L661,203M680,365L681,369L681,371M680,365L688,356L694,352M694,352L703,364L703,376M681,372L681,372L681,371M681,372L689,383L699,386M699,386L704,383L703,376M673,359L678,361L680,365M669,375L675,373L681,371M694,352L694,352L694,352M707,369L704,373L703,376M673,386L673,377L681,372M701,391L701,390L701,390M701,390L700,387L699,386M703,391L703,391L701,390M703,391L704,390L705,390M736,401L728,405L720,411M736,401L723,401L710,399M720,411L716,407L712,405M710,399L711,401L712,405M738,401L737,401L736,401M723,417L721,415L720,411M703,391L707,396L710,399M704,427L708,414L712,405M804,255L806,253L811,253M811,253L814,253L817,252M807,273L818,263L820,258M817,252L818,255L820,258M831,275L829,269L825,263M836,275L835,263L839,253M825,263L830,257L839,253M825,263L823,261L820,258M824,200L815,211L816,227M804,221L805,222L807,225M807,225L813,226L816,227M833,226L829,227L821,232M816,227L819,229L821,232M837,241L836,243L835,245M822,243L829,245L835,245M822,243L821,239L821,236M821,232L820,235L821,236M737,86L737,86L737,87M730,100L732,101L734,101M734,101L735,94L737,87M759,93L757,94L753,95M757,107L755,106L752,97M753,95L753,96L752,97M751,79L751,83L749,88M753,95L752,91L749,88M749,88L743,87L737,87M735,172L731,169L727,162M742,165L741,163L737,160M737,160L732,160L727,162M751,151L749,153L743,153M737,160L739,156L743,153M667,126L667,125L667,125M667,126L673,131L675,136M675,136L680,136L685,136M688,129L686,135L685,136M688,129L688,123L684,118M667,125L678,118L684,118M653,87L650,83L647,77M653,87L652,88L650,90M650,90L647,90L643,91M643,91L638,84L636,76M647,77L644,74L641,72M636,76L639,73L641,72M634,77L635,76L636,76M637,95L641,92L643,91M642,62L641,69L641,72M662,70L653,72L647,77M674,141L678,145L679,151M674,141L669,146L662,153M662,154L662,153L662,153M662,154L672,155L677,156M677,156L679,154L679,151M675,136L675,138L674,141M688,152L683,150L679,151M688,152L688,143L689,138M685,136L686,136L689,138M660,152L660,152L662,153M667,126L661,132L655,146M665,170L665,160L662,154M678,166L679,160L677,156M696,167L694,163L696,159M696,159L694,153L688,152M710,126L705,124L702,121M710,126L703,136L702,143M702,121L695,129L693,139M693,139L698,139L702,143M702,143L702,143L702,143M702,149L703,147L702,143M702,149L698,155L696,159M689,138L691,138L693,139M682,93L682,93L682,93M682,93L676,83L666,79M682,93L679,97L676,100M666,79L662,84L656,87M656,87L662,93L669,104M669,104L674,103L676,100M688,75L685,87L682,93M666,74L665,77L666,79M653,87L654,88L656,87M701,98L704,102L705,107M701,98L698,98L696,97M696,97L695,97L693,97M693,97L689,107L692,115M705,107L705,114L701,121M692,115L695,117L700,120M701,121L701,120L700,120M721,102L719,106L720,109M720,109L712,107L705,107M714,92L708,95L701,98M702,80L700,90L696,97M682,93L686,98L693,97M686,116L683,106L676,100M686,116L690,116L692,115M720,109L723,114L722,118M722,118L718,122L715,125M715,125L712,125L710,126M702,121L702,121L701,121M688,129L694,126L700,120M684,118L685,117L686,116M619,460L622,453L621,447M619,460L626,459L634,454M621,447L624,447L631,446M634,454L633,451L631,446M619,460L619,460L619,460M641,458L640,456L634,454M637,441L633,443L631,446M617,441L615,440L613,440M617,441L627,433L632,425M613,440L612,436L610,430M610,430L615,423L623,420M623,420L628,421L630,423M630,423L631,425L632,425M632,425L632,425L632,425M602,444L608,443L613,440M621,447L619,444L617,441M634,427L632,427L632,425M601,422L607,425L610,430M617,413L620,418L623,420M633,404L630,415L630,423M641,418L635,423L632,425M846,255L849,254L853,254M846,255L843,254L840,251M840,251L839,249L839,248M853,249L848,247L842,246M853,249L853,252L853,254M842,246L840,247L839,248M844,270L844,261L846,255M857,257L855,255L853,254M839,253L839,252L840,251M817,252L820,249L822,243M835,245L837,246L839,248M855,243L854,246L853,249M842,245L842,245L842,246M802,239L802,239L802,239M802,239L798,239L796,241M802,239L804,235L803,231M796,241L795,237L796,232M796,232L799,232L803,231M811,253L807,249L802,239M821,236L811,238L802,239M795,242L795,241L796,241M807,225L805,228L803,231M788,223L791,229L796,232M737,104L742,102L746,101M737,104L737,111L735,115M746,101L744,113L747,116M735,115L741,116L747,116M734,101L736,103L737,104M752,97L748,100L746,101M731,119L729,120L722,118M731,119L733,117L735,115M748,117L747,116L747,116M746,133L743,130L736,128M731,119L735,123L736,128M736,128L734,131L729,137M715,125L714,130L721,137M729,137L725,138L721,137M713,174L719,166L723,161M702,149L711,151L718,155M723,161L719,158L718,155M727,162L725,161L724,161M723,161L723,161L724,161M702,143L711,143L718,142M718,155L717,146L718,142M721,137L720,138L719,140M718,142L719,141L719,140M660,121L661,120L662,120M660,121L655,122L638,117M662,120L663,114L664,111M664,111L658,103L651,102M651,102L642,107L633,107M638,117L638,115L635,113M635,113L634,110L633,107M645,139L650,127L660,121M667,125L666,123L662,120M636,126L636,122L638,117M669,104L666,108L664,111M650,90L650,96L651,102M633,106L633,107L633,107M623,120L630,116L635,113M740,151L731,150L729,150M740,151L736,148L734,143M734,143L734,143L733,143M733,143L731,146L730,148M729,150L729,149L730,148M743,153L742,152L740,151M724,161L726,154L729,150M747,137L742,143L734,143M729,137L731,139L733,143M719,140L725,146L730,148" fill="none" stroke="#fff" stroke-width="0.5" stroke-opacity="0.55" clip-path="url(#land)"/>
<path d="M704.5,171 L702.8,170 L695.5,170.6 L688.5,171.8 L684,172.9 L672.7,174.1 L665.9,176.5 L659,178.5 L654,180 L651,185 L648.5,193 L646,200 L644.3,210.4 L642,227.4 L642.5,244 L641.3,256.6 L644.1,265.1 L648.4,273.6 L652.6,276.5 L658.3,273.6 L664,266.5 L666.8,253.8 L668.1,244.4 L664.7,235.4 L662.4,227.4 L661.3,218.3 L663.6,210.4 L664.7,201.3 L668.1,196.8 L675,199 L676.1,193.4 L677.2,187.7 L680.6,177.5 L685.7,177.3 L693,178.5 L702.8,182.2 L705,180Z" fill="#fff"/>
<path d="M886.6,258.3 L895,254 L905,249 L913.4,244.9 L908.5,253.4 L896.3,259.5 L886.6,264.4Z" fill="#dddddd"/>
<path d="M852,304 L854,318 L858,327 L860,333 L859,344 L858,352 L861,357 L868,359 L869,354 L866,345 L864.5,333 L862,327 L858,318 L855,304Z" fill="#fff"/>
<path d="M91.5,73 L91,80 L89.6,89.7 L86,94 L83.9,95.4" fill="none" stroke="#fff" stroke-width="2.2" stroke-linecap="round" stroke-linejoin="round"/>
<path d="M651.5,181 L646.5,187 L642,195 L638.5,204 L636.5,210" fill="none" stroke="#fff" stroke-width="2.2" stroke-linecap="round" stroke-linejoin="round"/>
<path d="M860.4,380.3 L866,378 L873.3,374.7" fill="none" stroke="#fff" stroke-width="2.2" stroke-linecap="round" stroke-linejoin="round"/>
<path d="M863.7,391.3 L866,394.5 L869.4,398.3" fill="none" stroke="#fff" stroke-width="2.2" stroke-linecap="round" stroke-linejoin="round"/>
<path d="M179.2,77.1 L176.6,88.6 L174,100.2 L171.4,111.9 L168.8,123.5 L166.1,135.2 L165.9,145.1" fill="none" stroke="#fff" stroke-width="1.4" stroke-linejoin="round"/>
<path d="M133.4,137.5 L141.5,139.5 L149.7,141.4 L157.8,143.3 L165.9,145.1" fill="none" stroke="#fff" stroke-width="1.4" stroke-linejoin="round"/>
<path d="M165.9,145.1 L170.9,156.5 L162.3,171.7 L152.7,182.7 L155,195.2 L151.9,199.3 L149.1,211.5 L146.4,223.6 L143.7,235.8" fill="none" stroke="#fff" stroke-width="1.4" stroke-linejoin="round"/>
<path d="M24.6,204.3 L32.9,206.8 L41.2,209.3 L49.5,211.7 L57.9,214.1 L66.3,216.4 L74.6,218.7 L83,221 L91.4,223.2 L99.9,225.3 L108.3,227.5 L116.7,229.5 L125.2,231.6 L133.6,233.5 L142.1,235.5 L150.6,237.4 L159.1,239.2 L167.6,241 L176.1,242.8 L184.6,244.5 L193.1,246.2 L201.7,247.8 L210.2,249.4 L218.8,250.9 L227.3,252.4 L235.9,253.8 L244.5,255.2" fill="none" stroke="#fff" stroke-width="1.4" stroke-linejoin="round"/>
<path d="M94.1,223.9 L91.2,235.2 L88.3,246.6 L85.3,257.9 L82.4,269.3 L79.5,280.7 L76.5,292 L83.5,303.5 L90.7,315 L97.9,326.4 L105.3,337.8 L112.8,349.2 L120.4,360.5 L128.1,371.8 L135.9,383.1 L143.9,394.4 L152,405.6" fill="none" stroke="#fff" stroke-width="1.4" stroke-linejoin="round"/>
<path d="M193.7,246.3 L191.4,258.4 L189.1,270.6 L186.7,282.8 L184.4,294.9 L182,307.1 L179.7,319.3 L177.4,331.5 L175,343.7 L172.7,355.9 L170.3,368 L168,380.2 L154.6,381.7 L155.4,394.3 L152,405.6" fill="none" stroke="#fff" stroke-width="1.4" stroke-linejoin="round"/>
<path d="M152,405.6 L154.8,410.9 L158.1,423.5 L151.2,429.3 L147.6,438.2 L143,442 L145.3,452 L145.2,455.6 L139.8,457.6" fill="none" stroke="#fff" stroke-width="1.4" stroke-linejoin="round"/>
<path d="M194.2,80.3 L191.7,91.8 L189.3,103.3 L191.9,117.6 L200.7,130 L206.1,139.4 L205.7,149.9 L202.2,163.5 L212,164.2 L216.7,179.3 L219.4,186.9 L224.7,194.9 L233.5,192.9 L244.9,194.9 L253.7,197.5" fill="none" stroke="#fff" stroke-width="1.4" stroke-linejoin="round"/>
<path d="M255.5,186 L253.7,197.5 L251.8,209 L250,220.5 L248.2,232.1 L246.3,243.6 L244.5,255.2 L242.6,266.8 L240.8,278.3" fill="none" stroke="#fff" stroke-width="1.4" stroke-linejoin="round"/>
<path d="M255.5,186 L263.6,187.2 L271.7,188.5 L279.9,189.7 L288,190.8 L296.1,191.9 L304.3,193 L312.4,194 L320.6,195 L328.8,195.9 L336.9,196.8 L345.1,197.6 L353.3,198.4 L361.5,199.2 L369.6,199.9" fill="none" stroke="#fff" stroke-width="1.4" stroke-linejoin="round"/>
<path d="M240.8,278.3 L249.4,279.7 L258,281 L266.6,282.3 L275.2,283.5 L283.8,284.6 L292.5,285.8 L301.1,286.8 L309.8,287.9 L318.4,288.9 L327.1,289.8 L335.7,290.7 L344.4,291.6 L353,292.4 L361.7,293.1 L370.4,293.8 L379.1,294.5 L387.8,295.1 L396.4,295.7" fill="none" stroke="#fff" stroke-width="1.4" stroke-linejoin="round"/>
<path d="M275.2,283.5 L273.6,295.3 L271.9,307.1 L270.3,319 L268.7,330.8 L267,342.7 L265.4,354.5 L263.8,366.3 L262.1,378.2 L260.5,390 L258.8,401.9 L257.2,413.7 L255.6,425.5 L253.9,437.4 L252.3,449.2 L250.7,461 L249,472.8 L247.4,484.6 L245.8,496.4 L244.2,508.2" fill="none" stroke="#fff" stroke-width="1.4" stroke-linejoin="round"/>
<path d="M171.6,361.5 L180.8,363.3 L190.1,365 L199.3,366.6 L208.6,368.2 L217.9,369.8 L227.2,371.3 L236.5,372.8 L245.8,374.2 L255.1,375.5 L264.4,376.8 L273.7,378.1 L283.1,379.3 L292.4,380.4 L301.7,381.5 L311.1,382.6 L320.5,383.6 L329.8,384.5 L339.2,385.4 L348.6,386.3 L357.9,387.1 L367.3,387.8 L376.7,388.5 L386.1,389.2 L395.5,389.8 L404.9,390.3 L414.2,390.8 L423.6,391.2 L433,391.6 L442.4,392 L451.9,392.3 L461.3,392.5 L470.7,392.7 L480.1,392.9 L489.5,392.9 L498.9,393 L508.3,393 L517.7,392.9 L527.1,392.8" fill="none" stroke="#fff" stroke-width="1.4" stroke-linejoin="round"/>
<path d="M377.5,107.6 L376.5,119.1 L375.5,130.6 L374.5,142.1 L373.6,153.6 L372.6,165.2 L371.6,176.7 L370.6,188.3 L369.6,199.9 L368.6,211.5 L367.7,223.1 L366.7,234.8 L365.7,246.4 L364.7,258.1 L363.7,269.8 L362.7,281.4 L361.7,293.1" fill="none" stroke="#fff" stroke-width="1.4" stroke-linejoin="round"/>
<path d="M371.5,178.1 L380.1,178.8 L388.8,179.5 L397.4,180.1 L406.1,180.7 L414.7,181.2 L423.4,181.6 L432,182.1 L440.7,182.4 L449.3,182.7 L458,183 L466.7,183.2 L475.3,183.4 L484,183.5 L492.7,183.6" fill="none" stroke="#fff" stroke-width="1.4" stroke-linejoin="round"/>
<path d="M365.7,246.4 L374.2,247.1 L382.7,247.8 L391.2,248.4 L399.7,249 L408.3,249.5 L416.8,250 L425.3,250.4 L433.8,250.8 L442.4,251.1 L450.9,251.4 L459.4,251.6 L469.5,255.4 L481.4,255.6 L491.5,261.5 L494.1,264.1" fill="none" stroke="#fff" stroke-width="1.4" stroke-linejoin="round"/>
<path d="M396.4,295.7 L395.7,307.4 L395,319.1 L394.2,330.8 L393.5,342.6 L392.7,354.3 L392,366 L391.2,377.7 L390.5,389.4" fill="none" stroke="#fff" stroke-width="1.4" stroke-linejoin="round"/>
<path d="M395,319.1 L404.1,319.7 L413.2,320.2 L422.4,320.6 L431.5,321.1 L440.7,321.4 L449.8,321.7 L459,322 L468.1,322.2 L477.3,322.3 L486.4,322.5 L495.6,322.5 L504.8,322.5 L513.9,322.5" fill="none" stroke="#fff" stroke-width="1.4" stroke-linejoin="round"/>
<path d="M373,388.2 L372.2,400 L371.2,411.7 L370.2,423.4 L369.2,435 L368.2,446.7 L367.2,458.4 L366.2,470.1 L365.2,481.8 L364.2,493.4 L363.2,505.1 L353.3,504.3 L343.3,503.5 L333.4,502.6 L323.4,501.7 L313.5,500.7 L303.6,499.7 L293.6,498.6" fill="none" stroke="#fff" stroke-width="1.4" stroke-linejoin="round"/>
<path d="M372.2,400 L381.4,400.6 L390.7,401.2 L399.9,401.8 L409.1,402.3 L418.4,402.8 L427.6,403.2 L427,418.3 L426.4,433.5 L425.7,448.7 L435.1,452.8 L440.6,457.7 L452.1,459.2 L463.4,465.3 L473,465.5 L480.6,469.1 L490.2,466.9 L501.7,466.9 L511.3,466.4 L520.9,466.3 L531,471.6" fill="none" stroke="#fff" stroke-width="1.4" stroke-linejoin="round"/>
<path d="M527.1,392.8 L526.9,380.5 L526.8,368.1 L526.6,355.8 L526.4,343.5 L521.3,336.5 L517.7,329.5 L520.3,324.8 L513.9,322.5" fill="none" stroke="#fff" stroke-width="1.4" stroke-linejoin="round"/>
<path d="M527.1,392.8 L527.3,404.5 L529.2,417.4 L531.2,430.3 L531.1,444.1 L531,457.8 L531,471.6" fill="none" stroke="#fff" stroke-width="1.4" stroke-linejoin="round"/>
<path d="M531,471.6 L539.5,473.5 L539.7,486 L550.8,485.7 L562,485.4 L573.1,485 L584.2,484.5 L595.3,484" fill="none" stroke="#fff" stroke-width="1.4" stroke-linejoin="round"/>
<path d="M539.7,486 L540,498 L540.2,510 L545.1,516.7 L550.3,528.3 L549.6,540 L547.8,549.3 L545.3,563.4" fill="none" stroke="#fff" stroke-width="1.4" stroke-linejoin="round"/>
<path d="M482.7,112.8 L484.5,128.9 L487.5,145.1 L489,161.3 L492.1,175.2 L492.7,183.6" fill="none" stroke="#fff" stroke-width="1.4" stroke-linejoin="round"/>
<path d="M492.7,183.6 L492.6,192 L487.9,191.5 L494.4,198.5 L494.3,212.5 L494.2,226.5 L494.2,240.5 L491.6,249.8 L494.1,264.1" fill="none" stroke="#fff" stroke-width="1.4" stroke-linejoin="round"/>
<path d="M494.2,240.5 L502.9,240.5 L511.7,240.5 L520.5,240.4 L529.3,240.3 L538.1,240.1 L546.9,239.9 L555.6,239.6 L564.4,239.3 L573.2,238.9 L582,238.5" fill="none" stroke="#fff" stroke-width="1.4" stroke-linejoin="round"/>
<path d="M494.1,264.1 L498.3,275.6 L500.9,287.3 L503.5,294.4 L504.3,306.1 L513.9,322.5" fill="none" stroke="#fff" stroke-width="1.4" stroke-linejoin="round"/>
<path d="M505.8,308.9 L514.6,308.8 L523.4,308.6 L532.3,308.4 L541.1,308.1 L550,307.8 L558.8,307.4 L567.6,307 L576.5,306.5 L582.1,311.7" fill="none" stroke="#fff" stroke-width="1.4" stroke-linejoin="round"/>
<path d="M562.6,164.8 L561,166 L561.5,178.8 L553.8,190.7 L555.1,204.6 L554.5,210.4 L563,217.1 L571.5,222.6 L578.5,229.3 L582,238.5" fill="none" stroke="#fff" stroke-width="1.4" stroke-linejoin="round"/>
<path d="M582,238.5 L582.8,247.8 L586.6,257 L593,261.3 L601.1,270.2 L601.5,277.3 L596.8,284.6 L588.4,289.7 L587.2,301.5 L582.1,311.7 L582.9,320.6 L590.8,336.6 L598.5,345.6 L606.1,352.2 L606.8,363.9 L618.6,377.3 L621.2,388.9 L627.7,388.4" fill="none" stroke="#fff" stroke-width="1.4" stroke-linejoin="round"/>
<path d="M593,261.3 L602.7,260.8 L612.3,260.1 L622,259.4 L631.6,258.7 L641.3,257.9" fill="none" stroke="#fff" stroke-width="1.4" stroke-linejoin="round"/>
<path d="M591.5,166.4 L598.4,173.4 L606.5,174 L619.7,177.7 L629.8,181.6 L634.6,190.5 L639.3,197.1" fill="none" stroke="#fff" stroke-width="1.4" stroke-linejoin="round"/>
<path d="M647.4,274.7 L648.7,288.8 L649.9,302.9 L651.2,317 L652.5,331.1 L651.9,339.4 L654.4,346.2 L648.2,358.6 L646.3,368.1" fill="none" stroke="#fff" stroke-width="1.4" stroke-linejoin="round"/>
<path d="M694,271.3 L695.4,283.4 L696.9,295.5 L698.3,307.7 L699.7,319.8 L701.2,331.9" fill="none" stroke="#fff" stroke-width="1.4" stroke-linejoin="round"/>
<path d="M653.1,274.2 L663.4,273.6 L673.7,272.9 L684,272.1 L694.4,271.3 L705.9,269.5 L717.4,267.7" fill="none" stroke="#fff" stroke-width="1.4" stroke-linejoin="round"/>
<path d="M627.7,388.4 L639.4,385.2 L645.9,375.2 L646.3,368.1 L654.2,365.1 L665.1,364.1 L674.1,363.2 L682.9,360 L687.6,352.4 L691.9,342.4 L701.2,331.9 L708.6,331 L722.6,341.1 L734.7,337.1 L742.9,343.1 L748.6,332.7 L755,327 L760.7,316.7 L768.4,308.3 L770.4,298.5 L771.4,285.5" fill="none" stroke="#fff" stroke-width="1.4" stroke-linejoin="round"/>
<path d="M766.3,254 L768.4,267.2 L770.6,280.4 L772.8,293.6 L774.9,306.8" fill="none" stroke="#fff" stroke-width="1.4" stroke-linejoin="round"/>
<path d="M778.1,245.6 L779.1,251.9 L788.4,250.2 L797.7,248.5 L807,246.8 L816.3,245 L825.5,243.2 L834.8,241.3 L844,239.3 L853.2,237.3 L858.6,240.9 L867.6,249.4 L881.4,254.9" fill="none" stroke="#fff" stroke-width="1.4" stroke-linejoin="round"/>
<path d="M867.6,249.4 L863.2,261.5 L864.8,268.4 L873.7,276 L868.1,283.3 L861.9,288.2 L857.3,291.1" fill="none" stroke="#fff" stroke-width="1.4" stroke-linejoin="round"/>
<path d="M774.9,306.8 L784.1,305.3 L793.3,303.7 L802.5,302 L811.6,300.3 L820.8,298.6 L829.9,296.8 L839.1,295 L848.2,293.1 L857.3,291.1 L860.5,305.7 L863.6,320.3 L876.7,317.4" fill="none" stroke="#fff" stroke-width="1.4" stroke-linejoin="round"/>
<path d="M793.1,303.7 L795.2,315.7 L802.6,308.5 L810.9,304.5 L819.5,301.7 L824.3,308 L830,309.3 L838.2,313.6 L839.7,316.9 L837.2,327 L842.9,328.2 L857,333.7" fill="none" stroke="#fff" stroke-width="1.4" stroke-linejoin="round"/>
<path d="M875.3,327.9 L864.1,332.2" fill="none" stroke="#fff" stroke-width="1.4" stroke-linejoin="round"/>
<path d="M824.3,308 L814.6,314.6 L807.9,327.8 L799.9,334 L794.4,344.5 L788.8,355 L778.7,361.4 L770,365.1 L763.2,368.6 L757.1,361.4" fill="none" stroke="#fff" stroke-width="1.4" stroke-linejoin="round"/>
<path d="M757.1,361.4 L750.6,358.6 L743.5,347.7 L742.9,343.1" fill="none" stroke="#fff" stroke-width="1.4" stroke-linejoin="round"/>
<path d="M757.1,361.4 L748.6,370.7 L738.8,380.4 L729,387.6" fill="none" stroke="#fff" stroke-width="1.4" stroke-linejoin="round"/>
<path d="M622,400.6 L635.2,399.7 L648.4,398.6 L648.1,394.4 L652.2,395.2 L661.9,394.5 L671.5,393.6 L681.1,392.8 L690.7,391.8 L700.3,390.9 L709.8,389.8 L719.4,388.8 L729,387.6 L738.2,386.5 L747.3,385.3 L756.5,384 L765.7,382.7 L775.3,381.3 L785,379.8 L794.7,378.3 L804.3,376.7 L813.9,375.1 L823.6,373.4 L833.2,371.7 L842.8,369.9 L852.4,368.1 L862,366.2 L871.6,364.2" fill="none" stroke="#fff" stroke-width="1.4" stroke-linejoin="round"/>
<path d="M765.7,382.7 L760.8,390.3 L750.8,398.9 L742.3,406 L735.5,411.6 L726.4,414 L721.7,421.7 L721.9,426.6" fill="none" stroke="#fff" stroke-width="1.4" stroke-linejoin="round"/>
<path d="M609.4,436.7 L619.6,436.1 L629.9,435.4 L640.1,434.7 L650.3,433.9 L660.6,433 L670.8,432.1 L681,431.1 L691.3,430.1 L701.5,429 L711.7,427.8 L721.9,426.6 L733.3,425.1 L744.7,423.4" fill="none" stroke="#fff" stroke-width="1.4" stroke-linejoin="round"/>
<path d="M744.7,423.4 L757.1,416.9 L770.3,415.6 L783.4,414.1 L785.5,415 L788.4,421.7 L798.7,420 L809,418.2 L821.7,427.3 L834.5,436.3" fill="none" stroke="#fff" stroke-width="1.4" stroke-linejoin="round"/>
<path d="M744.7,423.4 L741,431 L752.9,441.2 L766.3,453.5 L773.4,461.9 L782.5,470 L790,480.7 L797.2,486" fill="none" stroke="#fff" stroke-width="1.4" stroke-linejoin="round"/>
<path d="M697.7,429.5 L702.2,443.6 L706.7,457.8 L711.2,472 L715.9,486.1 L717.2,497.7 L716.6,509.6 L719.9,520.9" fill="none" stroke="#fff" stroke-width="1.4" stroke-linejoin="round"/>
<path d="M719.9,520.9 L709.6,522.1 L699.4,523.2 L689.1,524.3 L678.8,525.3 L668.5,526.2 L668.7,528.5 L672.9,542.2" fill="none" stroke="#fff" stroke-width="1.4" stroke-linejoin="round"/>
<path d="M719.9,520.9 L723.5,527.6 L734.1,526.9 L744.7,526.2 L755.3,525.4 L765.9,524.5 L776.5,523.6 L779.7,517.7 L782,519.7 L790.9,518.4" fill="none" stroke="#fff" stroke-width="1.4" stroke-linejoin="round"/>
<path d="M648.9,433.9 L651,436.1 L650.8,447.9 L650.6,459.6 L650.4,471.4 L650.1,483.2 L649.9,494.9 L649.6,506.7 L651.1,519.8 L652.6,533 L654.1,546.1" fill="none" stroke="#fff" stroke-width="1.4" stroke-linejoin="round"/>
<path d="M627.7,388.4 L622,400.6 L619.1,412.6 L620.4,417.2 L612.5,427.1 L614.1,436.4 L606,444 L604.6,453.4 L597.5,463.2 L594.2,472.8 L596.7,484.4 L597.3,496.1 L601.8,507.5 L592.5,517.4 L589.2,531.5 L601.5,530.9 L613.9,530.2 L626.3,529.5 L625.5,538.9 L630.1,547.9" fill="none" stroke="#fff" stroke-width="1.4" stroke-linejoin="round"/>
<path d="M527.3,404.5 L537.6,404.4 L548,404.1 L558.3,403.8 L568.7,403.5 L579,403 L589.4,402.5 L599.7,402 L610,401.4 L611.5,410.7 L619.1,412.6" fill="none" stroke="#fff" stroke-width="1.4" stroke-linejoin="round"/>
<path d="M870.4,161.1 L873.1,172.6 L875.8,184 L879.6,193.4 L884.4,212 L884.1,229 L888.2,246.1 L887.1,253.5" fill="none" stroke="#fff" stroke-width="1.4" stroke-linejoin="round"/>
<path d="M899.7,153.7 L900.5,163.4 L895.9,171.8 L895.6,183.9 L895.8,198.3 L897.5,209.3" fill="none" stroke="#fff" stroke-width="1.4" stroke-linejoin="round"/>
<path d="M884.2,212.1 L897.5,209.3 L907.1,207.1 L916.7,205 L923.9,198.9" fill="none" stroke="#fff" stroke-width="1.4" stroke-linejoin="round"/>
<path d="M904.6,145.4 L909.2,159.8 L913.8,174.3 L918.4,185.2 L924.2,193.8" fill="none" stroke="#fff" stroke-width="1.4" stroke-linejoin="round"/>
<path d="M884.1,229 L893.6,226.9 L903.1,224.8 L912.5,222.6 L919.5,220.7 L925,229.4" fill="none" stroke="#fff" stroke-width="1.4" stroke-linejoin="round"/>
<path d="M912.5,222.6 L916.6,238.2" fill="none" stroke="#fff" stroke-width="1.4" stroke-linejoin="round"/>
<path d="M56.9,112.4 L68.3,116.7 L72.6,123.8 L75.4,132.3 L95.2,135.1 L106.6,137.9 L130,136.5 L133.4,137.5" fill="none" stroke="#fff" stroke-width="1.4" stroke-linejoin="round"/>
</svg>

<div class="lg">
 <span class="sw" style="left:292px;background:#6fcfe3"></span><span class="tx" style="left:316px">&lt; 50%</span>
 <span class="sw" style="left:384px;background:#5fb9e2"></span><span class="tx" style="left:408px">50%–90%</span>
 <span class="sw" style="left:505px;background:#4a9fe0"></span><span class="tx" style="left:527px">90%–99%</span>
 <span class="sw" style="left:625px;background:#1f7fd6"></span><span class="tx" style="left:648px">≥99%</span>
</div>
</body></html>
